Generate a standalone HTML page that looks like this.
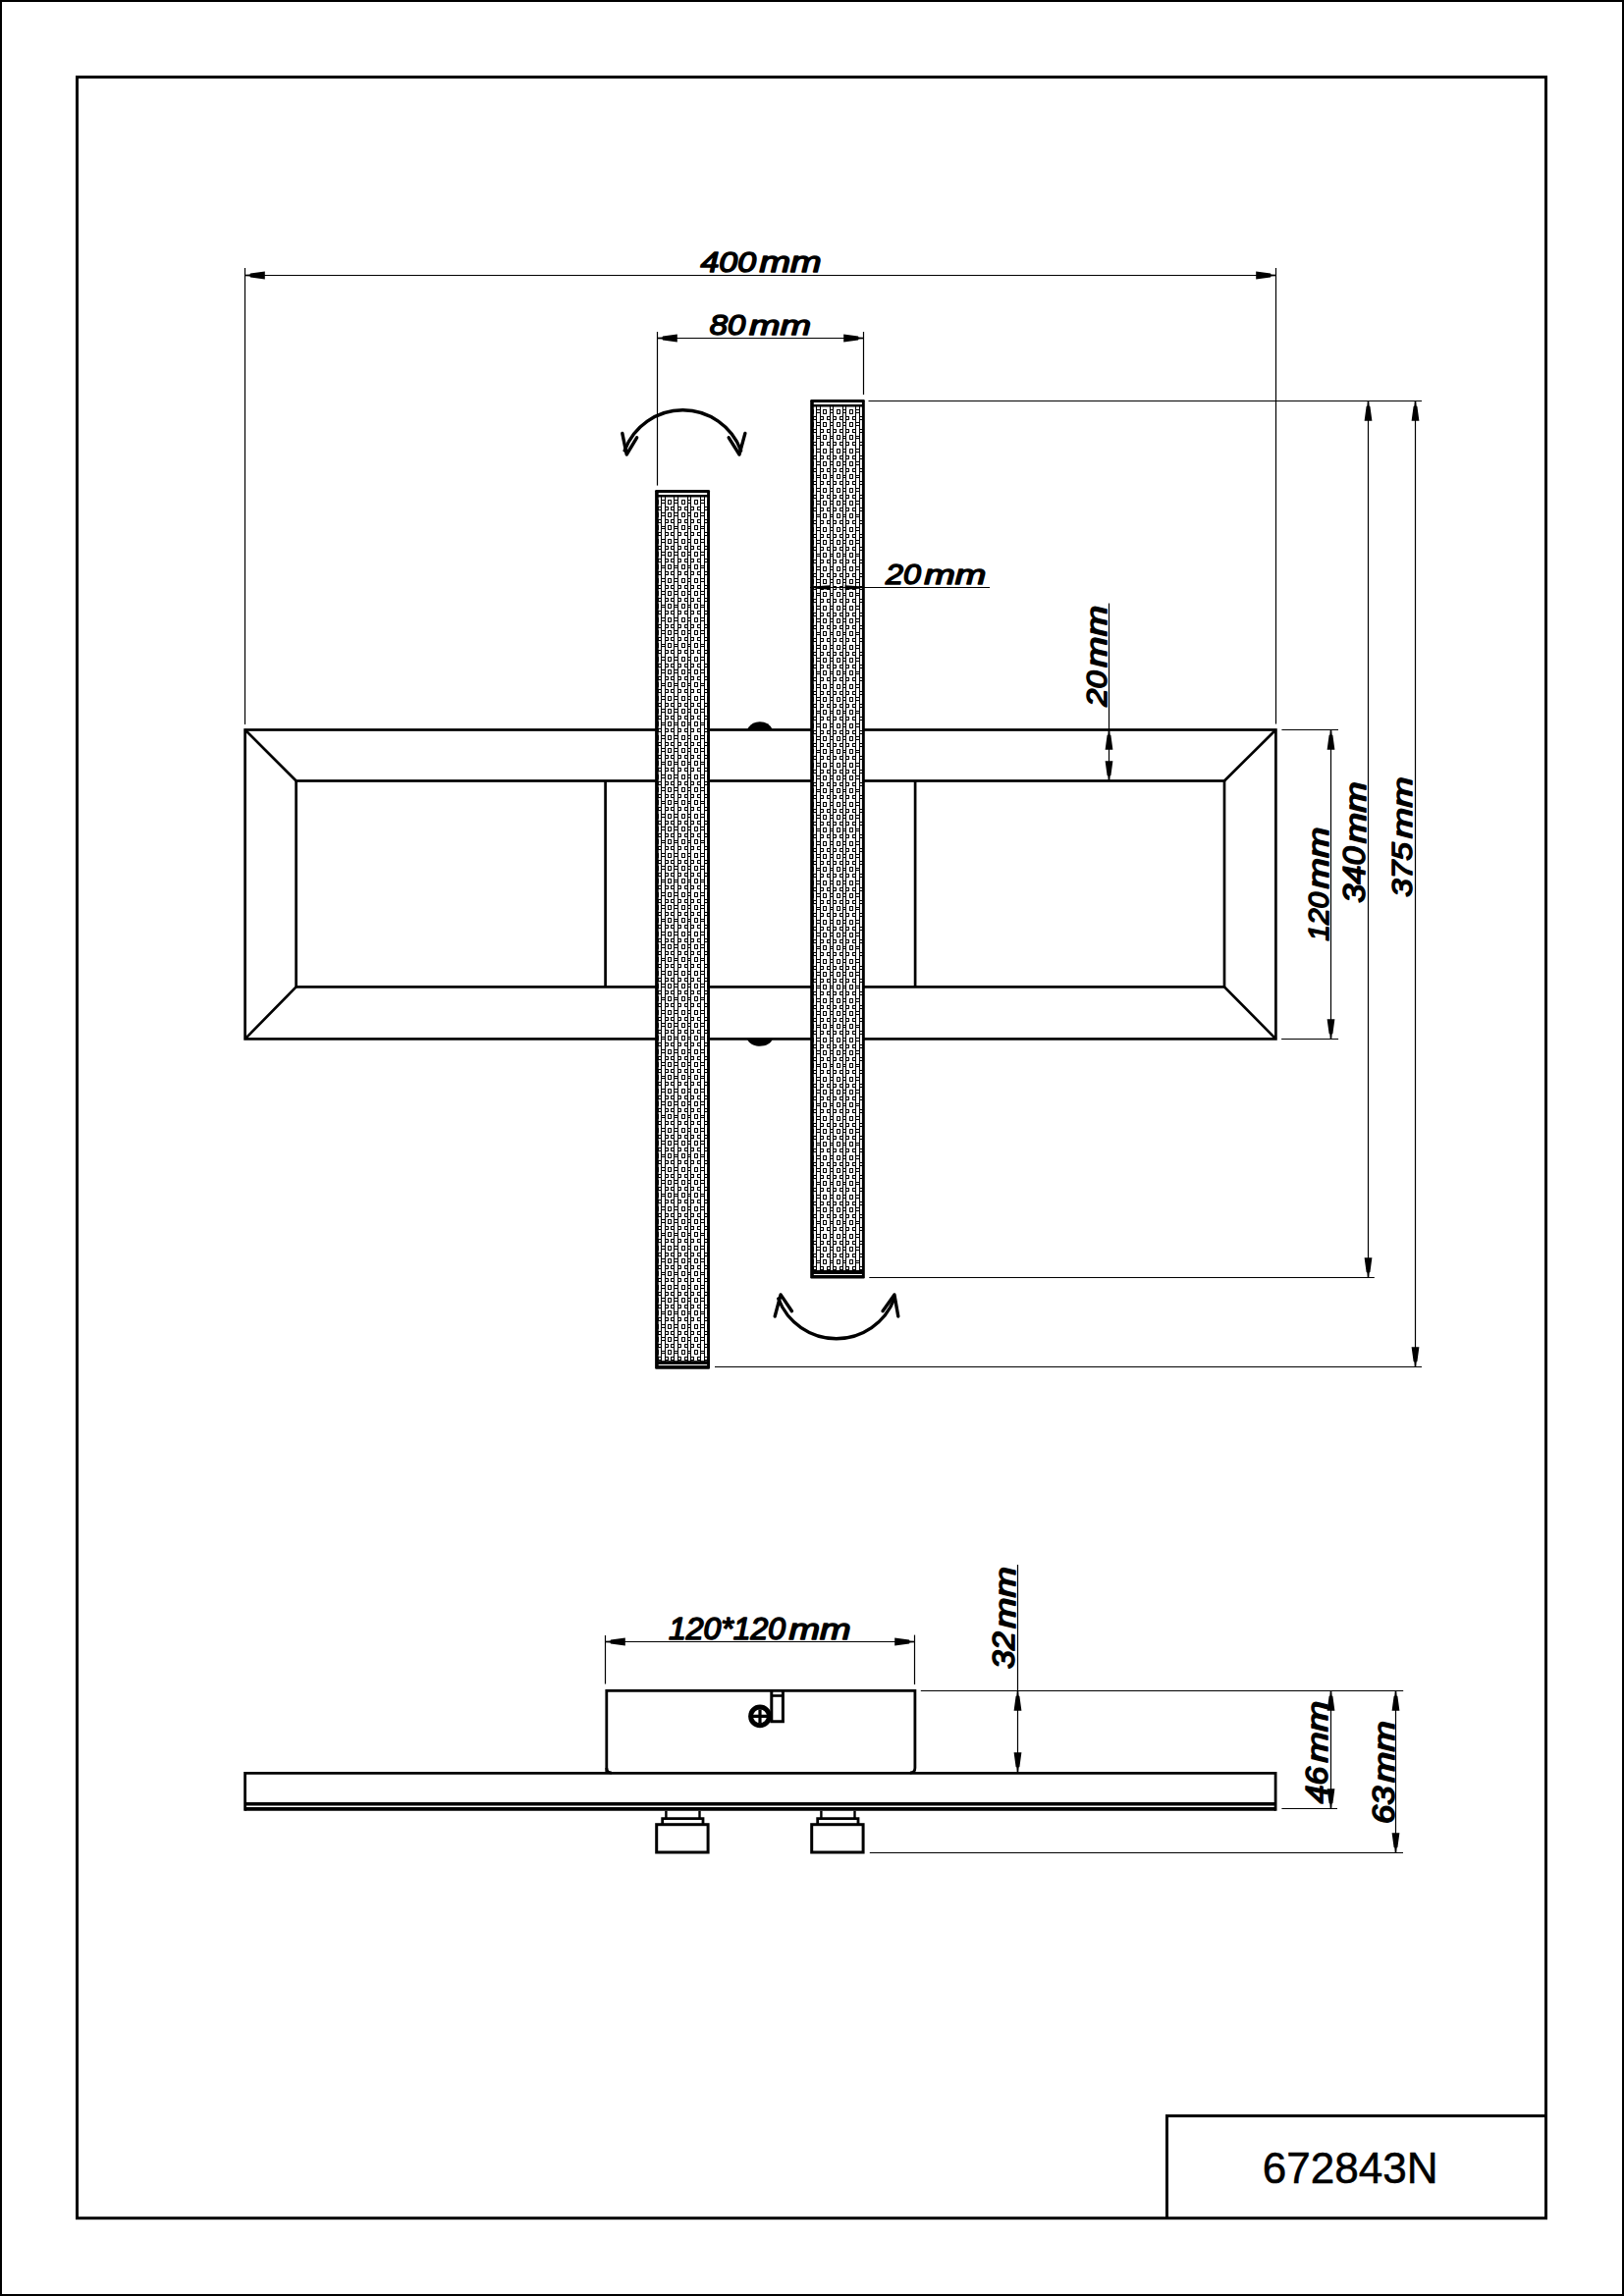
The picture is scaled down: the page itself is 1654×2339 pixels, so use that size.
<!DOCTYPE html>
<html><head><meta charset="utf-8"><title>672843N</title>
<style>html,body{margin:0;padding:0;background:#fff;overflow:hidden}svg{display:block}</style></head>
<body><svg width="1654" height="2339" viewBox="0 0 1654 2339">
<defs><path id="ar" d="M0,-0.7 L5,-1.1 L5.5,-1.9 L20.3,-3.9 L20.3,3.9 L5.5,1.9 L5,1.1 L0,0.7 Z" fill="#000" stroke="none"/></defs>
<rect x="0" y="0" width="1654" height="2339" fill="#fff"/>
<g fill="none" stroke="#000">
<rect x="1" y="1" width="1652" height="2337" stroke-width="2"/>
<rect x="78.5" y="78.5" width="1496" height="2181.2" stroke-width="3"/>
<path d="M1188.5,2259.7V2155.5H1574.5" stroke-width="3"/>
</g>
<g fill="none" stroke="#000" stroke-width="2.7" stroke-linejoin="miter">
<rect x="249.6" y="743.5" width="1049.8" height="314.9"/>
<rect x="301.6" y="795.5" width="945.4" height="209.9"/>
<path d="M249.6,743.5L301.6,795.5 M1299.4,743.5L1247,795.5 M249.6,1058.4L301.6,1005.4 M1299.4,1058.4L1247,1005.4"/>
<path d="M616.6,795.5V1005.4 M932.1,795.5V1005.4"/>
</g>
<path d="M760.8,743.5 A14.6,14.6 0 0 1 787,743.5 Z" fill="#000"/>
<path d="M760.8,1058 C764,1068.3 784,1068.3 787,1058 Z" fill="#000"/>
<rect x="667.1" y="499.1" width="55.9" height="895.7" rx="1.2" fill="#000" stroke="none"/>
<rect x="670.7" y="506.5" width="49.4" height="879.7" fill="#fff" stroke="none"/>
<rect x="670.7" y="502" width="49.4" height="2" fill="#fff" stroke="none"/>
<rect x="670.7" y="1390" width="49.4" height="1" fill="#fff" stroke="none"/>
<path d="M670,509h1v1h-1zM670,513h1v1h-1zM670,509h1v5h-1zM670,516h4v1h-4zM670,519h4v1h-4zM670,516h1v4h-1zM673,516h1v4h-1zM670,522h1v1h-1zM670,526h1v1h-1zM670,522h1v5h-1zM670,529h4v1h-4zM670,532h4v1h-4zM670,529h1v4h-1zM673,529h1v4h-1zM670,535h1v1h-1zM670,539h1v1h-1zM670,535h1v5h-1zM670,542h4v1h-4zM670,545h4v1h-4zM670,542h1v4h-1zM673,542h1v4h-1zM670,549h1v1h-1zM670,553h1v1h-1zM670,549h1v5h-1zM670,556h4v1h-4zM670,559h4v1h-4zM670,556h1v4h-1zM673,556h1v4h-1zM670,562h1v1h-1zM670,566h1v1h-1zM670,562h1v5h-1zM670,569h4v1h-4zM670,572h4v1h-4zM670,569h1v4h-1zM673,569h1v4h-1zM670,575h1v1h-1zM670,579h1v1h-1zM670,575h1v5h-1zM670,582h4v1h-4zM670,585h4v1h-4zM670,582h1v4h-1zM673,582h1v4h-1zM670,589h1v1h-1zM670,593h1v1h-1zM670,589h1v5h-1zM670,596h4v1h-4zM670,599h4v1h-4zM670,596h1v4h-1zM673,596h1v4h-1zM670,602h1v1h-1zM670,606h1v1h-1zM670,602h1v5h-1zM670,609h4v1h-4zM670,612h4v1h-4zM670,609h1v4h-1zM673,609h1v4h-1zM670,615h1v1h-1zM670,619h1v1h-1zM670,615h1v5h-1zM670,622h4v1h-4zM670,625h4v1h-4zM670,622h1v4h-1zM673,622h1v4h-1zM670,629h1v1h-1zM670,633h1v1h-1zM670,629h1v5h-1zM670,636h4v1h-4zM670,639h4v1h-4zM670,636h1v4h-1zM673,636h1v4h-1zM670,642h1v1h-1zM670,646h1v1h-1zM670,642h1v5h-1zM670,649h4v1h-4zM670,652h4v1h-4zM670,649h1v4h-1zM673,649h1v4h-1zM670,655h1v1h-1zM670,659h1v1h-1zM670,655h1v5h-1zM670,662h4v1h-4zM670,665h4v1h-4zM670,662h1v4h-1zM673,662h1v4h-1zM670,669h1v1h-1zM670,673h1v1h-1zM670,669h1v5h-1zM670,676h4v1h-4zM670,679h4v1h-4zM670,676h1v4h-1zM673,676h1v4h-1zM670,682h1v1h-1zM670,686h1v1h-1zM670,682h1v5h-1zM670,689h4v1h-4zM670,692h4v1h-4zM670,689h1v4h-1zM673,689h1v4h-1zM670,695h1v1h-1zM670,699h1v1h-1zM670,695h1v5h-1zM670,702h4v1h-4zM670,705h4v1h-4zM670,702h1v4h-1zM673,702h1v4h-1zM670,709h1v1h-1zM670,713h1v1h-1zM670,709h1v5h-1zM670,716h4v1h-4zM670,719h4v1h-4zM670,716h1v4h-1zM673,716h1v4h-1zM670,722h1v1h-1zM670,726h1v1h-1zM670,722h1v5h-1zM670,729h4v1h-4zM670,732h4v1h-4zM670,729h1v4h-1zM673,729h1v4h-1zM670,735h1v1h-1zM670,739h1v1h-1zM670,735h1v5h-1zM670,742h4v1h-4zM670,745h4v1h-4zM670,742h1v4h-1zM673,742h1v4h-1zM670,749h1v1h-1zM670,753h1v1h-1zM670,749h1v5h-1zM670,756h4v1h-4zM670,759h4v1h-4zM670,756h1v4h-1zM673,756h1v4h-1zM670,762h1v1h-1zM670,766h1v1h-1zM670,762h1v5h-1zM670,769h4v1h-4zM670,772h4v1h-4zM670,769h1v4h-1zM673,769h1v4h-1zM670,775h1v1h-1zM670,779h1v1h-1zM670,775h1v5h-1zM670,782h4v1h-4zM670,785h4v1h-4zM670,782h1v4h-1zM673,782h1v4h-1zM670,789h1v1h-1zM670,793h1v1h-1zM670,789h1v5h-1zM670,796h4v1h-4zM670,799h4v1h-4zM670,796h1v4h-1zM673,796h1v4h-1zM670,802h1v1h-1zM670,806h1v1h-1zM670,802h1v5h-1zM670,809h4v1h-4zM670,812h4v1h-4zM670,809h1v4h-1zM673,809h1v4h-1zM670,815h1v1h-1zM670,819h1v1h-1zM670,815h1v5h-1zM670,822h4v1h-4zM670,825h4v1h-4zM670,822h1v4h-1zM673,822h1v4h-1zM670,829h1v1h-1zM670,833h1v1h-1zM670,829h1v5h-1zM670,836h4v1h-4zM670,839h4v1h-4zM670,836h1v4h-1zM673,836h1v4h-1zM670,842h1v1h-1zM670,846h1v1h-1zM670,842h1v5h-1zM670,849h4v1h-4zM670,852h4v1h-4zM670,849h1v4h-1zM673,849h1v4h-1zM670,855h1v1h-1zM670,859h1v1h-1zM670,855h1v5h-1zM670,862h4v1h-4zM670,865h4v1h-4zM670,862h1v4h-1zM673,862h1v4h-1zM670,869h1v1h-1zM670,873h1v1h-1zM670,869h1v5h-1zM670,876h4v1h-4zM670,879h4v1h-4zM670,876h1v4h-1zM673,876h1v4h-1zM670,882h1v1h-1zM670,886h1v1h-1zM670,882h1v5h-1zM670,889h4v1h-4zM670,892h4v1h-4zM670,889h1v4h-1zM673,889h1v4h-1zM670,895h1v1h-1zM670,899h1v1h-1zM670,895h1v5h-1zM670,902h4v1h-4zM670,905h4v1h-4zM670,902h1v4h-1zM673,902h1v4h-1zM670,909h1v1h-1zM670,913h1v1h-1zM670,909h1v5h-1zM670,916h4v1h-4zM670,919h4v1h-4zM670,916h1v4h-1zM673,916h1v4h-1zM670,922h1v1h-1zM670,926h1v1h-1zM670,922h1v5h-1zM670,929h4v1h-4zM670,932h4v1h-4zM670,929h1v4h-1zM673,929h1v4h-1zM670,935h1v1h-1zM670,939h1v1h-1zM670,935h1v5h-1zM670,942h4v1h-4zM670,945h4v1h-4zM670,942h1v4h-1zM673,942h1v4h-1zM670,949h1v1h-1zM670,953h1v1h-1zM670,949h1v5h-1zM670,956h4v1h-4zM670,959h4v1h-4zM670,956h1v4h-1zM673,956h1v4h-1zM670,962h1v1h-1zM670,966h1v1h-1zM670,962h1v5h-1zM670,969h4v1h-4zM670,972h4v1h-4zM670,969h1v4h-1zM673,969h1v4h-1zM670,975h1v1h-1zM670,979h1v1h-1zM670,975h1v5h-1zM670,982h4v1h-4zM670,985h4v1h-4zM670,982h1v4h-1zM673,982h1v4h-1zM670,989h1v1h-1zM670,993h1v1h-1zM670,989h1v5h-1zM670,996h4v1h-4zM670,999h4v1h-4zM670,996h1v4h-1zM673,996h1v4h-1zM670,1002h1v1h-1zM670,1006h1v1h-1zM670,1002h1v5h-1zM670,1009h4v1h-4zM670,1012h4v1h-4zM670,1009h1v4h-1zM673,1009h1v4h-1zM670,1015h1v1h-1zM670,1019h1v1h-1zM670,1015h1v5h-1zM670,1022h4v1h-4zM670,1025h4v1h-4zM670,1022h1v4h-1zM673,1022h1v4h-1zM670,1029h1v1h-1zM670,1033h1v1h-1zM670,1029h1v5h-1zM670,1036h4v1h-4zM670,1039h4v1h-4zM670,1036h1v4h-1zM673,1036h1v4h-1zM670,1042h1v1h-1zM670,1046h1v1h-1zM670,1042h1v5h-1zM670,1049h4v1h-4zM670,1052h4v1h-4zM670,1049h1v4h-1zM673,1049h1v4h-1zM670,1055h1v1h-1zM670,1059h1v1h-1zM670,1055h1v5h-1zM670,1062h4v1h-4zM670,1065h4v1h-4zM670,1062h1v4h-1zM673,1062h1v4h-1zM670,1069h1v1h-1zM670,1073h1v1h-1zM670,1069h1v5h-1zM670,1076h4v1h-4zM670,1079h4v1h-4zM670,1076h1v4h-1zM673,1076h1v4h-1zM670,1082h1v1h-1zM670,1086h1v1h-1zM670,1082h1v5h-1zM670,1089h4v1h-4zM670,1092h4v1h-4zM670,1089h1v4h-1zM673,1089h1v4h-1zM670,1095h1v1h-1zM670,1099h1v1h-1zM670,1095h1v5h-1zM670,1102h4v1h-4zM670,1105h4v1h-4zM670,1102h1v4h-1zM673,1102h1v4h-1zM670,1109h1v1h-1zM670,1113h1v1h-1zM670,1109h1v5h-1zM670,1116h4v1h-4zM670,1119h4v1h-4zM670,1116h1v4h-1zM673,1116h1v4h-1zM670,1122h1v1h-1zM670,1126h1v1h-1zM670,1122h1v5h-1zM670,1129h4v1h-4zM670,1132h4v1h-4zM670,1129h1v4h-1zM673,1129h1v4h-1zM670,1135h1v1h-1zM670,1139h1v1h-1zM670,1135h1v5h-1zM670,1142h4v1h-4zM670,1145h4v1h-4zM670,1142h1v4h-1zM673,1142h1v4h-1zM670,1149h1v1h-1zM670,1153h1v1h-1zM670,1149h1v5h-1zM670,1156h4v1h-4zM670,1159h4v1h-4zM670,1156h1v4h-1zM673,1156h1v4h-1zM670,1162h1v1h-1zM670,1166h1v1h-1zM670,1162h1v5h-1zM670,1169h4v1h-4zM670,1172h4v1h-4zM670,1169h1v4h-1zM673,1169h1v4h-1zM670,1175h1v1h-1zM670,1179h1v1h-1zM670,1175h1v5h-1zM670,1182h4v1h-4zM670,1185h4v1h-4zM670,1182h1v4h-1zM673,1182h1v4h-1zM670,1189h1v1h-1zM670,1193h1v1h-1zM670,1189h1v5h-1zM670,1196h4v1h-4zM670,1199h4v1h-4zM670,1196h1v4h-1zM673,1196h1v4h-1zM670,1202h1v1h-1zM670,1206h1v1h-1zM670,1202h1v5h-1zM670,1209h4v1h-4zM670,1212h4v1h-4zM670,1209h1v4h-1zM673,1209h1v4h-1zM670,1215h1v1h-1zM670,1219h1v1h-1zM670,1215h1v5h-1zM670,1222h4v1h-4zM670,1225h4v1h-4zM670,1222h1v4h-1zM673,1222h1v4h-1zM670,1229h1v1h-1zM670,1233h1v1h-1zM670,1229h1v5h-1zM670,1236h4v1h-4zM670,1239h4v1h-4zM670,1236h1v4h-1zM673,1236h1v4h-1zM670,1242h1v1h-1zM670,1246h1v1h-1zM670,1242h1v5h-1zM670,1249h4v1h-4zM670,1252h4v1h-4zM670,1249h1v4h-1zM673,1249h1v4h-1zM670,1255h1v1h-1zM670,1259h1v1h-1zM670,1255h1v5h-1zM670,1262h4v1h-4zM670,1265h4v1h-4zM670,1262h1v4h-1zM673,1262h1v4h-1zM670,1269h1v1h-1zM670,1273h1v1h-1zM670,1269h1v5h-1zM670,1276h4v1h-4zM670,1279h4v1h-4zM670,1276h1v4h-1zM673,1276h1v4h-1zM670,1282h1v1h-1zM670,1286h1v1h-1zM670,1282h1v5h-1zM670,1289h4v1h-4zM670,1292h4v1h-4zM670,1289h1v4h-1zM673,1289h1v4h-1zM670,1295h1v1h-1zM670,1299h1v1h-1zM670,1295h1v5h-1zM670,1302h4v1h-4zM670,1305h4v1h-4zM670,1302h1v4h-1zM673,1302h1v4h-1zM670,1309h1v1h-1zM670,1313h1v1h-1zM670,1309h1v5h-1zM670,1316h4v1h-4zM670,1319h4v1h-4zM670,1316h1v4h-1zM673,1316h1v4h-1zM670,1322h1v1h-1zM670,1326h1v1h-1zM670,1322h1v5h-1zM670,1329h4v1h-4zM670,1332h4v1h-4zM670,1329h1v4h-1zM673,1329h1v4h-1zM670,1335h1v1h-1zM670,1339h1v1h-1zM670,1335h1v5h-1zM670,1342h4v1h-4zM670,1345h4v1h-4zM670,1342h1v4h-1zM673,1342h1v4h-1zM670,1349h1v1h-1zM670,1353h1v1h-1zM670,1349h1v5h-1zM670,1356h4v1h-4zM670,1359h4v1h-4zM670,1356h1v4h-1zM673,1356h1v4h-1zM670,1362h1v1h-1zM670,1366h1v1h-1zM670,1362h1v5h-1zM670,1369h4v1h-4zM670,1372h4v1h-4zM670,1369h1v4h-1zM673,1369h1v4h-1zM670,1375h1v1h-1zM670,1379h1v1h-1zM670,1375h1v5h-1zM670,1382h4v1h-4zM670,1385h4v1h-4zM670,1382h1v4h-1zM673,1382h1v4h-1zM673,506h1v881h-1zM677,506h1v881h-1zM673,509h5v1h-5zM673,512h5v1h-5zM680,509h4v1h-4zM680,513h4v1h-4zM680,509h1v5h-1zM683,509h1v5h-1zM677,516h4v1h-4zM677,519h4v1h-4zM677,516h1v4h-1zM680,516h1v4h-1zM683,516h4v1h-4zM683,519h4v1h-4zM683,516h1v4h-1zM686,516h1v4h-1zM673,522h5v1h-5zM673,525h5v1h-5zM680,522h4v1h-4zM680,526h4v1h-4zM680,522h1v5h-1zM683,522h1v5h-1zM677,529h4v1h-4zM677,532h4v1h-4zM677,529h1v4h-1zM680,529h1v4h-1zM683,529h4v1h-4zM683,532h4v1h-4zM683,529h1v4h-1zM686,529h1v4h-1zM673,536h5v1h-5zM673,538h5v1h-5zM680,535h4v1h-4zM680,539h4v1h-4zM680,535h1v5h-1zM683,535h1v5h-1zM677,542h4v1h-4zM677,545h4v1h-4zM677,542h1v4h-1zM680,542h1v4h-1zM683,542h4v1h-4zM683,545h4v1h-4zM683,542h1v4h-1zM686,542h1v4h-1zM673,549h5v1h-5zM673,552h5v1h-5zM680,549h4v1h-4zM680,553h4v1h-4zM680,549h1v5h-1zM683,549h1v5h-1zM677,556h4v1h-4zM677,559h4v1h-4zM677,556h1v4h-1zM680,556h1v4h-1zM683,556h4v1h-4zM683,559h4v1h-4zM683,556h1v4h-1zM686,556h1v4h-1zM673,562h5v1h-5zM673,565h5v1h-5zM680,562h4v1h-4zM680,566h4v1h-4zM680,562h1v5h-1zM683,562h1v5h-1zM677,569h4v1h-4zM677,572h4v1h-4zM677,569h1v4h-1zM680,569h1v4h-1zM683,569h4v1h-4zM683,572h4v1h-4zM683,569h1v4h-1zM686,569h1v4h-1zM673,576h5v1h-5zM673,578h5v1h-5zM680,575h4v1h-4zM680,579h4v1h-4zM680,575h1v5h-1zM683,575h1v5h-1zM677,582h4v1h-4zM677,585h4v1h-4zM677,582h1v4h-1zM680,582h1v4h-1zM683,582h4v1h-4zM683,585h4v1h-4zM683,582h1v4h-1zM686,582h1v4h-1zM673,589h5v1h-5zM673,592h5v1h-5zM680,589h4v1h-4zM680,593h4v1h-4zM680,589h1v5h-1zM683,589h1v5h-1zM677,596h4v1h-4zM677,599h4v1h-4zM677,596h1v4h-1zM680,596h1v4h-1zM683,596h4v1h-4zM683,599h4v1h-4zM683,596h1v4h-1zM686,596h1v4h-1zM673,602h5v1h-5zM673,605h5v1h-5zM680,602h4v1h-4zM680,606h4v1h-4zM680,602h1v5h-1zM683,602h1v5h-1zM677,609h4v1h-4zM677,612h4v1h-4zM677,609h1v4h-1zM680,609h1v4h-1zM683,609h4v1h-4zM683,612h4v1h-4zM683,609h1v4h-1zM686,609h1v4h-1zM673,616h5v1h-5zM673,618h5v1h-5zM680,615h4v1h-4zM680,619h4v1h-4zM680,615h1v5h-1zM683,615h1v5h-1zM677,622h4v1h-4zM677,625h4v1h-4zM677,622h1v4h-1zM680,622h1v4h-1zM683,622h4v1h-4zM683,625h4v1h-4zM683,622h1v4h-1zM686,622h1v4h-1zM673,629h5v1h-5zM673,632h5v1h-5zM680,629h4v1h-4zM680,633h4v1h-4zM680,629h1v5h-1zM683,629h1v5h-1zM677,636h4v1h-4zM677,639h4v1h-4zM677,636h1v4h-1zM680,636h1v4h-1zM683,636h4v1h-4zM683,639h4v1h-4zM683,636h1v4h-1zM686,636h1v4h-1zM673,642h5v1h-5zM673,645h5v1h-5zM680,642h4v1h-4zM680,646h4v1h-4zM680,642h1v5h-1zM683,642h1v5h-1zM677,649h4v1h-4zM677,652h4v1h-4zM677,649h1v4h-1zM680,649h1v4h-1zM683,649h4v1h-4zM683,652h4v1h-4zM683,649h1v4h-1zM686,649h1v4h-1zM673,656h5v1h-5zM673,658h5v1h-5zM680,655h4v1h-4zM680,659h4v1h-4zM680,655h1v5h-1zM683,655h1v5h-1zM677,662h4v1h-4zM677,665h4v1h-4zM677,662h1v4h-1zM680,662h1v4h-1zM683,662h4v1h-4zM683,665h4v1h-4zM683,662h1v4h-1zM686,662h1v4h-1zM673,669h5v1h-5zM673,672h5v1h-5zM680,669h4v1h-4zM680,673h4v1h-4zM680,669h1v5h-1zM683,669h1v5h-1zM677,676h4v1h-4zM677,679h4v1h-4zM677,676h1v4h-1zM680,676h1v4h-1zM683,676h4v1h-4zM683,679h4v1h-4zM683,676h1v4h-1zM686,676h1v4h-1zM673,682h5v1h-5zM673,685h5v1h-5zM680,682h4v1h-4zM680,686h4v1h-4zM680,682h1v5h-1zM683,682h1v5h-1zM677,689h4v1h-4zM677,692h4v1h-4zM677,689h1v4h-1zM680,689h1v4h-1zM683,689h4v1h-4zM683,692h4v1h-4zM683,689h1v4h-1zM686,689h1v4h-1zM673,696h5v1h-5zM673,698h5v1h-5zM680,695h4v1h-4zM680,699h4v1h-4zM680,695h1v5h-1zM683,695h1v5h-1zM677,702h4v1h-4zM677,705h4v1h-4zM677,702h1v4h-1zM680,702h1v4h-1zM683,702h4v1h-4zM683,705h4v1h-4zM683,702h1v4h-1zM686,702h1v4h-1zM673,709h5v1h-5zM673,712h5v1h-5zM680,709h4v1h-4zM680,713h4v1h-4zM680,709h1v5h-1zM683,709h1v5h-1zM677,716h4v1h-4zM677,719h4v1h-4zM677,716h1v4h-1zM680,716h1v4h-1zM683,716h4v1h-4zM683,719h4v1h-4zM683,716h1v4h-1zM686,716h1v4h-1zM673,722h5v1h-5zM673,725h5v1h-5zM680,722h4v1h-4zM680,726h4v1h-4zM680,722h1v5h-1zM683,722h1v5h-1zM677,729h4v1h-4zM677,732h4v1h-4zM677,729h1v4h-1zM680,729h1v4h-1zM683,729h4v1h-4zM683,732h4v1h-4zM683,729h1v4h-1zM686,729h1v4h-1zM673,736h5v1h-5zM673,738h5v1h-5zM680,735h4v1h-4zM680,739h4v1h-4zM680,735h1v5h-1zM683,735h1v5h-1zM677,742h4v1h-4zM677,745h4v1h-4zM677,742h1v4h-1zM680,742h1v4h-1zM683,742h4v1h-4zM683,745h4v1h-4zM683,742h1v4h-1zM686,742h1v4h-1zM673,749h5v1h-5zM673,752h5v1h-5zM680,749h4v1h-4zM680,753h4v1h-4zM680,749h1v5h-1zM683,749h1v5h-1zM677,756h4v1h-4zM677,759h4v1h-4zM677,756h1v4h-1zM680,756h1v4h-1zM683,756h4v1h-4zM683,759h4v1h-4zM683,756h1v4h-1zM686,756h1v4h-1zM673,762h5v1h-5zM673,765h5v1h-5zM680,762h4v1h-4zM680,766h4v1h-4zM680,762h1v5h-1zM683,762h1v5h-1zM677,769h4v1h-4zM677,772h4v1h-4zM677,769h1v4h-1zM680,769h1v4h-1zM683,769h4v1h-4zM683,772h4v1h-4zM683,769h1v4h-1zM686,769h1v4h-1zM673,776h5v1h-5zM673,778h5v1h-5zM680,775h4v1h-4zM680,779h4v1h-4zM680,775h1v5h-1zM683,775h1v5h-1zM677,782h4v1h-4zM677,785h4v1h-4zM677,782h1v4h-1zM680,782h1v4h-1zM683,782h4v1h-4zM683,785h4v1h-4zM683,782h1v4h-1zM686,782h1v4h-1zM673,789h5v1h-5zM673,792h5v1h-5zM680,789h4v1h-4zM680,793h4v1h-4zM680,789h1v5h-1zM683,789h1v5h-1zM677,796h4v1h-4zM677,799h4v1h-4zM677,796h1v4h-1zM680,796h1v4h-1zM683,796h4v1h-4zM683,799h4v1h-4zM683,796h1v4h-1zM686,796h1v4h-1zM673,802h5v1h-5zM673,805h5v1h-5zM680,802h4v1h-4zM680,806h4v1h-4zM680,802h1v5h-1zM683,802h1v5h-1zM677,809h4v1h-4zM677,812h4v1h-4zM677,809h1v4h-1zM680,809h1v4h-1zM683,809h4v1h-4zM683,812h4v1h-4zM683,809h1v4h-1zM686,809h1v4h-1zM673,816h5v1h-5zM673,818h5v1h-5zM680,815h4v1h-4zM680,819h4v1h-4zM680,815h1v5h-1zM683,815h1v5h-1zM677,822h4v1h-4zM677,825h4v1h-4zM677,822h1v4h-1zM680,822h1v4h-1zM683,822h4v1h-4zM683,825h4v1h-4zM683,822h1v4h-1zM686,822h1v4h-1zM673,829h5v1h-5zM673,832h5v1h-5zM680,829h4v1h-4zM680,833h4v1h-4zM680,829h1v5h-1zM683,829h1v5h-1zM677,836h4v1h-4zM677,839h4v1h-4zM677,836h1v4h-1zM680,836h1v4h-1zM683,836h4v1h-4zM683,839h4v1h-4zM683,836h1v4h-1zM686,836h1v4h-1zM673,842h5v1h-5zM673,845h5v1h-5zM680,842h4v1h-4zM680,846h4v1h-4zM680,842h1v5h-1zM683,842h1v5h-1zM677,849h4v1h-4zM677,852h4v1h-4zM677,849h1v4h-1zM680,849h1v4h-1zM683,849h4v1h-4zM683,852h4v1h-4zM683,849h1v4h-1zM686,849h1v4h-1zM673,856h5v1h-5zM673,858h5v1h-5zM680,855h4v1h-4zM680,859h4v1h-4zM680,855h1v5h-1zM683,855h1v5h-1zM677,862h4v1h-4zM677,865h4v1h-4zM677,862h1v4h-1zM680,862h1v4h-1zM683,862h4v1h-4zM683,865h4v1h-4zM683,862h1v4h-1zM686,862h1v4h-1zM673,869h5v1h-5zM673,872h5v1h-5zM680,869h4v1h-4zM680,873h4v1h-4zM680,869h1v5h-1zM683,869h1v5h-1zM677,876h4v1h-4zM677,879h4v1h-4zM677,876h1v4h-1zM680,876h1v4h-1zM683,876h4v1h-4zM683,879h4v1h-4zM683,876h1v4h-1zM686,876h1v4h-1zM673,882h5v1h-5zM673,885h5v1h-5zM680,882h4v1h-4zM680,886h4v1h-4zM680,882h1v5h-1zM683,882h1v5h-1zM677,889h4v1h-4zM677,892h4v1h-4zM677,889h1v4h-1zM680,889h1v4h-1zM683,889h4v1h-4zM683,892h4v1h-4zM683,889h1v4h-1zM686,889h1v4h-1zM673,896h5v1h-5zM673,898h5v1h-5zM680,895h4v1h-4zM680,899h4v1h-4zM680,895h1v5h-1zM683,895h1v5h-1zM677,902h4v1h-4zM677,905h4v1h-4zM677,902h1v4h-1zM680,902h1v4h-1zM683,902h4v1h-4zM683,905h4v1h-4zM683,902h1v4h-1zM686,902h1v4h-1zM673,909h5v1h-5zM673,912h5v1h-5zM680,909h4v1h-4zM680,913h4v1h-4zM680,909h1v5h-1zM683,909h1v5h-1zM677,916h4v1h-4zM677,919h4v1h-4zM677,916h1v4h-1zM680,916h1v4h-1zM683,916h4v1h-4zM683,919h4v1h-4zM683,916h1v4h-1zM686,916h1v4h-1zM673,922h5v1h-5zM673,925h5v1h-5zM680,922h4v1h-4zM680,926h4v1h-4zM680,922h1v5h-1zM683,922h1v5h-1zM677,929h4v1h-4zM677,932h4v1h-4zM677,929h1v4h-1zM680,929h1v4h-1zM683,929h4v1h-4zM683,932h4v1h-4zM683,929h1v4h-1zM686,929h1v4h-1zM673,936h5v1h-5zM673,938h5v1h-5zM680,935h4v1h-4zM680,939h4v1h-4zM680,935h1v5h-1zM683,935h1v5h-1zM677,942h4v1h-4zM677,945h4v1h-4zM677,942h1v4h-1zM680,942h1v4h-1zM683,942h4v1h-4zM683,945h4v1h-4zM683,942h1v4h-1zM686,942h1v4h-1zM673,949h5v1h-5zM673,952h5v1h-5zM680,949h4v1h-4zM680,953h4v1h-4zM680,949h1v5h-1zM683,949h1v5h-1zM677,956h4v1h-4zM677,959h4v1h-4zM677,956h1v4h-1zM680,956h1v4h-1zM683,956h4v1h-4zM683,959h4v1h-4zM683,956h1v4h-1zM686,956h1v4h-1zM673,962h5v1h-5zM673,965h5v1h-5zM680,962h4v1h-4zM680,966h4v1h-4zM680,962h1v5h-1zM683,962h1v5h-1zM677,969h4v1h-4zM677,972h4v1h-4zM677,969h1v4h-1zM680,969h1v4h-1zM683,969h4v1h-4zM683,972h4v1h-4zM683,969h1v4h-1zM686,969h1v4h-1zM673,976h5v1h-5zM673,978h5v1h-5zM680,975h4v1h-4zM680,979h4v1h-4zM680,975h1v5h-1zM683,975h1v5h-1zM677,982h4v1h-4zM677,985h4v1h-4zM677,982h1v4h-1zM680,982h1v4h-1zM683,982h4v1h-4zM683,985h4v1h-4zM683,982h1v4h-1zM686,982h1v4h-1zM673,989h5v1h-5zM673,992h5v1h-5zM680,989h4v1h-4zM680,993h4v1h-4zM680,989h1v5h-1zM683,989h1v5h-1zM677,996h4v1h-4zM677,999h4v1h-4zM677,996h1v4h-1zM680,996h1v4h-1zM683,996h4v1h-4zM683,999h4v1h-4zM683,996h1v4h-1zM686,996h1v4h-1zM673,1002h5v1h-5zM673,1005h5v1h-5zM680,1002h4v1h-4zM680,1006h4v1h-4zM680,1002h1v5h-1zM683,1002h1v5h-1zM677,1009h4v1h-4zM677,1012h4v1h-4zM677,1009h1v4h-1zM680,1009h1v4h-1zM683,1009h4v1h-4zM683,1012h4v1h-4zM683,1009h1v4h-1zM686,1009h1v4h-1zM673,1016h5v1h-5zM673,1018h5v1h-5zM680,1015h4v1h-4zM680,1019h4v1h-4zM680,1015h1v5h-1zM683,1015h1v5h-1zM677,1022h4v1h-4zM677,1025h4v1h-4zM677,1022h1v4h-1zM680,1022h1v4h-1zM683,1022h4v1h-4zM683,1025h4v1h-4zM683,1022h1v4h-1zM686,1022h1v4h-1zM673,1029h5v1h-5zM673,1032h5v1h-5zM680,1029h4v1h-4zM680,1033h4v1h-4zM680,1029h1v5h-1zM683,1029h1v5h-1zM677,1036h4v1h-4zM677,1039h4v1h-4zM677,1036h1v4h-1zM680,1036h1v4h-1zM683,1036h4v1h-4zM683,1039h4v1h-4zM683,1036h1v4h-1zM686,1036h1v4h-1zM673,1042h5v1h-5zM673,1045h5v1h-5zM680,1042h4v1h-4zM680,1046h4v1h-4zM680,1042h1v5h-1zM683,1042h1v5h-1zM677,1049h4v1h-4zM677,1052h4v1h-4zM677,1049h1v4h-1zM680,1049h1v4h-1zM683,1049h4v1h-4zM683,1052h4v1h-4zM683,1049h1v4h-1zM686,1049h1v4h-1zM673,1056h5v1h-5zM673,1058h5v1h-5zM680,1055h4v1h-4zM680,1059h4v1h-4zM680,1055h1v5h-1zM683,1055h1v5h-1zM677,1062h4v1h-4zM677,1065h4v1h-4zM677,1062h1v4h-1zM680,1062h1v4h-1zM683,1062h4v1h-4zM683,1065h4v1h-4zM683,1062h1v4h-1zM686,1062h1v4h-1zM673,1069h5v1h-5zM673,1072h5v1h-5zM680,1069h4v1h-4zM680,1073h4v1h-4zM680,1069h1v5h-1zM683,1069h1v5h-1zM677,1076h4v1h-4zM677,1079h4v1h-4zM677,1076h1v4h-1zM680,1076h1v4h-1zM683,1076h4v1h-4zM683,1079h4v1h-4zM683,1076h1v4h-1zM686,1076h1v4h-1zM673,1082h5v1h-5zM673,1085h5v1h-5zM680,1082h4v1h-4zM680,1086h4v1h-4zM680,1082h1v5h-1zM683,1082h1v5h-1zM677,1089h4v1h-4zM677,1092h4v1h-4zM677,1089h1v4h-1zM680,1089h1v4h-1zM683,1089h4v1h-4zM683,1092h4v1h-4zM683,1089h1v4h-1zM686,1089h1v4h-1zM673,1096h5v1h-5zM673,1098h5v1h-5zM680,1095h4v1h-4zM680,1099h4v1h-4zM680,1095h1v5h-1zM683,1095h1v5h-1zM677,1102h4v1h-4zM677,1105h4v1h-4zM677,1102h1v4h-1zM680,1102h1v4h-1zM683,1102h4v1h-4zM683,1105h4v1h-4zM683,1102h1v4h-1zM686,1102h1v4h-1zM673,1109h5v1h-5zM673,1112h5v1h-5zM680,1109h4v1h-4zM680,1113h4v1h-4zM680,1109h1v5h-1zM683,1109h1v5h-1zM677,1116h4v1h-4zM677,1119h4v1h-4zM677,1116h1v4h-1zM680,1116h1v4h-1zM683,1116h4v1h-4zM683,1119h4v1h-4zM683,1116h1v4h-1zM686,1116h1v4h-1zM673,1122h5v1h-5zM673,1125h5v1h-5zM680,1122h4v1h-4zM680,1126h4v1h-4zM680,1122h1v5h-1zM683,1122h1v5h-1zM677,1129h4v1h-4zM677,1132h4v1h-4zM677,1129h1v4h-1zM680,1129h1v4h-1zM683,1129h4v1h-4zM683,1132h4v1h-4zM683,1129h1v4h-1zM686,1129h1v4h-1zM673,1136h5v1h-5zM673,1138h5v1h-5zM680,1135h4v1h-4zM680,1139h4v1h-4zM680,1135h1v5h-1zM683,1135h1v5h-1zM677,1142h4v1h-4zM677,1145h4v1h-4zM677,1142h1v4h-1zM680,1142h1v4h-1zM683,1142h4v1h-4zM683,1145h4v1h-4zM683,1142h1v4h-1zM686,1142h1v4h-1zM673,1149h5v1h-5zM673,1152h5v1h-5zM680,1149h4v1h-4zM680,1153h4v1h-4zM680,1149h1v5h-1zM683,1149h1v5h-1zM677,1156h4v1h-4zM677,1159h4v1h-4zM677,1156h1v4h-1zM680,1156h1v4h-1zM683,1156h4v1h-4zM683,1159h4v1h-4zM683,1156h1v4h-1zM686,1156h1v4h-1zM673,1162h5v1h-5zM673,1165h5v1h-5zM680,1162h4v1h-4zM680,1166h4v1h-4zM680,1162h1v5h-1zM683,1162h1v5h-1zM677,1169h4v1h-4zM677,1172h4v1h-4zM677,1169h1v4h-1zM680,1169h1v4h-1zM683,1169h4v1h-4zM683,1172h4v1h-4zM683,1169h1v4h-1zM686,1169h1v4h-1zM673,1176h5v1h-5zM673,1178h5v1h-5zM680,1175h4v1h-4zM680,1179h4v1h-4zM680,1175h1v5h-1zM683,1175h1v5h-1zM677,1182h4v1h-4zM677,1185h4v1h-4zM677,1182h1v4h-1zM680,1182h1v4h-1zM683,1182h4v1h-4zM683,1185h4v1h-4zM683,1182h1v4h-1zM686,1182h1v4h-1zM673,1189h5v1h-5zM673,1192h5v1h-5zM680,1189h4v1h-4zM680,1193h4v1h-4zM680,1189h1v5h-1zM683,1189h1v5h-1zM677,1196h4v1h-4zM677,1199h4v1h-4zM677,1196h1v4h-1zM680,1196h1v4h-1zM683,1196h4v1h-4zM683,1199h4v1h-4zM683,1196h1v4h-1zM686,1196h1v4h-1zM673,1202h5v1h-5zM673,1205h5v1h-5zM680,1202h4v1h-4zM680,1206h4v1h-4zM680,1202h1v5h-1zM683,1202h1v5h-1zM677,1209h4v1h-4zM677,1212h4v1h-4zM677,1209h1v4h-1zM680,1209h1v4h-1zM683,1209h4v1h-4zM683,1212h4v1h-4zM683,1209h1v4h-1zM686,1209h1v4h-1zM673,1216h5v1h-5zM673,1218h5v1h-5zM680,1215h4v1h-4zM680,1219h4v1h-4zM680,1215h1v5h-1zM683,1215h1v5h-1zM677,1222h4v1h-4zM677,1225h4v1h-4zM677,1222h1v4h-1zM680,1222h1v4h-1zM683,1222h4v1h-4zM683,1225h4v1h-4zM683,1222h1v4h-1zM686,1222h1v4h-1zM673,1229h5v1h-5zM673,1232h5v1h-5zM680,1229h4v1h-4zM680,1233h4v1h-4zM680,1229h1v5h-1zM683,1229h1v5h-1zM677,1236h4v1h-4zM677,1239h4v1h-4zM677,1236h1v4h-1zM680,1236h1v4h-1zM683,1236h4v1h-4zM683,1239h4v1h-4zM683,1236h1v4h-1zM686,1236h1v4h-1zM673,1242h5v1h-5zM673,1245h5v1h-5zM680,1242h4v1h-4zM680,1246h4v1h-4zM680,1242h1v5h-1zM683,1242h1v5h-1zM677,1249h4v1h-4zM677,1252h4v1h-4zM677,1249h1v4h-1zM680,1249h1v4h-1zM683,1249h4v1h-4zM683,1252h4v1h-4zM683,1249h1v4h-1zM686,1249h1v4h-1zM673,1256h5v1h-5zM673,1258h5v1h-5zM680,1255h4v1h-4zM680,1259h4v1h-4zM680,1255h1v5h-1zM683,1255h1v5h-1zM677,1262h4v1h-4zM677,1265h4v1h-4zM677,1262h1v4h-1zM680,1262h1v4h-1zM683,1262h4v1h-4zM683,1265h4v1h-4zM683,1262h1v4h-1zM686,1262h1v4h-1zM673,1269h5v1h-5zM673,1272h5v1h-5zM680,1269h4v1h-4zM680,1273h4v1h-4zM680,1269h1v5h-1zM683,1269h1v5h-1zM677,1276h4v1h-4zM677,1279h4v1h-4zM677,1276h1v4h-1zM680,1276h1v4h-1zM683,1276h4v1h-4zM683,1279h4v1h-4zM683,1276h1v4h-1zM686,1276h1v4h-1zM673,1282h5v1h-5zM673,1285h5v1h-5zM680,1282h4v1h-4zM680,1286h4v1h-4zM680,1282h1v5h-1zM683,1282h1v5h-1zM677,1289h4v1h-4zM677,1292h4v1h-4zM677,1289h1v4h-1zM680,1289h1v4h-1zM683,1289h4v1h-4zM683,1292h4v1h-4zM683,1289h1v4h-1zM686,1289h1v4h-1zM673,1296h5v1h-5zM673,1298h5v1h-5zM680,1295h4v1h-4zM680,1299h4v1h-4zM680,1295h1v5h-1zM683,1295h1v5h-1zM677,1302h4v1h-4zM677,1305h4v1h-4zM677,1302h1v4h-1zM680,1302h1v4h-1zM683,1302h4v1h-4zM683,1305h4v1h-4zM683,1302h1v4h-1zM686,1302h1v4h-1zM673,1309h5v1h-5zM673,1312h5v1h-5zM680,1309h4v1h-4zM680,1313h4v1h-4zM680,1309h1v5h-1zM683,1309h1v5h-1zM677,1316h4v1h-4zM677,1319h4v1h-4zM677,1316h1v4h-1zM680,1316h1v4h-1zM683,1316h4v1h-4zM683,1319h4v1h-4zM683,1316h1v4h-1zM686,1316h1v4h-1zM673,1322h5v1h-5zM673,1325h5v1h-5zM680,1322h4v1h-4zM680,1326h4v1h-4zM680,1322h1v5h-1zM683,1322h1v5h-1zM677,1329h4v1h-4zM677,1332h4v1h-4zM677,1329h1v4h-1zM680,1329h1v4h-1zM683,1329h4v1h-4zM683,1332h4v1h-4zM683,1329h1v4h-1zM686,1329h1v4h-1zM673,1336h5v1h-5zM673,1338h5v1h-5zM680,1335h4v1h-4zM680,1339h4v1h-4zM680,1335h1v5h-1zM683,1335h1v5h-1zM677,1342h4v1h-4zM677,1345h4v1h-4zM677,1342h1v4h-1zM680,1342h1v4h-1zM683,1342h4v1h-4zM683,1345h4v1h-4zM683,1342h1v4h-1zM686,1342h1v4h-1zM673,1349h5v1h-5zM673,1352h5v1h-5zM680,1349h4v1h-4zM680,1353h4v1h-4zM680,1349h1v5h-1zM683,1349h1v5h-1zM677,1356h4v1h-4zM677,1359h4v1h-4zM677,1356h1v4h-1zM680,1356h1v4h-1zM683,1356h4v1h-4zM683,1359h4v1h-4zM683,1356h1v4h-1zM686,1356h1v4h-1zM673,1362h5v1h-5zM673,1365h5v1h-5zM680,1362h4v1h-4zM680,1366h4v1h-4zM680,1362h1v5h-1zM683,1362h1v5h-1zM677,1369h4v1h-4zM677,1372h4v1h-4zM677,1369h1v4h-1zM680,1369h1v4h-1zM683,1369h4v1h-4zM683,1372h4v1h-4zM683,1369h1v4h-1zM686,1369h1v4h-1zM673,1376h5v1h-5zM673,1378h5v1h-5zM680,1375h4v1h-4zM680,1379h4v1h-4zM680,1375h1v5h-1zM683,1375h1v5h-1zM677,1382h4v1h-4zM677,1385h4v1h-4zM677,1382h1v4h-1zM680,1382h1v4h-1zM683,1382h4v1h-4zM683,1385h4v1h-4zM683,1382h1v4h-1zM686,1382h1v4h-1zM686,506h1v881h-1zM690,506h1v881h-1zM686,509h5v1h-5zM686,512h5v1h-5zM694,509h4v1h-4zM694,513h4v1h-4zM694,509h1v5h-1zM697,509h1v5h-1zM690,516h4v1h-4zM690,519h4v1h-4zM690,516h1v4h-1zM693,516h1v4h-1zM697,516h4v1h-4zM697,519h4v1h-4zM697,516h1v4h-1zM700,516h1v4h-1zM686,522h5v1h-5zM686,525h5v1h-5zM694,522h4v1h-4zM694,526h4v1h-4zM694,522h1v5h-1zM697,522h1v5h-1zM690,529h4v1h-4zM690,532h4v1h-4zM690,529h1v4h-1zM693,529h1v4h-1zM697,529h4v1h-4zM697,532h4v1h-4zM697,529h1v4h-1zM700,529h1v4h-1zM686,536h5v1h-5zM686,538h5v1h-5zM694,535h4v1h-4zM694,539h4v1h-4zM694,535h1v5h-1zM697,535h1v5h-1zM690,542h4v1h-4zM690,545h4v1h-4zM690,542h1v4h-1zM693,542h1v4h-1zM697,542h4v1h-4zM697,545h4v1h-4zM697,542h1v4h-1zM700,542h1v4h-1zM686,549h5v1h-5zM686,552h5v1h-5zM694,549h4v1h-4zM694,553h4v1h-4zM694,549h1v5h-1zM697,549h1v5h-1zM690,556h4v1h-4zM690,559h4v1h-4zM690,556h1v4h-1zM693,556h1v4h-1zM697,556h4v1h-4zM697,559h4v1h-4zM697,556h1v4h-1zM700,556h1v4h-1zM686,562h5v1h-5zM686,565h5v1h-5zM694,562h4v1h-4zM694,566h4v1h-4zM694,562h1v5h-1zM697,562h1v5h-1zM690,569h4v1h-4zM690,572h4v1h-4zM690,569h1v4h-1zM693,569h1v4h-1zM697,569h4v1h-4zM697,572h4v1h-4zM697,569h1v4h-1zM700,569h1v4h-1zM686,576h5v1h-5zM686,578h5v1h-5zM694,575h4v1h-4zM694,579h4v1h-4zM694,575h1v5h-1zM697,575h1v5h-1zM690,582h4v1h-4zM690,585h4v1h-4zM690,582h1v4h-1zM693,582h1v4h-1zM697,582h4v1h-4zM697,585h4v1h-4zM697,582h1v4h-1zM700,582h1v4h-1zM686,589h5v1h-5zM686,592h5v1h-5zM694,589h4v1h-4zM694,593h4v1h-4zM694,589h1v5h-1zM697,589h1v5h-1zM690,596h4v1h-4zM690,599h4v1h-4zM690,596h1v4h-1zM693,596h1v4h-1zM697,596h4v1h-4zM697,599h4v1h-4zM697,596h1v4h-1zM700,596h1v4h-1zM686,602h5v1h-5zM686,605h5v1h-5zM694,602h4v1h-4zM694,606h4v1h-4zM694,602h1v5h-1zM697,602h1v5h-1zM690,609h4v1h-4zM690,612h4v1h-4zM690,609h1v4h-1zM693,609h1v4h-1zM697,609h4v1h-4zM697,612h4v1h-4zM697,609h1v4h-1zM700,609h1v4h-1zM686,616h5v1h-5zM686,618h5v1h-5zM694,615h4v1h-4zM694,619h4v1h-4zM694,615h1v5h-1zM697,615h1v5h-1zM690,622h4v1h-4zM690,625h4v1h-4zM690,622h1v4h-1zM693,622h1v4h-1zM697,622h4v1h-4zM697,625h4v1h-4zM697,622h1v4h-1zM700,622h1v4h-1zM686,629h5v1h-5zM686,632h5v1h-5zM694,629h4v1h-4zM694,633h4v1h-4zM694,629h1v5h-1zM697,629h1v5h-1zM690,636h4v1h-4zM690,639h4v1h-4zM690,636h1v4h-1zM693,636h1v4h-1zM697,636h4v1h-4zM697,639h4v1h-4zM697,636h1v4h-1zM700,636h1v4h-1zM686,642h5v1h-5zM686,645h5v1h-5zM694,642h4v1h-4zM694,646h4v1h-4zM694,642h1v5h-1zM697,642h1v5h-1zM690,649h4v1h-4zM690,652h4v1h-4zM690,649h1v4h-1zM693,649h1v4h-1zM697,649h4v1h-4zM697,652h4v1h-4zM697,649h1v4h-1zM700,649h1v4h-1zM686,656h5v1h-5zM686,658h5v1h-5zM694,655h4v1h-4zM694,659h4v1h-4zM694,655h1v5h-1zM697,655h1v5h-1zM690,662h4v1h-4zM690,665h4v1h-4zM690,662h1v4h-1zM693,662h1v4h-1zM697,662h4v1h-4zM697,665h4v1h-4zM697,662h1v4h-1zM700,662h1v4h-1zM686,669h5v1h-5zM686,672h5v1h-5zM694,669h4v1h-4zM694,673h4v1h-4zM694,669h1v5h-1zM697,669h1v5h-1zM690,676h4v1h-4zM690,679h4v1h-4zM690,676h1v4h-1zM693,676h1v4h-1zM697,676h4v1h-4zM697,679h4v1h-4zM697,676h1v4h-1zM700,676h1v4h-1zM686,682h5v1h-5zM686,685h5v1h-5zM694,682h4v1h-4zM694,686h4v1h-4zM694,682h1v5h-1zM697,682h1v5h-1zM690,689h4v1h-4zM690,692h4v1h-4zM690,689h1v4h-1zM693,689h1v4h-1zM697,689h4v1h-4zM697,692h4v1h-4zM697,689h1v4h-1zM700,689h1v4h-1zM686,696h5v1h-5zM686,698h5v1h-5zM694,695h4v1h-4zM694,699h4v1h-4zM694,695h1v5h-1zM697,695h1v5h-1zM690,702h4v1h-4zM690,705h4v1h-4zM690,702h1v4h-1zM693,702h1v4h-1zM697,702h4v1h-4zM697,705h4v1h-4zM697,702h1v4h-1zM700,702h1v4h-1zM686,709h5v1h-5zM686,712h5v1h-5zM694,709h4v1h-4zM694,713h4v1h-4zM694,709h1v5h-1zM697,709h1v5h-1zM690,716h4v1h-4zM690,719h4v1h-4zM690,716h1v4h-1zM693,716h1v4h-1zM697,716h4v1h-4zM697,719h4v1h-4zM697,716h1v4h-1zM700,716h1v4h-1zM686,722h5v1h-5zM686,725h5v1h-5zM694,722h4v1h-4zM694,726h4v1h-4zM694,722h1v5h-1zM697,722h1v5h-1zM690,729h4v1h-4zM690,732h4v1h-4zM690,729h1v4h-1zM693,729h1v4h-1zM697,729h4v1h-4zM697,732h4v1h-4zM697,729h1v4h-1zM700,729h1v4h-1zM686,736h5v1h-5zM686,738h5v1h-5zM694,735h4v1h-4zM694,739h4v1h-4zM694,735h1v5h-1zM697,735h1v5h-1zM690,742h4v1h-4zM690,745h4v1h-4zM690,742h1v4h-1zM693,742h1v4h-1zM697,742h4v1h-4zM697,745h4v1h-4zM697,742h1v4h-1zM700,742h1v4h-1zM686,749h5v1h-5zM686,752h5v1h-5zM694,749h4v1h-4zM694,753h4v1h-4zM694,749h1v5h-1zM697,749h1v5h-1zM690,756h4v1h-4zM690,759h4v1h-4zM690,756h1v4h-1zM693,756h1v4h-1zM697,756h4v1h-4zM697,759h4v1h-4zM697,756h1v4h-1zM700,756h1v4h-1zM686,762h5v1h-5zM686,765h5v1h-5zM694,762h4v1h-4zM694,766h4v1h-4zM694,762h1v5h-1zM697,762h1v5h-1zM690,769h4v1h-4zM690,772h4v1h-4zM690,769h1v4h-1zM693,769h1v4h-1zM697,769h4v1h-4zM697,772h4v1h-4zM697,769h1v4h-1zM700,769h1v4h-1zM686,776h5v1h-5zM686,778h5v1h-5zM694,775h4v1h-4zM694,779h4v1h-4zM694,775h1v5h-1zM697,775h1v5h-1zM690,782h4v1h-4zM690,785h4v1h-4zM690,782h1v4h-1zM693,782h1v4h-1zM697,782h4v1h-4zM697,785h4v1h-4zM697,782h1v4h-1zM700,782h1v4h-1zM686,789h5v1h-5zM686,792h5v1h-5zM694,789h4v1h-4zM694,793h4v1h-4zM694,789h1v5h-1zM697,789h1v5h-1zM690,796h4v1h-4zM690,799h4v1h-4zM690,796h1v4h-1zM693,796h1v4h-1zM697,796h4v1h-4zM697,799h4v1h-4zM697,796h1v4h-1zM700,796h1v4h-1zM686,802h5v1h-5zM686,805h5v1h-5zM694,802h4v1h-4zM694,806h4v1h-4zM694,802h1v5h-1zM697,802h1v5h-1zM690,809h4v1h-4zM690,812h4v1h-4zM690,809h1v4h-1zM693,809h1v4h-1zM697,809h4v1h-4zM697,812h4v1h-4zM697,809h1v4h-1zM700,809h1v4h-1zM686,816h5v1h-5zM686,818h5v1h-5zM694,815h4v1h-4zM694,819h4v1h-4zM694,815h1v5h-1zM697,815h1v5h-1zM690,822h4v1h-4zM690,825h4v1h-4zM690,822h1v4h-1zM693,822h1v4h-1zM697,822h4v1h-4zM697,825h4v1h-4zM697,822h1v4h-1zM700,822h1v4h-1zM686,829h5v1h-5zM686,832h5v1h-5zM694,829h4v1h-4zM694,833h4v1h-4zM694,829h1v5h-1zM697,829h1v5h-1zM690,836h4v1h-4zM690,839h4v1h-4zM690,836h1v4h-1zM693,836h1v4h-1zM697,836h4v1h-4zM697,839h4v1h-4zM697,836h1v4h-1zM700,836h1v4h-1zM686,842h5v1h-5zM686,845h5v1h-5zM694,842h4v1h-4zM694,846h4v1h-4zM694,842h1v5h-1zM697,842h1v5h-1zM690,849h4v1h-4zM690,852h4v1h-4zM690,849h1v4h-1zM693,849h1v4h-1zM697,849h4v1h-4zM697,852h4v1h-4zM697,849h1v4h-1zM700,849h1v4h-1zM686,856h5v1h-5zM686,858h5v1h-5zM694,855h4v1h-4zM694,859h4v1h-4zM694,855h1v5h-1zM697,855h1v5h-1zM690,862h4v1h-4zM690,865h4v1h-4zM690,862h1v4h-1zM693,862h1v4h-1zM697,862h4v1h-4zM697,865h4v1h-4zM697,862h1v4h-1zM700,862h1v4h-1zM686,869h5v1h-5zM686,872h5v1h-5zM694,869h4v1h-4zM694,873h4v1h-4zM694,869h1v5h-1zM697,869h1v5h-1zM690,876h4v1h-4zM690,879h4v1h-4zM690,876h1v4h-1zM693,876h1v4h-1zM697,876h4v1h-4zM697,879h4v1h-4zM697,876h1v4h-1zM700,876h1v4h-1zM686,882h5v1h-5zM686,885h5v1h-5zM694,882h4v1h-4zM694,886h4v1h-4zM694,882h1v5h-1zM697,882h1v5h-1zM690,889h4v1h-4zM690,892h4v1h-4zM690,889h1v4h-1zM693,889h1v4h-1zM697,889h4v1h-4zM697,892h4v1h-4zM697,889h1v4h-1zM700,889h1v4h-1zM686,896h5v1h-5zM686,898h5v1h-5zM694,895h4v1h-4zM694,899h4v1h-4zM694,895h1v5h-1zM697,895h1v5h-1zM690,902h4v1h-4zM690,905h4v1h-4zM690,902h1v4h-1zM693,902h1v4h-1zM697,902h4v1h-4zM697,905h4v1h-4zM697,902h1v4h-1zM700,902h1v4h-1zM686,909h5v1h-5zM686,912h5v1h-5zM694,909h4v1h-4zM694,913h4v1h-4zM694,909h1v5h-1zM697,909h1v5h-1zM690,916h4v1h-4zM690,919h4v1h-4zM690,916h1v4h-1zM693,916h1v4h-1zM697,916h4v1h-4zM697,919h4v1h-4zM697,916h1v4h-1zM700,916h1v4h-1zM686,922h5v1h-5zM686,925h5v1h-5zM694,922h4v1h-4zM694,926h4v1h-4zM694,922h1v5h-1zM697,922h1v5h-1zM690,929h4v1h-4zM690,932h4v1h-4zM690,929h1v4h-1zM693,929h1v4h-1zM697,929h4v1h-4zM697,932h4v1h-4zM697,929h1v4h-1zM700,929h1v4h-1zM686,936h5v1h-5zM686,938h5v1h-5zM694,935h4v1h-4zM694,939h4v1h-4zM694,935h1v5h-1zM697,935h1v5h-1zM690,942h4v1h-4zM690,945h4v1h-4zM690,942h1v4h-1zM693,942h1v4h-1zM697,942h4v1h-4zM697,945h4v1h-4zM697,942h1v4h-1zM700,942h1v4h-1zM686,949h5v1h-5zM686,952h5v1h-5zM694,949h4v1h-4zM694,953h4v1h-4zM694,949h1v5h-1zM697,949h1v5h-1zM690,956h4v1h-4zM690,959h4v1h-4zM690,956h1v4h-1zM693,956h1v4h-1zM697,956h4v1h-4zM697,959h4v1h-4zM697,956h1v4h-1zM700,956h1v4h-1zM686,962h5v1h-5zM686,965h5v1h-5zM694,962h4v1h-4zM694,966h4v1h-4zM694,962h1v5h-1zM697,962h1v5h-1zM690,969h4v1h-4zM690,972h4v1h-4zM690,969h1v4h-1zM693,969h1v4h-1zM697,969h4v1h-4zM697,972h4v1h-4zM697,969h1v4h-1zM700,969h1v4h-1zM686,976h5v1h-5zM686,978h5v1h-5zM694,975h4v1h-4zM694,979h4v1h-4zM694,975h1v5h-1zM697,975h1v5h-1zM690,982h4v1h-4zM690,985h4v1h-4zM690,982h1v4h-1zM693,982h1v4h-1zM697,982h4v1h-4zM697,985h4v1h-4zM697,982h1v4h-1zM700,982h1v4h-1zM686,989h5v1h-5zM686,992h5v1h-5zM694,989h4v1h-4zM694,993h4v1h-4zM694,989h1v5h-1zM697,989h1v5h-1zM690,996h4v1h-4zM690,999h4v1h-4zM690,996h1v4h-1zM693,996h1v4h-1zM697,996h4v1h-4zM697,999h4v1h-4zM697,996h1v4h-1zM700,996h1v4h-1zM686,1002h5v1h-5zM686,1005h5v1h-5zM694,1002h4v1h-4zM694,1006h4v1h-4zM694,1002h1v5h-1zM697,1002h1v5h-1zM690,1009h4v1h-4zM690,1012h4v1h-4zM690,1009h1v4h-1zM693,1009h1v4h-1zM697,1009h4v1h-4zM697,1012h4v1h-4zM697,1009h1v4h-1zM700,1009h1v4h-1zM686,1016h5v1h-5zM686,1018h5v1h-5zM694,1015h4v1h-4zM694,1019h4v1h-4zM694,1015h1v5h-1zM697,1015h1v5h-1zM690,1022h4v1h-4zM690,1025h4v1h-4zM690,1022h1v4h-1zM693,1022h1v4h-1zM697,1022h4v1h-4zM697,1025h4v1h-4zM697,1022h1v4h-1zM700,1022h1v4h-1zM686,1029h5v1h-5zM686,1032h5v1h-5zM694,1029h4v1h-4zM694,1033h4v1h-4zM694,1029h1v5h-1zM697,1029h1v5h-1zM690,1036h4v1h-4zM690,1039h4v1h-4zM690,1036h1v4h-1zM693,1036h1v4h-1zM697,1036h4v1h-4zM697,1039h4v1h-4zM697,1036h1v4h-1zM700,1036h1v4h-1zM686,1042h5v1h-5zM686,1045h5v1h-5zM694,1042h4v1h-4zM694,1046h4v1h-4zM694,1042h1v5h-1zM697,1042h1v5h-1zM690,1049h4v1h-4zM690,1052h4v1h-4zM690,1049h1v4h-1zM693,1049h1v4h-1zM697,1049h4v1h-4zM697,1052h4v1h-4zM697,1049h1v4h-1zM700,1049h1v4h-1zM686,1056h5v1h-5zM686,1058h5v1h-5zM694,1055h4v1h-4zM694,1059h4v1h-4zM694,1055h1v5h-1zM697,1055h1v5h-1zM690,1062h4v1h-4zM690,1065h4v1h-4zM690,1062h1v4h-1zM693,1062h1v4h-1zM697,1062h4v1h-4zM697,1065h4v1h-4zM697,1062h1v4h-1zM700,1062h1v4h-1zM686,1069h5v1h-5zM686,1072h5v1h-5zM694,1069h4v1h-4zM694,1073h4v1h-4zM694,1069h1v5h-1zM697,1069h1v5h-1zM690,1076h4v1h-4zM690,1079h4v1h-4zM690,1076h1v4h-1zM693,1076h1v4h-1zM697,1076h4v1h-4zM697,1079h4v1h-4zM697,1076h1v4h-1zM700,1076h1v4h-1zM686,1082h5v1h-5zM686,1085h5v1h-5zM694,1082h4v1h-4zM694,1086h4v1h-4zM694,1082h1v5h-1zM697,1082h1v5h-1zM690,1089h4v1h-4zM690,1092h4v1h-4zM690,1089h1v4h-1zM693,1089h1v4h-1zM697,1089h4v1h-4zM697,1092h4v1h-4zM697,1089h1v4h-1zM700,1089h1v4h-1zM686,1096h5v1h-5zM686,1098h5v1h-5zM694,1095h4v1h-4zM694,1099h4v1h-4zM694,1095h1v5h-1zM697,1095h1v5h-1zM690,1102h4v1h-4zM690,1105h4v1h-4zM690,1102h1v4h-1zM693,1102h1v4h-1zM697,1102h4v1h-4zM697,1105h4v1h-4zM697,1102h1v4h-1zM700,1102h1v4h-1zM686,1109h5v1h-5zM686,1112h5v1h-5zM694,1109h4v1h-4zM694,1113h4v1h-4zM694,1109h1v5h-1zM697,1109h1v5h-1zM690,1116h4v1h-4zM690,1119h4v1h-4zM690,1116h1v4h-1zM693,1116h1v4h-1zM697,1116h4v1h-4zM697,1119h4v1h-4zM697,1116h1v4h-1zM700,1116h1v4h-1zM686,1122h5v1h-5zM686,1125h5v1h-5zM694,1122h4v1h-4zM694,1126h4v1h-4zM694,1122h1v5h-1zM697,1122h1v5h-1zM690,1129h4v1h-4zM690,1132h4v1h-4zM690,1129h1v4h-1zM693,1129h1v4h-1zM697,1129h4v1h-4zM697,1132h4v1h-4zM697,1129h1v4h-1zM700,1129h1v4h-1zM686,1136h5v1h-5zM686,1138h5v1h-5zM694,1135h4v1h-4zM694,1139h4v1h-4zM694,1135h1v5h-1zM697,1135h1v5h-1zM690,1142h4v1h-4zM690,1145h4v1h-4zM690,1142h1v4h-1zM693,1142h1v4h-1zM697,1142h4v1h-4zM697,1145h4v1h-4zM697,1142h1v4h-1zM700,1142h1v4h-1zM686,1149h5v1h-5zM686,1152h5v1h-5zM694,1149h4v1h-4zM694,1153h4v1h-4zM694,1149h1v5h-1zM697,1149h1v5h-1zM690,1156h4v1h-4zM690,1159h4v1h-4zM690,1156h1v4h-1zM693,1156h1v4h-1zM697,1156h4v1h-4zM697,1159h4v1h-4zM697,1156h1v4h-1zM700,1156h1v4h-1zM686,1162h5v1h-5zM686,1165h5v1h-5zM694,1162h4v1h-4zM694,1166h4v1h-4zM694,1162h1v5h-1zM697,1162h1v5h-1zM690,1169h4v1h-4zM690,1172h4v1h-4zM690,1169h1v4h-1zM693,1169h1v4h-1zM697,1169h4v1h-4zM697,1172h4v1h-4zM697,1169h1v4h-1zM700,1169h1v4h-1zM686,1176h5v1h-5zM686,1178h5v1h-5zM694,1175h4v1h-4zM694,1179h4v1h-4zM694,1175h1v5h-1zM697,1175h1v5h-1zM690,1182h4v1h-4zM690,1185h4v1h-4zM690,1182h1v4h-1zM693,1182h1v4h-1zM697,1182h4v1h-4zM697,1185h4v1h-4zM697,1182h1v4h-1zM700,1182h1v4h-1zM686,1189h5v1h-5zM686,1192h5v1h-5zM694,1189h4v1h-4zM694,1193h4v1h-4zM694,1189h1v5h-1zM697,1189h1v5h-1zM690,1196h4v1h-4zM690,1199h4v1h-4zM690,1196h1v4h-1zM693,1196h1v4h-1zM697,1196h4v1h-4zM697,1199h4v1h-4zM697,1196h1v4h-1zM700,1196h1v4h-1zM686,1202h5v1h-5zM686,1205h5v1h-5zM694,1202h4v1h-4zM694,1206h4v1h-4zM694,1202h1v5h-1zM697,1202h1v5h-1zM690,1209h4v1h-4zM690,1212h4v1h-4zM690,1209h1v4h-1zM693,1209h1v4h-1zM697,1209h4v1h-4zM697,1212h4v1h-4zM697,1209h1v4h-1zM700,1209h1v4h-1zM686,1216h5v1h-5zM686,1218h5v1h-5zM694,1215h4v1h-4zM694,1219h4v1h-4zM694,1215h1v5h-1zM697,1215h1v5h-1zM690,1222h4v1h-4zM690,1225h4v1h-4zM690,1222h1v4h-1zM693,1222h1v4h-1zM697,1222h4v1h-4zM697,1225h4v1h-4zM697,1222h1v4h-1zM700,1222h1v4h-1zM686,1229h5v1h-5zM686,1232h5v1h-5zM694,1229h4v1h-4zM694,1233h4v1h-4zM694,1229h1v5h-1zM697,1229h1v5h-1zM690,1236h4v1h-4zM690,1239h4v1h-4zM690,1236h1v4h-1zM693,1236h1v4h-1zM697,1236h4v1h-4zM697,1239h4v1h-4zM697,1236h1v4h-1zM700,1236h1v4h-1zM686,1242h5v1h-5zM686,1245h5v1h-5zM694,1242h4v1h-4zM694,1246h4v1h-4zM694,1242h1v5h-1zM697,1242h1v5h-1zM690,1249h4v1h-4zM690,1252h4v1h-4zM690,1249h1v4h-1zM693,1249h1v4h-1zM697,1249h4v1h-4zM697,1252h4v1h-4zM697,1249h1v4h-1zM700,1249h1v4h-1zM686,1256h5v1h-5zM686,1258h5v1h-5zM694,1255h4v1h-4zM694,1259h4v1h-4zM694,1255h1v5h-1zM697,1255h1v5h-1zM690,1262h4v1h-4zM690,1265h4v1h-4zM690,1262h1v4h-1zM693,1262h1v4h-1zM697,1262h4v1h-4zM697,1265h4v1h-4zM697,1262h1v4h-1zM700,1262h1v4h-1zM686,1269h5v1h-5zM686,1272h5v1h-5zM694,1269h4v1h-4zM694,1273h4v1h-4zM694,1269h1v5h-1zM697,1269h1v5h-1zM690,1276h4v1h-4zM690,1279h4v1h-4zM690,1276h1v4h-1zM693,1276h1v4h-1zM697,1276h4v1h-4zM697,1279h4v1h-4zM697,1276h1v4h-1zM700,1276h1v4h-1zM686,1282h5v1h-5zM686,1285h5v1h-5zM694,1282h4v1h-4zM694,1286h4v1h-4zM694,1282h1v5h-1zM697,1282h1v5h-1zM690,1289h4v1h-4zM690,1292h4v1h-4zM690,1289h1v4h-1zM693,1289h1v4h-1zM697,1289h4v1h-4zM697,1292h4v1h-4zM697,1289h1v4h-1zM700,1289h1v4h-1zM686,1296h5v1h-5zM686,1298h5v1h-5zM694,1295h4v1h-4zM694,1299h4v1h-4zM694,1295h1v5h-1zM697,1295h1v5h-1zM690,1302h4v1h-4zM690,1305h4v1h-4zM690,1302h1v4h-1zM693,1302h1v4h-1zM697,1302h4v1h-4zM697,1305h4v1h-4zM697,1302h1v4h-1zM700,1302h1v4h-1zM686,1309h5v1h-5zM686,1312h5v1h-5zM694,1309h4v1h-4zM694,1313h4v1h-4zM694,1309h1v5h-1zM697,1309h1v5h-1zM690,1316h4v1h-4zM690,1319h4v1h-4zM690,1316h1v4h-1zM693,1316h1v4h-1zM697,1316h4v1h-4zM697,1319h4v1h-4zM697,1316h1v4h-1zM700,1316h1v4h-1zM686,1322h5v1h-5zM686,1325h5v1h-5zM694,1322h4v1h-4zM694,1326h4v1h-4zM694,1322h1v5h-1zM697,1322h1v5h-1zM690,1329h4v1h-4zM690,1332h4v1h-4zM690,1329h1v4h-1zM693,1329h1v4h-1zM697,1329h4v1h-4zM697,1332h4v1h-4zM697,1329h1v4h-1zM700,1329h1v4h-1zM686,1336h5v1h-5zM686,1338h5v1h-5zM694,1335h4v1h-4zM694,1339h4v1h-4zM694,1335h1v5h-1zM697,1335h1v5h-1zM690,1342h4v1h-4zM690,1345h4v1h-4zM690,1342h1v4h-1zM693,1342h1v4h-1zM697,1342h4v1h-4zM697,1345h4v1h-4zM697,1342h1v4h-1zM700,1342h1v4h-1zM686,1349h5v1h-5zM686,1352h5v1h-5zM694,1349h4v1h-4zM694,1353h4v1h-4zM694,1349h1v5h-1zM697,1349h1v5h-1zM690,1356h4v1h-4zM690,1359h4v1h-4zM690,1356h1v4h-1zM693,1356h1v4h-1zM697,1356h4v1h-4zM697,1359h4v1h-4zM697,1356h1v4h-1zM700,1356h1v4h-1zM686,1362h5v1h-5zM686,1365h5v1h-5zM694,1362h4v1h-4zM694,1366h4v1h-4zM694,1362h1v5h-1zM697,1362h1v5h-1zM690,1369h4v1h-4zM690,1372h4v1h-4zM690,1369h1v4h-1zM693,1369h1v4h-1zM697,1369h4v1h-4zM697,1372h4v1h-4zM697,1369h1v4h-1zM700,1369h1v4h-1zM686,1376h5v1h-5zM686,1378h5v1h-5zM694,1375h4v1h-4zM694,1379h4v1h-4zM694,1375h1v5h-1zM697,1375h1v5h-1zM690,1382h4v1h-4zM690,1385h4v1h-4zM690,1382h1v4h-1zM693,1382h1v4h-1zM697,1382h4v1h-4zM697,1385h4v1h-4zM697,1382h1v4h-1zM700,1382h1v4h-1zM700,506h1v881h-1zM703,506h1v881h-1zM700,509h4v1h-4zM700,512h4v1h-4zM707,509h4v1h-4zM707,513h4v1h-4zM707,509h1v5h-1zM710,509h1v5h-1zM703,516h4v1h-4zM703,519h4v1h-4zM703,516h1v4h-1zM706,516h1v4h-1zM710,516h4v1h-4zM710,519h4v1h-4zM710,516h1v4h-1zM713,516h1v4h-1zM700,522h4v1h-4zM700,525h4v1h-4zM707,522h4v1h-4zM707,526h4v1h-4zM707,522h1v5h-1zM710,522h1v5h-1zM703,529h4v1h-4zM703,532h4v1h-4zM703,529h1v4h-1zM706,529h1v4h-1zM710,529h4v1h-4zM710,532h4v1h-4zM710,529h1v4h-1zM713,529h1v4h-1zM700,536h4v1h-4zM700,538h4v1h-4zM707,535h4v1h-4zM707,539h4v1h-4zM707,535h1v5h-1zM710,535h1v5h-1zM703,542h4v1h-4zM703,545h4v1h-4zM703,542h1v4h-1zM706,542h1v4h-1zM710,542h4v1h-4zM710,545h4v1h-4zM710,542h1v4h-1zM713,542h1v4h-1zM700,549h4v1h-4zM700,552h4v1h-4zM707,549h4v1h-4zM707,553h4v1h-4zM707,549h1v5h-1zM710,549h1v5h-1zM703,556h4v1h-4zM703,559h4v1h-4zM703,556h1v4h-1zM706,556h1v4h-1zM710,556h4v1h-4zM710,559h4v1h-4zM710,556h1v4h-1zM713,556h1v4h-1zM700,562h4v1h-4zM700,565h4v1h-4zM707,562h4v1h-4zM707,566h4v1h-4zM707,562h1v5h-1zM710,562h1v5h-1zM703,569h4v1h-4zM703,572h4v1h-4zM703,569h1v4h-1zM706,569h1v4h-1zM710,569h4v1h-4zM710,572h4v1h-4zM710,569h1v4h-1zM713,569h1v4h-1zM700,576h4v1h-4zM700,578h4v1h-4zM707,575h4v1h-4zM707,579h4v1h-4zM707,575h1v5h-1zM710,575h1v5h-1zM703,582h4v1h-4zM703,585h4v1h-4zM703,582h1v4h-1zM706,582h1v4h-1zM710,582h4v1h-4zM710,585h4v1h-4zM710,582h1v4h-1zM713,582h1v4h-1zM700,589h4v1h-4zM700,592h4v1h-4zM707,589h4v1h-4zM707,593h4v1h-4zM707,589h1v5h-1zM710,589h1v5h-1zM703,596h4v1h-4zM703,599h4v1h-4zM703,596h1v4h-1zM706,596h1v4h-1zM710,596h4v1h-4zM710,599h4v1h-4zM710,596h1v4h-1zM713,596h1v4h-1zM700,602h4v1h-4zM700,605h4v1h-4zM707,602h4v1h-4zM707,606h4v1h-4zM707,602h1v5h-1zM710,602h1v5h-1zM703,609h4v1h-4zM703,612h4v1h-4zM703,609h1v4h-1zM706,609h1v4h-1zM710,609h4v1h-4zM710,612h4v1h-4zM710,609h1v4h-1zM713,609h1v4h-1zM700,616h4v1h-4zM700,618h4v1h-4zM707,615h4v1h-4zM707,619h4v1h-4zM707,615h1v5h-1zM710,615h1v5h-1zM703,622h4v1h-4zM703,625h4v1h-4zM703,622h1v4h-1zM706,622h1v4h-1zM710,622h4v1h-4zM710,625h4v1h-4zM710,622h1v4h-1zM713,622h1v4h-1zM700,629h4v1h-4zM700,632h4v1h-4zM707,629h4v1h-4zM707,633h4v1h-4zM707,629h1v5h-1zM710,629h1v5h-1zM703,636h4v1h-4zM703,639h4v1h-4zM703,636h1v4h-1zM706,636h1v4h-1zM710,636h4v1h-4zM710,639h4v1h-4zM710,636h1v4h-1zM713,636h1v4h-1zM700,642h4v1h-4zM700,645h4v1h-4zM707,642h4v1h-4zM707,646h4v1h-4zM707,642h1v5h-1zM710,642h1v5h-1zM703,649h4v1h-4zM703,652h4v1h-4zM703,649h1v4h-1zM706,649h1v4h-1zM710,649h4v1h-4zM710,652h4v1h-4zM710,649h1v4h-1zM713,649h1v4h-1zM700,656h4v1h-4zM700,658h4v1h-4zM707,655h4v1h-4zM707,659h4v1h-4zM707,655h1v5h-1zM710,655h1v5h-1zM703,662h4v1h-4zM703,665h4v1h-4zM703,662h1v4h-1zM706,662h1v4h-1zM710,662h4v1h-4zM710,665h4v1h-4zM710,662h1v4h-1zM713,662h1v4h-1zM700,669h4v1h-4zM700,672h4v1h-4zM707,669h4v1h-4zM707,673h4v1h-4zM707,669h1v5h-1zM710,669h1v5h-1zM703,676h4v1h-4zM703,679h4v1h-4zM703,676h1v4h-1zM706,676h1v4h-1zM710,676h4v1h-4zM710,679h4v1h-4zM710,676h1v4h-1zM713,676h1v4h-1zM700,682h4v1h-4zM700,685h4v1h-4zM707,682h4v1h-4zM707,686h4v1h-4zM707,682h1v5h-1zM710,682h1v5h-1zM703,689h4v1h-4zM703,692h4v1h-4zM703,689h1v4h-1zM706,689h1v4h-1zM710,689h4v1h-4zM710,692h4v1h-4zM710,689h1v4h-1zM713,689h1v4h-1zM700,696h4v1h-4zM700,698h4v1h-4zM707,695h4v1h-4zM707,699h4v1h-4zM707,695h1v5h-1zM710,695h1v5h-1zM703,702h4v1h-4zM703,705h4v1h-4zM703,702h1v4h-1zM706,702h1v4h-1zM710,702h4v1h-4zM710,705h4v1h-4zM710,702h1v4h-1zM713,702h1v4h-1zM700,709h4v1h-4zM700,712h4v1h-4zM707,709h4v1h-4zM707,713h4v1h-4zM707,709h1v5h-1zM710,709h1v5h-1zM703,716h4v1h-4zM703,719h4v1h-4zM703,716h1v4h-1zM706,716h1v4h-1zM710,716h4v1h-4zM710,719h4v1h-4zM710,716h1v4h-1zM713,716h1v4h-1zM700,722h4v1h-4zM700,725h4v1h-4zM707,722h4v1h-4zM707,726h4v1h-4zM707,722h1v5h-1zM710,722h1v5h-1zM703,729h4v1h-4zM703,732h4v1h-4zM703,729h1v4h-1zM706,729h1v4h-1zM710,729h4v1h-4zM710,732h4v1h-4zM710,729h1v4h-1zM713,729h1v4h-1zM700,736h4v1h-4zM700,738h4v1h-4zM707,735h4v1h-4zM707,739h4v1h-4zM707,735h1v5h-1zM710,735h1v5h-1zM703,742h4v1h-4zM703,745h4v1h-4zM703,742h1v4h-1zM706,742h1v4h-1zM710,742h4v1h-4zM710,745h4v1h-4zM710,742h1v4h-1zM713,742h1v4h-1zM700,749h4v1h-4zM700,752h4v1h-4zM707,749h4v1h-4zM707,753h4v1h-4zM707,749h1v5h-1zM710,749h1v5h-1zM703,756h4v1h-4zM703,759h4v1h-4zM703,756h1v4h-1zM706,756h1v4h-1zM710,756h4v1h-4zM710,759h4v1h-4zM710,756h1v4h-1zM713,756h1v4h-1zM700,762h4v1h-4zM700,765h4v1h-4zM707,762h4v1h-4zM707,766h4v1h-4zM707,762h1v5h-1zM710,762h1v5h-1zM703,769h4v1h-4zM703,772h4v1h-4zM703,769h1v4h-1zM706,769h1v4h-1zM710,769h4v1h-4zM710,772h4v1h-4zM710,769h1v4h-1zM713,769h1v4h-1zM700,776h4v1h-4zM700,778h4v1h-4zM707,775h4v1h-4zM707,779h4v1h-4zM707,775h1v5h-1zM710,775h1v5h-1zM703,782h4v1h-4zM703,785h4v1h-4zM703,782h1v4h-1zM706,782h1v4h-1zM710,782h4v1h-4zM710,785h4v1h-4zM710,782h1v4h-1zM713,782h1v4h-1zM700,789h4v1h-4zM700,792h4v1h-4zM707,789h4v1h-4zM707,793h4v1h-4zM707,789h1v5h-1zM710,789h1v5h-1zM703,796h4v1h-4zM703,799h4v1h-4zM703,796h1v4h-1zM706,796h1v4h-1zM710,796h4v1h-4zM710,799h4v1h-4zM710,796h1v4h-1zM713,796h1v4h-1zM700,802h4v1h-4zM700,805h4v1h-4zM707,802h4v1h-4zM707,806h4v1h-4zM707,802h1v5h-1zM710,802h1v5h-1zM703,809h4v1h-4zM703,812h4v1h-4zM703,809h1v4h-1zM706,809h1v4h-1zM710,809h4v1h-4zM710,812h4v1h-4zM710,809h1v4h-1zM713,809h1v4h-1zM700,816h4v1h-4zM700,818h4v1h-4zM707,815h4v1h-4zM707,819h4v1h-4zM707,815h1v5h-1zM710,815h1v5h-1zM703,822h4v1h-4zM703,825h4v1h-4zM703,822h1v4h-1zM706,822h1v4h-1zM710,822h4v1h-4zM710,825h4v1h-4zM710,822h1v4h-1zM713,822h1v4h-1zM700,829h4v1h-4zM700,832h4v1h-4zM707,829h4v1h-4zM707,833h4v1h-4zM707,829h1v5h-1zM710,829h1v5h-1zM703,836h4v1h-4zM703,839h4v1h-4zM703,836h1v4h-1zM706,836h1v4h-1zM710,836h4v1h-4zM710,839h4v1h-4zM710,836h1v4h-1zM713,836h1v4h-1zM700,842h4v1h-4zM700,845h4v1h-4zM707,842h4v1h-4zM707,846h4v1h-4zM707,842h1v5h-1zM710,842h1v5h-1zM703,849h4v1h-4zM703,852h4v1h-4zM703,849h1v4h-1zM706,849h1v4h-1zM710,849h4v1h-4zM710,852h4v1h-4zM710,849h1v4h-1zM713,849h1v4h-1zM700,856h4v1h-4zM700,858h4v1h-4zM707,855h4v1h-4zM707,859h4v1h-4zM707,855h1v5h-1zM710,855h1v5h-1zM703,862h4v1h-4zM703,865h4v1h-4zM703,862h1v4h-1zM706,862h1v4h-1zM710,862h4v1h-4zM710,865h4v1h-4zM710,862h1v4h-1zM713,862h1v4h-1zM700,869h4v1h-4zM700,872h4v1h-4zM707,869h4v1h-4zM707,873h4v1h-4zM707,869h1v5h-1zM710,869h1v5h-1zM703,876h4v1h-4zM703,879h4v1h-4zM703,876h1v4h-1zM706,876h1v4h-1zM710,876h4v1h-4zM710,879h4v1h-4zM710,876h1v4h-1zM713,876h1v4h-1zM700,882h4v1h-4zM700,885h4v1h-4zM707,882h4v1h-4zM707,886h4v1h-4zM707,882h1v5h-1zM710,882h1v5h-1zM703,889h4v1h-4zM703,892h4v1h-4zM703,889h1v4h-1zM706,889h1v4h-1zM710,889h4v1h-4zM710,892h4v1h-4zM710,889h1v4h-1zM713,889h1v4h-1zM700,896h4v1h-4zM700,898h4v1h-4zM707,895h4v1h-4zM707,899h4v1h-4zM707,895h1v5h-1zM710,895h1v5h-1zM703,902h4v1h-4zM703,905h4v1h-4zM703,902h1v4h-1zM706,902h1v4h-1zM710,902h4v1h-4zM710,905h4v1h-4zM710,902h1v4h-1zM713,902h1v4h-1zM700,909h4v1h-4zM700,912h4v1h-4zM707,909h4v1h-4zM707,913h4v1h-4zM707,909h1v5h-1zM710,909h1v5h-1zM703,916h4v1h-4zM703,919h4v1h-4zM703,916h1v4h-1zM706,916h1v4h-1zM710,916h4v1h-4zM710,919h4v1h-4zM710,916h1v4h-1zM713,916h1v4h-1zM700,922h4v1h-4zM700,925h4v1h-4zM707,922h4v1h-4zM707,926h4v1h-4zM707,922h1v5h-1zM710,922h1v5h-1zM703,929h4v1h-4zM703,932h4v1h-4zM703,929h1v4h-1zM706,929h1v4h-1zM710,929h4v1h-4zM710,932h4v1h-4zM710,929h1v4h-1zM713,929h1v4h-1zM700,936h4v1h-4zM700,938h4v1h-4zM707,935h4v1h-4zM707,939h4v1h-4zM707,935h1v5h-1zM710,935h1v5h-1zM703,942h4v1h-4zM703,945h4v1h-4zM703,942h1v4h-1zM706,942h1v4h-1zM710,942h4v1h-4zM710,945h4v1h-4zM710,942h1v4h-1zM713,942h1v4h-1zM700,949h4v1h-4zM700,952h4v1h-4zM707,949h4v1h-4zM707,953h4v1h-4zM707,949h1v5h-1zM710,949h1v5h-1zM703,956h4v1h-4zM703,959h4v1h-4zM703,956h1v4h-1zM706,956h1v4h-1zM710,956h4v1h-4zM710,959h4v1h-4zM710,956h1v4h-1zM713,956h1v4h-1zM700,962h4v1h-4zM700,965h4v1h-4zM707,962h4v1h-4zM707,966h4v1h-4zM707,962h1v5h-1zM710,962h1v5h-1zM703,969h4v1h-4zM703,972h4v1h-4zM703,969h1v4h-1zM706,969h1v4h-1zM710,969h4v1h-4zM710,972h4v1h-4zM710,969h1v4h-1zM713,969h1v4h-1zM700,976h4v1h-4zM700,978h4v1h-4zM707,975h4v1h-4zM707,979h4v1h-4zM707,975h1v5h-1zM710,975h1v5h-1zM703,982h4v1h-4zM703,985h4v1h-4zM703,982h1v4h-1zM706,982h1v4h-1zM710,982h4v1h-4zM710,985h4v1h-4zM710,982h1v4h-1zM713,982h1v4h-1zM700,989h4v1h-4zM700,992h4v1h-4zM707,989h4v1h-4zM707,993h4v1h-4zM707,989h1v5h-1zM710,989h1v5h-1zM703,996h4v1h-4zM703,999h4v1h-4zM703,996h1v4h-1zM706,996h1v4h-1zM710,996h4v1h-4zM710,999h4v1h-4zM710,996h1v4h-1zM713,996h1v4h-1zM700,1002h4v1h-4zM700,1005h4v1h-4zM707,1002h4v1h-4zM707,1006h4v1h-4zM707,1002h1v5h-1zM710,1002h1v5h-1zM703,1009h4v1h-4zM703,1012h4v1h-4zM703,1009h1v4h-1zM706,1009h1v4h-1zM710,1009h4v1h-4zM710,1012h4v1h-4zM710,1009h1v4h-1zM713,1009h1v4h-1zM700,1016h4v1h-4zM700,1018h4v1h-4zM707,1015h4v1h-4zM707,1019h4v1h-4zM707,1015h1v5h-1zM710,1015h1v5h-1zM703,1022h4v1h-4zM703,1025h4v1h-4zM703,1022h1v4h-1zM706,1022h1v4h-1zM710,1022h4v1h-4zM710,1025h4v1h-4zM710,1022h1v4h-1zM713,1022h1v4h-1zM700,1029h4v1h-4zM700,1032h4v1h-4zM707,1029h4v1h-4zM707,1033h4v1h-4zM707,1029h1v5h-1zM710,1029h1v5h-1zM703,1036h4v1h-4zM703,1039h4v1h-4zM703,1036h1v4h-1zM706,1036h1v4h-1zM710,1036h4v1h-4zM710,1039h4v1h-4zM710,1036h1v4h-1zM713,1036h1v4h-1zM700,1042h4v1h-4zM700,1045h4v1h-4zM707,1042h4v1h-4zM707,1046h4v1h-4zM707,1042h1v5h-1zM710,1042h1v5h-1zM703,1049h4v1h-4zM703,1052h4v1h-4zM703,1049h1v4h-1zM706,1049h1v4h-1zM710,1049h4v1h-4zM710,1052h4v1h-4zM710,1049h1v4h-1zM713,1049h1v4h-1zM700,1056h4v1h-4zM700,1058h4v1h-4zM707,1055h4v1h-4zM707,1059h4v1h-4zM707,1055h1v5h-1zM710,1055h1v5h-1zM703,1062h4v1h-4zM703,1065h4v1h-4zM703,1062h1v4h-1zM706,1062h1v4h-1zM710,1062h4v1h-4zM710,1065h4v1h-4zM710,1062h1v4h-1zM713,1062h1v4h-1zM700,1069h4v1h-4zM700,1072h4v1h-4zM707,1069h4v1h-4zM707,1073h4v1h-4zM707,1069h1v5h-1zM710,1069h1v5h-1zM703,1076h4v1h-4zM703,1079h4v1h-4zM703,1076h1v4h-1zM706,1076h1v4h-1zM710,1076h4v1h-4zM710,1079h4v1h-4zM710,1076h1v4h-1zM713,1076h1v4h-1zM700,1082h4v1h-4zM700,1085h4v1h-4zM707,1082h4v1h-4zM707,1086h4v1h-4zM707,1082h1v5h-1zM710,1082h1v5h-1zM703,1089h4v1h-4zM703,1092h4v1h-4zM703,1089h1v4h-1zM706,1089h1v4h-1zM710,1089h4v1h-4zM710,1092h4v1h-4zM710,1089h1v4h-1zM713,1089h1v4h-1zM700,1096h4v1h-4zM700,1098h4v1h-4zM707,1095h4v1h-4zM707,1099h4v1h-4zM707,1095h1v5h-1zM710,1095h1v5h-1zM703,1102h4v1h-4zM703,1105h4v1h-4zM703,1102h1v4h-1zM706,1102h1v4h-1zM710,1102h4v1h-4zM710,1105h4v1h-4zM710,1102h1v4h-1zM713,1102h1v4h-1zM700,1109h4v1h-4zM700,1112h4v1h-4zM707,1109h4v1h-4zM707,1113h4v1h-4zM707,1109h1v5h-1zM710,1109h1v5h-1zM703,1116h4v1h-4zM703,1119h4v1h-4zM703,1116h1v4h-1zM706,1116h1v4h-1zM710,1116h4v1h-4zM710,1119h4v1h-4zM710,1116h1v4h-1zM713,1116h1v4h-1zM700,1122h4v1h-4zM700,1125h4v1h-4zM707,1122h4v1h-4zM707,1126h4v1h-4zM707,1122h1v5h-1zM710,1122h1v5h-1zM703,1129h4v1h-4zM703,1132h4v1h-4zM703,1129h1v4h-1zM706,1129h1v4h-1zM710,1129h4v1h-4zM710,1132h4v1h-4zM710,1129h1v4h-1zM713,1129h1v4h-1zM700,1136h4v1h-4zM700,1138h4v1h-4zM707,1135h4v1h-4zM707,1139h4v1h-4zM707,1135h1v5h-1zM710,1135h1v5h-1zM703,1142h4v1h-4zM703,1145h4v1h-4zM703,1142h1v4h-1zM706,1142h1v4h-1zM710,1142h4v1h-4zM710,1145h4v1h-4zM710,1142h1v4h-1zM713,1142h1v4h-1zM700,1149h4v1h-4zM700,1152h4v1h-4zM707,1149h4v1h-4zM707,1153h4v1h-4zM707,1149h1v5h-1zM710,1149h1v5h-1zM703,1156h4v1h-4zM703,1159h4v1h-4zM703,1156h1v4h-1zM706,1156h1v4h-1zM710,1156h4v1h-4zM710,1159h4v1h-4zM710,1156h1v4h-1zM713,1156h1v4h-1zM700,1162h4v1h-4zM700,1165h4v1h-4zM707,1162h4v1h-4zM707,1166h4v1h-4zM707,1162h1v5h-1zM710,1162h1v5h-1zM703,1169h4v1h-4zM703,1172h4v1h-4zM703,1169h1v4h-1zM706,1169h1v4h-1zM710,1169h4v1h-4zM710,1172h4v1h-4zM710,1169h1v4h-1zM713,1169h1v4h-1zM700,1176h4v1h-4zM700,1178h4v1h-4zM707,1175h4v1h-4zM707,1179h4v1h-4zM707,1175h1v5h-1zM710,1175h1v5h-1zM703,1182h4v1h-4zM703,1185h4v1h-4zM703,1182h1v4h-1zM706,1182h1v4h-1zM710,1182h4v1h-4zM710,1185h4v1h-4zM710,1182h1v4h-1zM713,1182h1v4h-1zM700,1189h4v1h-4zM700,1192h4v1h-4zM707,1189h4v1h-4zM707,1193h4v1h-4zM707,1189h1v5h-1zM710,1189h1v5h-1zM703,1196h4v1h-4zM703,1199h4v1h-4zM703,1196h1v4h-1zM706,1196h1v4h-1zM710,1196h4v1h-4zM710,1199h4v1h-4zM710,1196h1v4h-1zM713,1196h1v4h-1zM700,1202h4v1h-4zM700,1205h4v1h-4zM707,1202h4v1h-4zM707,1206h4v1h-4zM707,1202h1v5h-1zM710,1202h1v5h-1zM703,1209h4v1h-4zM703,1212h4v1h-4zM703,1209h1v4h-1zM706,1209h1v4h-1zM710,1209h4v1h-4zM710,1212h4v1h-4zM710,1209h1v4h-1zM713,1209h1v4h-1zM700,1216h4v1h-4zM700,1218h4v1h-4zM707,1215h4v1h-4zM707,1219h4v1h-4zM707,1215h1v5h-1zM710,1215h1v5h-1zM703,1222h4v1h-4zM703,1225h4v1h-4zM703,1222h1v4h-1zM706,1222h1v4h-1zM710,1222h4v1h-4zM710,1225h4v1h-4zM710,1222h1v4h-1zM713,1222h1v4h-1zM700,1229h4v1h-4zM700,1232h4v1h-4zM707,1229h4v1h-4zM707,1233h4v1h-4zM707,1229h1v5h-1zM710,1229h1v5h-1zM703,1236h4v1h-4zM703,1239h4v1h-4zM703,1236h1v4h-1zM706,1236h1v4h-1zM710,1236h4v1h-4zM710,1239h4v1h-4zM710,1236h1v4h-1zM713,1236h1v4h-1zM700,1242h4v1h-4zM700,1245h4v1h-4zM707,1242h4v1h-4zM707,1246h4v1h-4zM707,1242h1v5h-1zM710,1242h1v5h-1zM703,1249h4v1h-4zM703,1252h4v1h-4zM703,1249h1v4h-1zM706,1249h1v4h-1zM710,1249h4v1h-4zM710,1252h4v1h-4zM710,1249h1v4h-1zM713,1249h1v4h-1zM700,1256h4v1h-4zM700,1258h4v1h-4zM707,1255h4v1h-4zM707,1259h4v1h-4zM707,1255h1v5h-1zM710,1255h1v5h-1zM703,1262h4v1h-4zM703,1265h4v1h-4zM703,1262h1v4h-1zM706,1262h1v4h-1zM710,1262h4v1h-4zM710,1265h4v1h-4zM710,1262h1v4h-1zM713,1262h1v4h-1zM700,1269h4v1h-4zM700,1272h4v1h-4zM707,1269h4v1h-4zM707,1273h4v1h-4zM707,1269h1v5h-1zM710,1269h1v5h-1zM703,1276h4v1h-4zM703,1279h4v1h-4zM703,1276h1v4h-1zM706,1276h1v4h-1zM710,1276h4v1h-4zM710,1279h4v1h-4zM710,1276h1v4h-1zM713,1276h1v4h-1zM700,1282h4v1h-4zM700,1285h4v1h-4zM707,1282h4v1h-4zM707,1286h4v1h-4zM707,1282h1v5h-1zM710,1282h1v5h-1zM703,1289h4v1h-4zM703,1292h4v1h-4zM703,1289h1v4h-1zM706,1289h1v4h-1zM710,1289h4v1h-4zM710,1292h4v1h-4zM710,1289h1v4h-1zM713,1289h1v4h-1zM700,1296h4v1h-4zM700,1298h4v1h-4zM707,1295h4v1h-4zM707,1299h4v1h-4zM707,1295h1v5h-1zM710,1295h1v5h-1zM703,1302h4v1h-4zM703,1305h4v1h-4zM703,1302h1v4h-1zM706,1302h1v4h-1zM710,1302h4v1h-4zM710,1305h4v1h-4zM710,1302h1v4h-1zM713,1302h1v4h-1zM700,1309h4v1h-4zM700,1312h4v1h-4zM707,1309h4v1h-4zM707,1313h4v1h-4zM707,1309h1v5h-1zM710,1309h1v5h-1zM703,1316h4v1h-4zM703,1319h4v1h-4zM703,1316h1v4h-1zM706,1316h1v4h-1zM710,1316h4v1h-4zM710,1319h4v1h-4zM710,1316h1v4h-1zM713,1316h1v4h-1zM700,1322h4v1h-4zM700,1325h4v1h-4zM707,1322h4v1h-4zM707,1326h4v1h-4zM707,1322h1v5h-1zM710,1322h1v5h-1zM703,1329h4v1h-4zM703,1332h4v1h-4zM703,1329h1v4h-1zM706,1329h1v4h-1zM710,1329h4v1h-4zM710,1332h4v1h-4zM710,1329h1v4h-1zM713,1329h1v4h-1zM700,1336h4v1h-4zM700,1338h4v1h-4zM707,1335h4v1h-4zM707,1339h4v1h-4zM707,1335h1v5h-1zM710,1335h1v5h-1zM703,1342h4v1h-4zM703,1345h4v1h-4zM703,1342h1v4h-1zM706,1342h1v4h-1zM710,1342h4v1h-4zM710,1345h4v1h-4zM710,1342h1v4h-1zM713,1342h1v4h-1zM700,1349h4v1h-4zM700,1352h4v1h-4zM707,1349h4v1h-4zM707,1353h4v1h-4zM707,1349h1v5h-1zM710,1349h1v5h-1zM703,1356h4v1h-4zM703,1359h4v1h-4zM703,1356h1v4h-1zM706,1356h1v4h-1zM710,1356h4v1h-4zM710,1359h4v1h-4zM710,1356h1v4h-1zM713,1356h1v4h-1zM700,1362h4v1h-4zM700,1365h4v1h-4zM707,1362h4v1h-4zM707,1366h4v1h-4zM707,1362h1v5h-1zM710,1362h1v5h-1zM703,1369h4v1h-4zM703,1372h4v1h-4zM703,1369h1v4h-1zM706,1369h1v4h-1zM710,1369h4v1h-4zM710,1372h4v1h-4zM710,1369h1v4h-1zM713,1369h1v4h-1zM700,1376h4v1h-4zM700,1378h4v1h-4zM707,1375h4v1h-4zM707,1379h4v1h-4zM707,1375h1v5h-1zM710,1375h1v5h-1zM703,1382h4v1h-4zM703,1385h4v1h-4zM703,1382h1v4h-1zM706,1382h1v4h-1zM710,1382h4v1h-4zM710,1385h4v1h-4zM710,1382h1v4h-1zM713,1382h1v4h-1zM713,506h1v881h-1zM717,506h1v881h-1zM713,509h5v1h-5zM713,512h5v1h-5zM720,509h1v1h-1zM720,513h1v1h-1zM720,509h1v5h-1zM717,516h4v1h-4zM717,519h4v1h-4zM717,516h1v4h-1zM720,516h1v4h-1zM713,522h5v1h-5zM713,525h5v1h-5zM720,522h1v1h-1zM720,526h1v1h-1zM720,522h1v5h-1zM717,529h4v1h-4zM717,532h4v1h-4zM717,529h1v4h-1zM720,529h1v4h-1zM713,536h5v1h-5zM713,538h5v1h-5zM720,535h1v1h-1zM720,539h1v1h-1zM720,535h1v5h-1zM717,542h4v1h-4zM717,545h4v1h-4zM717,542h1v4h-1zM720,542h1v4h-1zM713,549h5v1h-5zM713,552h5v1h-5zM720,549h1v1h-1zM720,553h1v1h-1zM720,549h1v5h-1zM717,556h4v1h-4zM717,559h4v1h-4zM717,556h1v4h-1zM720,556h1v4h-1zM713,562h5v1h-5zM713,565h5v1h-5zM720,562h1v1h-1zM720,566h1v1h-1zM720,562h1v5h-1zM717,569h4v1h-4zM717,572h4v1h-4zM717,569h1v4h-1zM720,569h1v4h-1zM713,576h5v1h-5zM713,578h5v1h-5zM720,575h1v1h-1zM720,579h1v1h-1zM720,575h1v5h-1zM717,582h4v1h-4zM717,585h4v1h-4zM717,582h1v4h-1zM720,582h1v4h-1zM713,589h5v1h-5zM713,592h5v1h-5zM720,589h1v1h-1zM720,593h1v1h-1zM720,589h1v5h-1zM717,596h4v1h-4zM717,599h4v1h-4zM717,596h1v4h-1zM720,596h1v4h-1zM713,602h5v1h-5zM713,605h5v1h-5zM720,602h1v1h-1zM720,606h1v1h-1zM720,602h1v5h-1zM717,609h4v1h-4zM717,612h4v1h-4zM717,609h1v4h-1zM720,609h1v4h-1zM713,616h5v1h-5zM713,618h5v1h-5zM720,615h1v1h-1zM720,619h1v1h-1zM720,615h1v5h-1zM717,622h4v1h-4zM717,625h4v1h-4zM717,622h1v4h-1zM720,622h1v4h-1zM713,629h5v1h-5zM713,632h5v1h-5zM720,629h1v1h-1zM720,633h1v1h-1zM720,629h1v5h-1zM717,636h4v1h-4zM717,639h4v1h-4zM717,636h1v4h-1zM720,636h1v4h-1zM713,642h5v1h-5zM713,645h5v1h-5zM720,642h1v1h-1zM720,646h1v1h-1zM720,642h1v5h-1zM717,649h4v1h-4zM717,652h4v1h-4zM717,649h1v4h-1zM720,649h1v4h-1zM713,656h5v1h-5zM713,658h5v1h-5zM720,655h1v1h-1zM720,659h1v1h-1zM720,655h1v5h-1zM717,662h4v1h-4zM717,665h4v1h-4zM717,662h1v4h-1zM720,662h1v4h-1zM713,669h5v1h-5zM713,672h5v1h-5zM720,669h1v1h-1zM720,673h1v1h-1zM720,669h1v5h-1zM717,676h4v1h-4zM717,679h4v1h-4zM717,676h1v4h-1zM720,676h1v4h-1zM713,682h5v1h-5zM713,685h5v1h-5zM720,682h1v1h-1zM720,686h1v1h-1zM720,682h1v5h-1zM717,689h4v1h-4zM717,692h4v1h-4zM717,689h1v4h-1zM720,689h1v4h-1zM713,696h5v1h-5zM713,698h5v1h-5zM720,695h1v1h-1zM720,699h1v1h-1zM720,695h1v5h-1zM717,702h4v1h-4zM717,705h4v1h-4zM717,702h1v4h-1zM720,702h1v4h-1zM713,709h5v1h-5zM713,712h5v1h-5zM720,709h1v1h-1zM720,713h1v1h-1zM720,709h1v5h-1zM717,716h4v1h-4zM717,719h4v1h-4zM717,716h1v4h-1zM720,716h1v4h-1zM713,722h5v1h-5zM713,725h5v1h-5zM720,722h1v1h-1zM720,726h1v1h-1zM720,722h1v5h-1zM717,729h4v1h-4zM717,732h4v1h-4zM717,729h1v4h-1zM720,729h1v4h-1zM713,736h5v1h-5zM713,738h5v1h-5zM720,735h1v1h-1zM720,739h1v1h-1zM720,735h1v5h-1zM717,742h4v1h-4zM717,745h4v1h-4zM717,742h1v4h-1zM720,742h1v4h-1zM713,749h5v1h-5zM713,752h5v1h-5zM720,749h1v1h-1zM720,753h1v1h-1zM720,749h1v5h-1zM717,756h4v1h-4zM717,759h4v1h-4zM717,756h1v4h-1zM720,756h1v4h-1zM713,762h5v1h-5zM713,765h5v1h-5zM720,762h1v1h-1zM720,766h1v1h-1zM720,762h1v5h-1zM717,769h4v1h-4zM717,772h4v1h-4zM717,769h1v4h-1zM720,769h1v4h-1zM713,776h5v1h-5zM713,778h5v1h-5zM720,775h1v1h-1zM720,779h1v1h-1zM720,775h1v5h-1zM717,782h4v1h-4zM717,785h4v1h-4zM717,782h1v4h-1zM720,782h1v4h-1zM713,789h5v1h-5zM713,792h5v1h-5zM720,789h1v1h-1zM720,793h1v1h-1zM720,789h1v5h-1zM717,796h4v1h-4zM717,799h4v1h-4zM717,796h1v4h-1zM720,796h1v4h-1zM713,802h5v1h-5zM713,805h5v1h-5zM720,802h1v1h-1zM720,806h1v1h-1zM720,802h1v5h-1zM717,809h4v1h-4zM717,812h4v1h-4zM717,809h1v4h-1zM720,809h1v4h-1zM713,816h5v1h-5zM713,818h5v1h-5zM720,815h1v1h-1zM720,819h1v1h-1zM720,815h1v5h-1zM717,822h4v1h-4zM717,825h4v1h-4zM717,822h1v4h-1zM720,822h1v4h-1zM713,829h5v1h-5zM713,832h5v1h-5zM720,829h1v1h-1zM720,833h1v1h-1zM720,829h1v5h-1zM717,836h4v1h-4zM717,839h4v1h-4zM717,836h1v4h-1zM720,836h1v4h-1zM713,842h5v1h-5zM713,845h5v1h-5zM720,842h1v1h-1zM720,846h1v1h-1zM720,842h1v5h-1zM717,849h4v1h-4zM717,852h4v1h-4zM717,849h1v4h-1zM720,849h1v4h-1zM713,856h5v1h-5zM713,858h5v1h-5zM720,855h1v1h-1zM720,859h1v1h-1zM720,855h1v5h-1zM717,862h4v1h-4zM717,865h4v1h-4zM717,862h1v4h-1zM720,862h1v4h-1zM713,869h5v1h-5zM713,872h5v1h-5zM720,869h1v1h-1zM720,873h1v1h-1zM720,869h1v5h-1zM717,876h4v1h-4zM717,879h4v1h-4zM717,876h1v4h-1zM720,876h1v4h-1zM713,882h5v1h-5zM713,885h5v1h-5zM720,882h1v1h-1zM720,886h1v1h-1zM720,882h1v5h-1zM717,889h4v1h-4zM717,892h4v1h-4zM717,889h1v4h-1zM720,889h1v4h-1zM713,896h5v1h-5zM713,898h5v1h-5zM720,895h1v1h-1zM720,899h1v1h-1zM720,895h1v5h-1zM717,902h4v1h-4zM717,905h4v1h-4zM717,902h1v4h-1zM720,902h1v4h-1zM713,909h5v1h-5zM713,912h5v1h-5zM720,909h1v1h-1zM720,913h1v1h-1zM720,909h1v5h-1zM717,916h4v1h-4zM717,919h4v1h-4zM717,916h1v4h-1zM720,916h1v4h-1zM713,922h5v1h-5zM713,925h5v1h-5zM720,922h1v1h-1zM720,926h1v1h-1zM720,922h1v5h-1zM717,929h4v1h-4zM717,932h4v1h-4zM717,929h1v4h-1zM720,929h1v4h-1zM713,936h5v1h-5zM713,938h5v1h-5zM720,935h1v1h-1zM720,939h1v1h-1zM720,935h1v5h-1zM717,942h4v1h-4zM717,945h4v1h-4zM717,942h1v4h-1zM720,942h1v4h-1zM713,949h5v1h-5zM713,952h5v1h-5zM720,949h1v1h-1zM720,953h1v1h-1zM720,949h1v5h-1zM717,956h4v1h-4zM717,959h4v1h-4zM717,956h1v4h-1zM720,956h1v4h-1zM713,962h5v1h-5zM713,965h5v1h-5zM720,962h1v1h-1zM720,966h1v1h-1zM720,962h1v5h-1zM717,969h4v1h-4zM717,972h4v1h-4zM717,969h1v4h-1zM720,969h1v4h-1zM713,976h5v1h-5zM713,978h5v1h-5zM720,975h1v1h-1zM720,979h1v1h-1zM720,975h1v5h-1zM717,982h4v1h-4zM717,985h4v1h-4zM717,982h1v4h-1zM720,982h1v4h-1zM713,989h5v1h-5zM713,992h5v1h-5zM720,989h1v1h-1zM720,993h1v1h-1zM720,989h1v5h-1zM717,996h4v1h-4zM717,999h4v1h-4zM717,996h1v4h-1zM720,996h1v4h-1zM713,1002h5v1h-5zM713,1005h5v1h-5zM720,1002h1v1h-1zM720,1006h1v1h-1zM720,1002h1v5h-1zM717,1009h4v1h-4zM717,1012h4v1h-4zM717,1009h1v4h-1zM720,1009h1v4h-1zM713,1016h5v1h-5zM713,1018h5v1h-5zM720,1015h1v1h-1zM720,1019h1v1h-1zM720,1015h1v5h-1zM717,1022h4v1h-4zM717,1025h4v1h-4zM717,1022h1v4h-1zM720,1022h1v4h-1zM713,1029h5v1h-5zM713,1032h5v1h-5zM720,1029h1v1h-1zM720,1033h1v1h-1zM720,1029h1v5h-1zM717,1036h4v1h-4zM717,1039h4v1h-4zM717,1036h1v4h-1zM720,1036h1v4h-1zM713,1042h5v1h-5zM713,1045h5v1h-5zM720,1042h1v1h-1zM720,1046h1v1h-1zM720,1042h1v5h-1zM717,1049h4v1h-4zM717,1052h4v1h-4zM717,1049h1v4h-1zM720,1049h1v4h-1zM713,1056h5v1h-5zM713,1058h5v1h-5zM720,1055h1v1h-1zM720,1059h1v1h-1zM720,1055h1v5h-1zM717,1062h4v1h-4zM717,1065h4v1h-4zM717,1062h1v4h-1zM720,1062h1v4h-1zM713,1069h5v1h-5zM713,1072h5v1h-5zM720,1069h1v1h-1zM720,1073h1v1h-1zM720,1069h1v5h-1zM717,1076h4v1h-4zM717,1079h4v1h-4zM717,1076h1v4h-1zM720,1076h1v4h-1zM713,1082h5v1h-5zM713,1085h5v1h-5zM720,1082h1v1h-1zM720,1086h1v1h-1zM720,1082h1v5h-1zM717,1089h4v1h-4zM717,1092h4v1h-4zM717,1089h1v4h-1zM720,1089h1v4h-1zM713,1096h5v1h-5zM713,1098h5v1h-5zM720,1095h1v1h-1zM720,1099h1v1h-1zM720,1095h1v5h-1zM717,1102h4v1h-4zM717,1105h4v1h-4zM717,1102h1v4h-1zM720,1102h1v4h-1zM713,1109h5v1h-5zM713,1112h5v1h-5zM720,1109h1v1h-1zM720,1113h1v1h-1zM720,1109h1v5h-1zM717,1116h4v1h-4zM717,1119h4v1h-4zM717,1116h1v4h-1zM720,1116h1v4h-1zM713,1122h5v1h-5zM713,1125h5v1h-5zM720,1122h1v1h-1zM720,1126h1v1h-1zM720,1122h1v5h-1zM717,1129h4v1h-4zM717,1132h4v1h-4zM717,1129h1v4h-1zM720,1129h1v4h-1zM713,1136h5v1h-5zM713,1138h5v1h-5zM720,1135h1v1h-1zM720,1139h1v1h-1zM720,1135h1v5h-1zM717,1142h4v1h-4zM717,1145h4v1h-4zM717,1142h1v4h-1zM720,1142h1v4h-1zM713,1149h5v1h-5zM713,1152h5v1h-5zM720,1149h1v1h-1zM720,1153h1v1h-1zM720,1149h1v5h-1zM717,1156h4v1h-4zM717,1159h4v1h-4zM717,1156h1v4h-1zM720,1156h1v4h-1zM713,1162h5v1h-5zM713,1165h5v1h-5zM720,1162h1v1h-1zM720,1166h1v1h-1zM720,1162h1v5h-1zM717,1169h4v1h-4zM717,1172h4v1h-4zM717,1169h1v4h-1zM720,1169h1v4h-1zM713,1176h5v1h-5zM713,1178h5v1h-5zM720,1175h1v1h-1zM720,1179h1v1h-1zM720,1175h1v5h-1zM717,1182h4v1h-4zM717,1185h4v1h-4zM717,1182h1v4h-1zM720,1182h1v4h-1zM713,1189h5v1h-5zM713,1192h5v1h-5zM720,1189h1v1h-1zM720,1193h1v1h-1zM720,1189h1v5h-1zM717,1196h4v1h-4zM717,1199h4v1h-4zM717,1196h1v4h-1zM720,1196h1v4h-1zM713,1202h5v1h-5zM713,1205h5v1h-5zM720,1202h1v1h-1zM720,1206h1v1h-1zM720,1202h1v5h-1zM717,1209h4v1h-4zM717,1212h4v1h-4zM717,1209h1v4h-1zM720,1209h1v4h-1zM713,1216h5v1h-5zM713,1218h5v1h-5zM720,1215h1v1h-1zM720,1219h1v1h-1zM720,1215h1v5h-1zM717,1222h4v1h-4zM717,1225h4v1h-4zM717,1222h1v4h-1zM720,1222h1v4h-1zM713,1229h5v1h-5zM713,1232h5v1h-5zM720,1229h1v1h-1zM720,1233h1v1h-1zM720,1229h1v5h-1zM717,1236h4v1h-4zM717,1239h4v1h-4zM717,1236h1v4h-1zM720,1236h1v4h-1zM713,1242h5v1h-5zM713,1245h5v1h-5zM720,1242h1v1h-1zM720,1246h1v1h-1zM720,1242h1v5h-1zM717,1249h4v1h-4zM717,1252h4v1h-4zM717,1249h1v4h-1zM720,1249h1v4h-1zM713,1256h5v1h-5zM713,1258h5v1h-5zM720,1255h1v1h-1zM720,1259h1v1h-1zM720,1255h1v5h-1zM717,1262h4v1h-4zM717,1265h4v1h-4zM717,1262h1v4h-1zM720,1262h1v4h-1zM713,1269h5v1h-5zM713,1272h5v1h-5zM720,1269h1v1h-1zM720,1273h1v1h-1zM720,1269h1v5h-1zM717,1276h4v1h-4zM717,1279h4v1h-4zM717,1276h1v4h-1zM720,1276h1v4h-1zM713,1282h5v1h-5zM713,1285h5v1h-5zM720,1282h1v1h-1zM720,1286h1v1h-1zM720,1282h1v5h-1zM717,1289h4v1h-4zM717,1292h4v1h-4zM717,1289h1v4h-1zM720,1289h1v4h-1zM713,1296h5v1h-5zM713,1298h5v1h-5zM720,1295h1v1h-1zM720,1299h1v1h-1zM720,1295h1v5h-1zM717,1302h4v1h-4zM717,1305h4v1h-4zM717,1302h1v4h-1zM720,1302h1v4h-1zM713,1309h5v1h-5zM713,1312h5v1h-5zM720,1309h1v1h-1zM720,1313h1v1h-1zM720,1309h1v5h-1zM717,1316h4v1h-4zM717,1319h4v1h-4zM717,1316h1v4h-1zM720,1316h1v4h-1zM713,1322h5v1h-5zM713,1325h5v1h-5zM720,1322h1v1h-1zM720,1326h1v1h-1zM720,1322h1v5h-1zM717,1329h4v1h-4zM717,1332h4v1h-4zM717,1329h1v4h-1zM720,1329h1v4h-1zM713,1336h5v1h-5zM713,1338h5v1h-5zM720,1335h1v1h-1zM720,1339h1v1h-1zM720,1335h1v5h-1zM717,1342h4v1h-4zM717,1345h4v1h-4zM717,1342h1v4h-1zM720,1342h1v4h-1zM713,1349h5v1h-5zM713,1352h5v1h-5zM720,1349h1v1h-1zM720,1353h1v1h-1zM720,1349h1v5h-1zM717,1356h4v1h-4zM717,1359h4v1h-4zM717,1356h1v4h-1zM720,1356h1v4h-1zM713,1362h5v1h-5zM713,1365h5v1h-5zM720,1362h1v1h-1zM720,1366h1v1h-1zM720,1362h1v5h-1zM717,1369h4v1h-4zM717,1372h4v1h-4zM717,1369h1v4h-1zM720,1369h1v4h-1zM713,1376h5v1h-5zM713,1378h5v1h-5zM720,1375h1v1h-1zM720,1379h1v1h-1zM720,1375h1v5h-1zM717,1382h4v1h-4zM717,1385h4v1h-4zM717,1382h1v4h-1zM720,1382h1v4h-1z" fill="#000" stroke="none" shape-rendering="crispEdges"/>
<rect x="825.2" y="407.1" width="55.6" height="895.4" rx="1.2" fill="#000" stroke="none"/>
<rect x="828.8" y="414.5" width="49.1" height="879.4" fill="#fff" stroke="none"/>
<rect x="828.8" y="410" width="49.1" height="2" fill="#fff" stroke="none"/>
<rect x="828.8" y="1298" width="49.1" height="1" fill="#fff" stroke="none"/>
<path d="M828,417h1v1h-1zM828,421h1v1h-1zM828,417h1v5h-1zM828,424h4v1h-4zM828,427h4v1h-4zM828,424h1v4h-1zM831,424h1v4h-1zM828,430h1v1h-1zM828,434h1v1h-1zM828,430h1v5h-1zM828,437h4v1h-4zM828,440h4v1h-4zM828,437h1v4h-1zM831,437h1v4h-1zM828,443h1v1h-1zM828,447h1v1h-1zM828,443h1v5h-1zM828,450h4v1h-4zM828,453h4v1h-4zM828,450h1v4h-1zM831,450h1v4h-1zM828,457h1v1h-1zM828,461h1v1h-1zM828,457h1v5h-1zM828,464h4v1h-4zM828,467h4v1h-4zM828,464h1v4h-1zM831,464h1v4h-1zM828,470h1v1h-1zM828,474h1v1h-1zM828,470h1v5h-1zM828,477h4v1h-4zM828,480h4v1h-4zM828,477h1v4h-1zM831,477h1v4h-1zM828,483h1v1h-1zM828,487h1v1h-1zM828,483h1v5h-1zM828,490h4v1h-4zM828,493h4v1h-4zM828,490h1v4h-1zM831,490h1v4h-1zM828,497h1v1h-1zM828,501h1v1h-1zM828,497h1v5h-1zM828,504h4v1h-4zM828,507h4v1h-4zM828,504h1v4h-1zM831,504h1v4h-1zM828,510h1v1h-1zM828,514h1v1h-1zM828,510h1v5h-1zM828,517h4v1h-4zM828,520h4v1h-4zM828,517h1v4h-1zM831,517h1v4h-1zM828,523h1v1h-1zM828,527h1v1h-1zM828,523h1v5h-1zM828,530h4v1h-4zM828,533h4v1h-4zM828,530h1v4h-1zM831,530h1v4h-1zM828,537h1v1h-1zM828,541h1v1h-1zM828,537h1v5h-1zM828,544h4v1h-4zM828,547h4v1h-4zM828,544h1v4h-1zM831,544h1v4h-1zM828,550h1v1h-1zM828,554h1v1h-1zM828,550h1v5h-1zM828,557h4v1h-4zM828,560h4v1h-4zM828,557h1v4h-1zM831,557h1v4h-1zM828,563h1v1h-1zM828,567h1v1h-1zM828,563h1v5h-1zM828,570h4v1h-4zM828,573h4v1h-4zM828,570h1v4h-1zM831,570h1v4h-1zM828,577h1v1h-1zM828,581h1v1h-1zM828,577h1v5h-1zM828,584h4v1h-4zM828,587h4v1h-4zM828,584h1v4h-1zM831,584h1v4h-1zM828,590h1v1h-1zM828,594h1v1h-1zM828,590h1v5h-1zM828,597h4v1h-4zM828,600h4v1h-4zM828,597h1v4h-1zM831,597h1v4h-1zM828,603h1v1h-1zM828,607h1v1h-1zM828,603h1v5h-1zM828,610h4v1h-4zM828,613h4v1h-4zM828,610h1v4h-1zM831,610h1v4h-1zM828,617h1v1h-1zM828,621h1v1h-1zM828,617h1v5h-1zM828,624h4v1h-4zM828,627h4v1h-4zM828,624h1v4h-1zM831,624h1v4h-1zM828,630h1v1h-1zM828,634h1v1h-1zM828,630h1v5h-1zM828,637h4v1h-4zM828,640h4v1h-4zM828,637h1v4h-1zM831,637h1v4h-1zM828,643h1v1h-1zM828,647h1v1h-1zM828,643h1v5h-1zM828,650h4v1h-4zM828,653h4v1h-4zM828,650h1v4h-1zM831,650h1v4h-1zM828,657h1v1h-1zM828,661h1v1h-1zM828,657h1v5h-1zM828,664h4v1h-4zM828,667h4v1h-4zM828,664h1v4h-1zM831,664h1v4h-1zM828,670h1v1h-1zM828,674h1v1h-1zM828,670h1v5h-1zM828,677h4v1h-4zM828,680h4v1h-4zM828,677h1v4h-1zM831,677h1v4h-1zM828,683h1v1h-1zM828,687h1v1h-1zM828,683h1v5h-1zM828,690h4v1h-4zM828,693h4v1h-4zM828,690h1v4h-1zM831,690h1v4h-1zM828,697h1v1h-1zM828,701h1v1h-1zM828,697h1v5h-1zM828,704h4v1h-4zM828,707h4v1h-4zM828,704h1v4h-1zM831,704h1v4h-1zM828,710h1v1h-1zM828,714h1v1h-1zM828,710h1v5h-1zM828,717h4v1h-4zM828,720h4v1h-4zM828,717h1v4h-1zM831,717h1v4h-1zM828,723h1v1h-1zM828,727h1v1h-1zM828,723h1v5h-1zM828,730h4v1h-4zM828,733h4v1h-4zM828,730h1v4h-1zM831,730h1v4h-1zM828,737h1v1h-1zM828,741h1v1h-1zM828,737h1v5h-1zM828,744h4v1h-4zM828,747h4v1h-4zM828,744h1v4h-1zM831,744h1v4h-1zM828,750h1v1h-1zM828,754h1v1h-1zM828,750h1v5h-1zM828,757h4v1h-4zM828,760h4v1h-4zM828,757h1v4h-1zM831,757h1v4h-1zM828,763h1v1h-1zM828,767h1v1h-1zM828,763h1v5h-1zM828,770h4v1h-4zM828,773h4v1h-4zM828,770h1v4h-1zM831,770h1v4h-1zM828,777h1v1h-1zM828,781h1v1h-1zM828,777h1v5h-1zM828,784h4v1h-4zM828,787h4v1h-4zM828,784h1v4h-1zM831,784h1v4h-1zM828,790h1v1h-1zM828,794h1v1h-1zM828,790h1v5h-1zM828,797h4v1h-4zM828,800h4v1h-4zM828,797h1v4h-1zM831,797h1v4h-1zM828,803h1v1h-1zM828,807h1v1h-1zM828,803h1v5h-1zM828,810h4v1h-4zM828,813h4v1h-4zM828,810h1v4h-1zM831,810h1v4h-1zM828,817h1v1h-1zM828,821h1v1h-1zM828,817h1v5h-1zM828,824h4v1h-4zM828,827h4v1h-4zM828,824h1v4h-1zM831,824h1v4h-1zM828,830h1v1h-1zM828,834h1v1h-1zM828,830h1v5h-1zM828,837h4v1h-4zM828,840h4v1h-4zM828,837h1v4h-1zM831,837h1v4h-1zM828,843h1v1h-1zM828,847h1v1h-1zM828,843h1v5h-1zM828,850h4v1h-4zM828,853h4v1h-4zM828,850h1v4h-1zM831,850h1v4h-1zM828,857h1v1h-1zM828,861h1v1h-1zM828,857h1v5h-1zM828,864h4v1h-4zM828,867h4v1h-4zM828,864h1v4h-1zM831,864h1v4h-1zM828,870h1v1h-1zM828,874h1v1h-1zM828,870h1v5h-1zM828,877h4v1h-4zM828,880h4v1h-4zM828,877h1v4h-1zM831,877h1v4h-1zM828,883h1v1h-1zM828,887h1v1h-1zM828,883h1v5h-1zM828,890h4v1h-4zM828,893h4v1h-4zM828,890h1v4h-1zM831,890h1v4h-1zM828,897h1v1h-1zM828,901h1v1h-1zM828,897h1v5h-1zM828,904h4v1h-4zM828,907h4v1h-4zM828,904h1v4h-1zM831,904h1v4h-1zM828,910h1v1h-1zM828,914h1v1h-1zM828,910h1v5h-1zM828,917h4v1h-4zM828,920h4v1h-4zM828,917h1v4h-1zM831,917h1v4h-1zM828,923h1v1h-1zM828,927h1v1h-1zM828,923h1v5h-1zM828,930h4v1h-4zM828,933h4v1h-4zM828,930h1v4h-1zM831,930h1v4h-1zM828,937h1v1h-1zM828,941h1v1h-1zM828,937h1v5h-1zM828,944h4v1h-4zM828,947h4v1h-4zM828,944h1v4h-1zM831,944h1v4h-1zM828,950h1v1h-1zM828,954h1v1h-1zM828,950h1v5h-1zM828,957h4v1h-4zM828,960h4v1h-4zM828,957h1v4h-1zM831,957h1v4h-1zM828,963h1v1h-1zM828,967h1v1h-1zM828,963h1v5h-1zM828,970h4v1h-4zM828,973h4v1h-4zM828,970h1v4h-1zM831,970h1v4h-1zM828,977h1v1h-1zM828,981h1v1h-1zM828,977h1v5h-1zM828,984h4v1h-4zM828,987h4v1h-4zM828,984h1v4h-1zM831,984h1v4h-1zM828,990h1v1h-1zM828,994h1v1h-1zM828,990h1v5h-1zM828,997h4v1h-4zM828,1000h4v1h-4zM828,997h1v4h-1zM831,997h1v4h-1zM828,1003h1v1h-1zM828,1007h1v1h-1zM828,1003h1v5h-1zM828,1010h4v1h-4zM828,1013h4v1h-4zM828,1010h1v4h-1zM831,1010h1v4h-1zM828,1017h1v1h-1zM828,1021h1v1h-1zM828,1017h1v5h-1zM828,1024h4v1h-4zM828,1027h4v1h-4zM828,1024h1v4h-1zM831,1024h1v4h-1zM828,1030h1v1h-1zM828,1034h1v1h-1zM828,1030h1v5h-1zM828,1037h4v1h-4zM828,1040h4v1h-4zM828,1037h1v4h-1zM831,1037h1v4h-1zM828,1043h1v1h-1zM828,1047h1v1h-1zM828,1043h1v5h-1zM828,1050h4v1h-4zM828,1053h4v1h-4zM828,1050h1v4h-1zM831,1050h1v4h-1zM828,1057h1v1h-1zM828,1061h1v1h-1zM828,1057h1v5h-1zM828,1064h4v1h-4zM828,1067h4v1h-4zM828,1064h1v4h-1zM831,1064h1v4h-1zM828,1070h1v1h-1zM828,1074h1v1h-1zM828,1070h1v5h-1zM828,1077h4v1h-4zM828,1080h4v1h-4zM828,1077h1v4h-1zM831,1077h1v4h-1zM828,1083h1v1h-1zM828,1087h1v1h-1zM828,1083h1v5h-1zM828,1090h4v1h-4zM828,1093h4v1h-4zM828,1090h1v4h-1zM831,1090h1v4h-1zM828,1097h1v1h-1zM828,1101h1v1h-1zM828,1097h1v5h-1zM828,1104h4v1h-4zM828,1107h4v1h-4zM828,1104h1v4h-1zM831,1104h1v4h-1zM828,1110h1v1h-1zM828,1114h1v1h-1zM828,1110h1v5h-1zM828,1117h4v1h-4zM828,1120h4v1h-4zM828,1117h1v4h-1zM831,1117h1v4h-1zM828,1123h1v1h-1zM828,1127h1v1h-1zM828,1123h1v5h-1zM828,1130h4v1h-4zM828,1133h4v1h-4zM828,1130h1v4h-1zM831,1130h1v4h-1zM828,1137h1v1h-1zM828,1141h1v1h-1zM828,1137h1v5h-1zM828,1144h4v1h-4zM828,1147h4v1h-4zM828,1144h1v4h-1zM831,1144h1v4h-1zM828,1150h1v1h-1zM828,1154h1v1h-1zM828,1150h1v5h-1zM828,1157h4v1h-4zM828,1160h4v1h-4zM828,1157h1v4h-1zM831,1157h1v4h-1zM828,1163h1v1h-1zM828,1167h1v1h-1zM828,1163h1v5h-1zM828,1170h4v1h-4zM828,1173h4v1h-4zM828,1170h1v4h-1zM831,1170h1v4h-1zM828,1177h1v1h-1zM828,1181h1v1h-1zM828,1177h1v5h-1zM828,1184h4v1h-4zM828,1187h4v1h-4zM828,1184h1v4h-1zM831,1184h1v4h-1zM828,1190h1v1h-1zM828,1194h1v1h-1zM828,1190h1v5h-1zM828,1197h4v1h-4zM828,1200h4v1h-4zM828,1197h1v4h-1zM831,1197h1v4h-1zM828,1203h1v1h-1zM828,1207h1v1h-1zM828,1203h1v5h-1zM828,1210h4v1h-4zM828,1213h4v1h-4zM828,1210h1v4h-1zM831,1210h1v4h-1zM828,1217h1v1h-1zM828,1221h1v1h-1zM828,1217h1v5h-1zM828,1224h4v1h-4zM828,1227h4v1h-4zM828,1224h1v4h-1zM831,1224h1v4h-1zM828,1230h1v1h-1zM828,1234h1v1h-1zM828,1230h1v5h-1zM828,1237h4v1h-4zM828,1240h4v1h-4zM828,1237h1v4h-1zM831,1237h1v4h-1zM828,1243h1v1h-1zM828,1247h1v1h-1zM828,1243h1v5h-1zM828,1250h4v1h-4zM828,1253h4v1h-4zM828,1250h1v4h-1zM831,1250h1v4h-1zM828,1257h1v1h-1zM828,1261h1v1h-1zM828,1257h1v5h-1zM828,1264h4v1h-4zM828,1267h4v1h-4zM828,1264h1v4h-1zM831,1264h1v4h-1zM828,1270h1v1h-1zM828,1274h1v1h-1zM828,1270h1v5h-1zM828,1277h4v1h-4zM828,1280h4v1h-4zM828,1277h1v4h-1zM831,1277h1v4h-1zM828,1283h1v1h-1zM828,1287h1v1h-1zM828,1283h1v5h-1zM828,1290h4v1h-4zM828,1293h4v1h-4zM828,1290h1v4h-1zM831,1290h1v4h-1zM831,414h1v880h-1zM835,414h1v880h-1zM831,417h5v1h-5zM831,420h5v1h-5zM838,417h4v1h-4zM838,421h4v1h-4zM838,417h1v5h-1zM841,417h1v5h-1zM835,424h4v1h-4zM835,427h4v1h-4zM835,424h1v4h-1zM838,424h1v4h-1zM842,424h4v1h-4zM842,427h4v1h-4zM842,424h1v4h-1zM845,424h1v4h-1zM831,430h5v1h-5zM831,433h5v1h-5zM838,430h4v1h-4zM838,434h4v1h-4zM838,430h1v5h-1zM841,430h1v5h-1zM835,437h4v1h-4zM835,440h4v1h-4zM835,437h1v4h-1zM838,437h1v4h-1zM842,437h4v1h-4zM842,440h4v1h-4zM842,437h1v4h-1zM845,437h1v4h-1zM831,444h5v1h-5zM831,446h5v1h-5zM838,443h4v1h-4zM838,447h4v1h-4zM838,443h1v5h-1zM841,443h1v5h-1zM835,450h4v1h-4zM835,453h4v1h-4zM835,450h1v4h-1zM838,450h1v4h-1zM842,450h4v1h-4zM842,453h4v1h-4zM842,450h1v4h-1zM845,450h1v4h-1zM831,457h5v1h-5zM831,460h5v1h-5zM838,457h4v1h-4zM838,461h4v1h-4zM838,457h1v5h-1zM841,457h1v5h-1zM835,464h4v1h-4zM835,467h4v1h-4zM835,464h1v4h-1zM838,464h1v4h-1zM842,464h4v1h-4zM842,467h4v1h-4zM842,464h1v4h-1zM845,464h1v4h-1zM831,470h5v1h-5zM831,473h5v1h-5zM838,470h4v1h-4zM838,474h4v1h-4zM838,470h1v5h-1zM841,470h1v5h-1zM835,477h4v1h-4zM835,480h4v1h-4zM835,477h1v4h-1zM838,477h1v4h-1zM842,477h4v1h-4zM842,480h4v1h-4zM842,477h1v4h-1zM845,477h1v4h-1zM831,484h5v1h-5zM831,486h5v1h-5zM838,483h4v1h-4zM838,487h4v1h-4zM838,483h1v5h-1zM841,483h1v5h-1zM835,490h4v1h-4zM835,493h4v1h-4zM835,490h1v4h-1zM838,490h1v4h-1zM842,490h4v1h-4zM842,493h4v1h-4zM842,490h1v4h-1zM845,490h1v4h-1zM831,497h5v1h-5zM831,500h5v1h-5zM838,497h4v1h-4zM838,501h4v1h-4zM838,497h1v5h-1zM841,497h1v5h-1zM835,504h4v1h-4zM835,507h4v1h-4zM835,504h1v4h-1zM838,504h1v4h-1zM842,504h4v1h-4zM842,507h4v1h-4zM842,504h1v4h-1zM845,504h1v4h-1zM831,510h5v1h-5zM831,513h5v1h-5zM838,510h4v1h-4zM838,514h4v1h-4zM838,510h1v5h-1zM841,510h1v5h-1zM835,517h4v1h-4zM835,520h4v1h-4zM835,517h1v4h-1zM838,517h1v4h-1zM842,517h4v1h-4zM842,520h4v1h-4zM842,517h1v4h-1zM845,517h1v4h-1zM831,524h5v1h-5zM831,526h5v1h-5zM838,523h4v1h-4zM838,527h4v1h-4zM838,523h1v5h-1zM841,523h1v5h-1zM835,530h4v1h-4zM835,533h4v1h-4zM835,530h1v4h-1zM838,530h1v4h-1zM842,530h4v1h-4zM842,533h4v1h-4zM842,530h1v4h-1zM845,530h1v4h-1zM831,537h5v1h-5zM831,540h5v1h-5zM838,537h4v1h-4zM838,541h4v1h-4zM838,537h1v5h-1zM841,537h1v5h-1zM835,544h4v1h-4zM835,547h4v1h-4zM835,544h1v4h-1zM838,544h1v4h-1zM842,544h4v1h-4zM842,547h4v1h-4zM842,544h1v4h-1zM845,544h1v4h-1zM831,550h5v1h-5zM831,553h5v1h-5zM838,550h4v1h-4zM838,554h4v1h-4zM838,550h1v5h-1zM841,550h1v5h-1zM835,557h4v1h-4zM835,560h4v1h-4zM835,557h1v4h-1zM838,557h1v4h-1zM842,557h4v1h-4zM842,560h4v1h-4zM842,557h1v4h-1zM845,557h1v4h-1zM831,564h5v1h-5zM831,566h5v1h-5zM838,563h4v1h-4zM838,567h4v1h-4zM838,563h1v5h-1zM841,563h1v5h-1zM835,570h4v1h-4zM835,573h4v1h-4zM835,570h1v4h-1zM838,570h1v4h-1zM842,570h4v1h-4zM842,573h4v1h-4zM842,570h1v4h-1zM845,570h1v4h-1zM831,577h5v1h-5zM831,580h5v1h-5zM838,577h4v1h-4zM838,581h4v1h-4zM838,577h1v5h-1zM841,577h1v5h-1zM835,584h4v1h-4zM835,587h4v1h-4zM835,584h1v4h-1zM838,584h1v4h-1zM842,584h4v1h-4zM842,587h4v1h-4zM842,584h1v4h-1zM845,584h1v4h-1zM831,590h5v1h-5zM831,593h5v1h-5zM838,590h4v1h-4zM838,594h4v1h-4zM838,590h1v5h-1zM841,590h1v5h-1zM835,597h4v1h-4zM835,600h4v1h-4zM835,597h1v4h-1zM838,597h1v4h-1zM842,597h4v1h-4zM842,600h4v1h-4zM842,597h1v4h-1zM845,597h1v4h-1zM831,604h5v1h-5zM831,606h5v1h-5zM838,603h4v1h-4zM838,607h4v1h-4zM838,603h1v5h-1zM841,603h1v5h-1zM835,610h4v1h-4zM835,613h4v1h-4zM835,610h1v4h-1zM838,610h1v4h-1zM842,610h4v1h-4zM842,613h4v1h-4zM842,610h1v4h-1zM845,610h1v4h-1zM831,617h5v1h-5zM831,620h5v1h-5zM838,617h4v1h-4zM838,621h4v1h-4zM838,617h1v5h-1zM841,617h1v5h-1zM835,624h4v1h-4zM835,627h4v1h-4zM835,624h1v4h-1zM838,624h1v4h-1zM842,624h4v1h-4zM842,627h4v1h-4zM842,624h1v4h-1zM845,624h1v4h-1zM831,630h5v1h-5zM831,633h5v1h-5zM838,630h4v1h-4zM838,634h4v1h-4zM838,630h1v5h-1zM841,630h1v5h-1zM835,637h4v1h-4zM835,640h4v1h-4zM835,637h1v4h-1zM838,637h1v4h-1zM842,637h4v1h-4zM842,640h4v1h-4zM842,637h1v4h-1zM845,637h1v4h-1zM831,644h5v1h-5zM831,646h5v1h-5zM838,643h4v1h-4zM838,647h4v1h-4zM838,643h1v5h-1zM841,643h1v5h-1zM835,650h4v1h-4zM835,653h4v1h-4zM835,650h1v4h-1zM838,650h1v4h-1zM842,650h4v1h-4zM842,653h4v1h-4zM842,650h1v4h-1zM845,650h1v4h-1zM831,657h5v1h-5zM831,660h5v1h-5zM838,657h4v1h-4zM838,661h4v1h-4zM838,657h1v5h-1zM841,657h1v5h-1zM835,664h4v1h-4zM835,667h4v1h-4zM835,664h1v4h-1zM838,664h1v4h-1zM842,664h4v1h-4zM842,667h4v1h-4zM842,664h1v4h-1zM845,664h1v4h-1zM831,670h5v1h-5zM831,673h5v1h-5zM838,670h4v1h-4zM838,674h4v1h-4zM838,670h1v5h-1zM841,670h1v5h-1zM835,677h4v1h-4zM835,680h4v1h-4zM835,677h1v4h-1zM838,677h1v4h-1zM842,677h4v1h-4zM842,680h4v1h-4zM842,677h1v4h-1zM845,677h1v4h-1zM831,684h5v1h-5zM831,686h5v1h-5zM838,683h4v1h-4zM838,687h4v1h-4zM838,683h1v5h-1zM841,683h1v5h-1zM835,690h4v1h-4zM835,693h4v1h-4zM835,690h1v4h-1zM838,690h1v4h-1zM842,690h4v1h-4zM842,693h4v1h-4zM842,690h1v4h-1zM845,690h1v4h-1zM831,697h5v1h-5zM831,700h5v1h-5zM838,697h4v1h-4zM838,701h4v1h-4zM838,697h1v5h-1zM841,697h1v5h-1zM835,704h4v1h-4zM835,707h4v1h-4zM835,704h1v4h-1zM838,704h1v4h-1zM842,704h4v1h-4zM842,707h4v1h-4zM842,704h1v4h-1zM845,704h1v4h-1zM831,710h5v1h-5zM831,713h5v1h-5zM838,710h4v1h-4zM838,714h4v1h-4zM838,710h1v5h-1zM841,710h1v5h-1zM835,717h4v1h-4zM835,720h4v1h-4zM835,717h1v4h-1zM838,717h1v4h-1zM842,717h4v1h-4zM842,720h4v1h-4zM842,717h1v4h-1zM845,717h1v4h-1zM831,724h5v1h-5zM831,726h5v1h-5zM838,723h4v1h-4zM838,727h4v1h-4zM838,723h1v5h-1zM841,723h1v5h-1zM835,730h4v1h-4zM835,733h4v1h-4zM835,730h1v4h-1zM838,730h1v4h-1zM842,730h4v1h-4zM842,733h4v1h-4zM842,730h1v4h-1zM845,730h1v4h-1zM831,737h5v1h-5zM831,740h5v1h-5zM838,737h4v1h-4zM838,741h4v1h-4zM838,737h1v5h-1zM841,737h1v5h-1zM835,744h4v1h-4zM835,747h4v1h-4zM835,744h1v4h-1zM838,744h1v4h-1zM842,744h4v1h-4zM842,747h4v1h-4zM842,744h1v4h-1zM845,744h1v4h-1zM831,750h5v1h-5zM831,753h5v1h-5zM838,750h4v1h-4zM838,754h4v1h-4zM838,750h1v5h-1zM841,750h1v5h-1zM835,757h4v1h-4zM835,760h4v1h-4zM835,757h1v4h-1zM838,757h1v4h-1zM842,757h4v1h-4zM842,760h4v1h-4zM842,757h1v4h-1zM845,757h1v4h-1zM831,764h5v1h-5zM831,766h5v1h-5zM838,763h4v1h-4zM838,767h4v1h-4zM838,763h1v5h-1zM841,763h1v5h-1zM835,770h4v1h-4zM835,773h4v1h-4zM835,770h1v4h-1zM838,770h1v4h-1zM842,770h4v1h-4zM842,773h4v1h-4zM842,770h1v4h-1zM845,770h1v4h-1zM831,777h5v1h-5zM831,780h5v1h-5zM838,777h4v1h-4zM838,781h4v1h-4zM838,777h1v5h-1zM841,777h1v5h-1zM835,784h4v1h-4zM835,787h4v1h-4zM835,784h1v4h-1zM838,784h1v4h-1zM842,784h4v1h-4zM842,787h4v1h-4zM842,784h1v4h-1zM845,784h1v4h-1zM831,790h5v1h-5zM831,793h5v1h-5zM838,790h4v1h-4zM838,794h4v1h-4zM838,790h1v5h-1zM841,790h1v5h-1zM835,797h4v1h-4zM835,800h4v1h-4zM835,797h1v4h-1zM838,797h1v4h-1zM842,797h4v1h-4zM842,800h4v1h-4zM842,797h1v4h-1zM845,797h1v4h-1zM831,804h5v1h-5zM831,806h5v1h-5zM838,803h4v1h-4zM838,807h4v1h-4zM838,803h1v5h-1zM841,803h1v5h-1zM835,810h4v1h-4zM835,813h4v1h-4zM835,810h1v4h-1zM838,810h1v4h-1zM842,810h4v1h-4zM842,813h4v1h-4zM842,810h1v4h-1zM845,810h1v4h-1zM831,817h5v1h-5zM831,820h5v1h-5zM838,817h4v1h-4zM838,821h4v1h-4zM838,817h1v5h-1zM841,817h1v5h-1zM835,824h4v1h-4zM835,827h4v1h-4zM835,824h1v4h-1zM838,824h1v4h-1zM842,824h4v1h-4zM842,827h4v1h-4zM842,824h1v4h-1zM845,824h1v4h-1zM831,830h5v1h-5zM831,833h5v1h-5zM838,830h4v1h-4zM838,834h4v1h-4zM838,830h1v5h-1zM841,830h1v5h-1zM835,837h4v1h-4zM835,840h4v1h-4zM835,837h1v4h-1zM838,837h1v4h-1zM842,837h4v1h-4zM842,840h4v1h-4zM842,837h1v4h-1zM845,837h1v4h-1zM831,844h5v1h-5zM831,846h5v1h-5zM838,843h4v1h-4zM838,847h4v1h-4zM838,843h1v5h-1zM841,843h1v5h-1zM835,850h4v1h-4zM835,853h4v1h-4zM835,850h1v4h-1zM838,850h1v4h-1zM842,850h4v1h-4zM842,853h4v1h-4zM842,850h1v4h-1zM845,850h1v4h-1zM831,857h5v1h-5zM831,860h5v1h-5zM838,857h4v1h-4zM838,861h4v1h-4zM838,857h1v5h-1zM841,857h1v5h-1zM835,864h4v1h-4zM835,867h4v1h-4zM835,864h1v4h-1zM838,864h1v4h-1zM842,864h4v1h-4zM842,867h4v1h-4zM842,864h1v4h-1zM845,864h1v4h-1zM831,870h5v1h-5zM831,873h5v1h-5zM838,870h4v1h-4zM838,874h4v1h-4zM838,870h1v5h-1zM841,870h1v5h-1zM835,877h4v1h-4zM835,880h4v1h-4zM835,877h1v4h-1zM838,877h1v4h-1zM842,877h4v1h-4zM842,880h4v1h-4zM842,877h1v4h-1zM845,877h1v4h-1zM831,884h5v1h-5zM831,886h5v1h-5zM838,883h4v1h-4zM838,887h4v1h-4zM838,883h1v5h-1zM841,883h1v5h-1zM835,890h4v1h-4zM835,893h4v1h-4zM835,890h1v4h-1zM838,890h1v4h-1zM842,890h4v1h-4zM842,893h4v1h-4zM842,890h1v4h-1zM845,890h1v4h-1zM831,897h5v1h-5zM831,900h5v1h-5zM838,897h4v1h-4zM838,901h4v1h-4zM838,897h1v5h-1zM841,897h1v5h-1zM835,904h4v1h-4zM835,907h4v1h-4zM835,904h1v4h-1zM838,904h1v4h-1zM842,904h4v1h-4zM842,907h4v1h-4zM842,904h1v4h-1zM845,904h1v4h-1zM831,910h5v1h-5zM831,913h5v1h-5zM838,910h4v1h-4zM838,914h4v1h-4zM838,910h1v5h-1zM841,910h1v5h-1zM835,917h4v1h-4zM835,920h4v1h-4zM835,917h1v4h-1zM838,917h1v4h-1zM842,917h4v1h-4zM842,920h4v1h-4zM842,917h1v4h-1zM845,917h1v4h-1zM831,924h5v1h-5zM831,926h5v1h-5zM838,923h4v1h-4zM838,927h4v1h-4zM838,923h1v5h-1zM841,923h1v5h-1zM835,930h4v1h-4zM835,933h4v1h-4zM835,930h1v4h-1zM838,930h1v4h-1zM842,930h4v1h-4zM842,933h4v1h-4zM842,930h1v4h-1zM845,930h1v4h-1zM831,937h5v1h-5zM831,940h5v1h-5zM838,937h4v1h-4zM838,941h4v1h-4zM838,937h1v5h-1zM841,937h1v5h-1zM835,944h4v1h-4zM835,947h4v1h-4zM835,944h1v4h-1zM838,944h1v4h-1zM842,944h4v1h-4zM842,947h4v1h-4zM842,944h1v4h-1zM845,944h1v4h-1zM831,950h5v1h-5zM831,953h5v1h-5zM838,950h4v1h-4zM838,954h4v1h-4zM838,950h1v5h-1zM841,950h1v5h-1zM835,957h4v1h-4zM835,960h4v1h-4zM835,957h1v4h-1zM838,957h1v4h-1zM842,957h4v1h-4zM842,960h4v1h-4zM842,957h1v4h-1zM845,957h1v4h-1zM831,964h5v1h-5zM831,966h5v1h-5zM838,963h4v1h-4zM838,967h4v1h-4zM838,963h1v5h-1zM841,963h1v5h-1zM835,970h4v1h-4zM835,973h4v1h-4zM835,970h1v4h-1zM838,970h1v4h-1zM842,970h4v1h-4zM842,973h4v1h-4zM842,970h1v4h-1zM845,970h1v4h-1zM831,977h5v1h-5zM831,980h5v1h-5zM838,977h4v1h-4zM838,981h4v1h-4zM838,977h1v5h-1zM841,977h1v5h-1zM835,984h4v1h-4zM835,987h4v1h-4zM835,984h1v4h-1zM838,984h1v4h-1zM842,984h4v1h-4zM842,987h4v1h-4zM842,984h1v4h-1zM845,984h1v4h-1zM831,990h5v1h-5zM831,993h5v1h-5zM838,990h4v1h-4zM838,994h4v1h-4zM838,990h1v5h-1zM841,990h1v5h-1zM835,997h4v1h-4zM835,1000h4v1h-4zM835,997h1v4h-1zM838,997h1v4h-1zM842,997h4v1h-4zM842,1000h4v1h-4zM842,997h1v4h-1zM845,997h1v4h-1zM831,1004h5v1h-5zM831,1006h5v1h-5zM838,1003h4v1h-4zM838,1007h4v1h-4zM838,1003h1v5h-1zM841,1003h1v5h-1zM835,1010h4v1h-4zM835,1013h4v1h-4zM835,1010h1v4h-1zM838,1010h1v4h-1zM842,1010h4v1h-4zM842,1013h4v1h-4zM842,1010h1v4h-1zM845,1010h1v4h-1zM831,1017h5v1h-5zM831,1020h5v1h-5zM838,1017h4v1h-4zM838,1021h4v1h-4zM838,1017h1v5h-1zM841,1017h1v5h-1zM835,1024h4v1h-4zM835,1027h4v1h-4zM835,1024h1v4h-1zM838,1024h1v4h-1zM842,1024h4v1h-4zM842,1027h4v1h-4zM842,1024h1v4h-1zM845,1024h1v4h-1zM831,1030h5v1h-5zM831,1033h5v1h-5zM838,1030h4v1h-4zM838,1034h4v1h-4zM838,1030h1v5h-1zM841,1030h1v5h-1zM835,1037h4v1h-4zM835,1040h4v1h-4zM835,1037h1v4h-1zM838,1037h1v4h-1zM842,1037h4v1h-4zM842,1040h4v1h-4zM842,1037h1v4h-1zM845,1037h1v4h-1zM831,1044h5v1h-5zM831,1046h5v1h-5zM838,1043h4v1h-4zM838,1047h4v1h-4zM838,1043h1v5h-1zM841,1043h1v5h-1zM835,1050h4v1h-4zM835,1053h4v1h-4zM835,1050h1v4h-1zM838,1050h1v4h-1zM842,1050h4v1h-4zM842,1053h4v1h-4zM842,1050h1v4h-1zM845,1050h1v4h-1zM831,1057h5v1h-5zM831,1060h5v1h-5zM838,1057h4v1h-4zM838,1061h4v1h-4zM838,1057h1v5h-1zM841,1057h1v5h-1zM835,1064h4v1h-4zM835,1067h4v1h-4zM835,1064h1v4h-1zM838,1064h1v4h-1zM842,1064h4v1h-4zM842,1067h4v1h-4zM842,1064h1v4h-1zM845,1064h1v4h-1zM831,1070h5v1h-5zM831,1073h5v1h-5zM838,1070h4v1h-4zM838,1074h4v1h-4zM838,1070h1v5h-1zM841,1070h1v5h-1zM835,1077h4v1h-4zM835,1080h4v1h-4zM835,1077h1v4h-1zM838,1077h1v4h-1zM842,1077h4v1h-4zM842,1080h4v1h-4zM842,1077h1v4h-1zM845,1077h1v4h-1zM831,1084h5v1h-5zM831,1086h5v1h-5zM838,1083h4v1h-4zM838,1087h4v1h-4zM838,1083h1v5h-1zM841,1083h1v5h-1zM835,1090h4v1h-4zM835,1093h4v1h-4zM835,1090h1v4h-1zM838,1090h1v4h-1zM842,1090h4v1h-4zM842,1093h4v1h-4zM842,1090h1v4h-1zM845,1090h1v4h-1zM831,1097h5v1h-5zM831,1100h5v1h-5zM838,1097h4v1h-4zM838,1101h4v1h-4zM838,1097h1v5h-1zM841,1097h1v5h-1zM835,1104h4v1h-4zM835,1107h4v1h-4zM835,1104h1v4h-1zM838,1104h1v4h-1zM842,1104h4v1h-4zM842,1107h4v1h-4zM842,1104h1v4h-1zM845,1104h1v4h-1zM831,1110h5v1h-5zM831,1113h5v1h-5zM838,1110h4v1h-4zM838,1114h4v1h-4zM838,1110h1v5h-1zM841,1110h1v5h-1zM835,1117h4v1h-4zM835,1120h4v1h-4zM835,1117h1v4h-1zM838,1117h1v4h-1zM842,1117h4v1h-4zM842,1120h4v1h-4zM842,1117h1v4h-1zM845,1117h1v4h-1zM831,1124h5v1h-5zM831,1126h5v1h-5zM838,1123h4v1h-4zM838,1127h4v1h-4zM838,1123h1v5h-1zM841,1123h1v5h-1zM835,1130h4v1h-4zM835,1133h4v1h-4zM835,1130h1v4h-1zM838,1130h1v4h-1zM842,1130h4v1h-4zM842,1133h4v1h-4zM842,1130h1v4h-1zM845,1130h1v4h-1zM831,1137h5v1h-5zM831,1140h5v1h-5zM838,1137h4v1h-4zM838,1141h4v1h-4zM838,1137h1v5h-1zM841,1137h1v5h-1zM835,1144h4v1h-4zM835,1147h4v1h-4zM835,1144h1v4h-1zM838,1144h1v4h-1zM842,1144h4v1h-4zM842,1147h4v1h-4zM842,1144h1v4h-1zM845,1144h1v4h-1zM831,1150h5v1h-5zM831,1153h5v1h-5zM838,1150h4v1h-4zM838,1154h4v1h-4zM838,1150h1v5h-1zM841,1150h1v5h-1zM835,1157h4v1h-4zM835,1160h4v1h-4zM835,1157h1v4h-1zM838,1157h1v4h-1zM842,1157h4v1h-4zM842,1160h4v1h-4zM842,1157h1v4h-1zM845,1157h1v4h-1zM831,1164h5v1h-5zM831,1166h5v1h-5zM838,1163h4v1h-4zM838,1167h4v1h-4zM838,1163h1v5h-1zM841,1163h1v5h-1zM835,1170h4v1h-4zM835,1173h4v1h-4zM835,1170h1v4h-1zM838,1170h1v4h-1zM842,1170h4v1h-4zM842,1173h4v1h-4zM842,1170h1v4h-1zM845,1170h1v4h-1zM831,1177h5v1h-5zM831,1180h5v1h-5zM838,1177h4v1h-4zM838,1181h4v1h-4zM838,1177h1v5h-1zM841,1177h1v5h-1zM835,1184h4v1h-4zM835,1187h4v1h-4zM835,1184h1v4h-1zM838,1184h1v4h-1zM842,1184h4v1h-4zM842,1187h4v1h-4zM842,1184h1v4h-1zM845,1184h1v4h-1zM831,1190h5v1h-5zM831,1193h5v1h-5zM838,1190h4v1h-4zM838,1194h4v1h-4zM838,1190h1v5h-1zM841,1190h1v5h-1zM835,1197h4v1h-4zM835,1200h4v1h-4zM835,1197h1v4h-1zM838,1197h1v4h-1zM842,1197h4v1h-4zM842,1200h4v1h-4zM842,1197h1v4h-1zM845,1197h1v4h-1zM831,1204h5v1h-5zM831,1206h5v1h-5zM838,1203h4v1h-4zM838,1207h4v1h-4zM838,1203h1v5h-1zM841,1203h1v5h-1zM835,1210h4v1h-4zM835,1213h4v1h-4zM835,1210h1v4h-1zM838,1210h1v4h-1zM842,1210h4v1h-4zM842,1213h4v1h-4zM842,1210h1v4h-1zM845,1210h1v4h-1zM831,1217h5v1h-5zM831,1220h5v1h-5zM838,1217h4v1h-4zM838,1221h4v1h-4zM838,1217h1v5h-1zM841,1217h1v5h-1zM835,1224h4v1h-4zM835,1227h4v1h-4zM835,1224h1v4h-1zM838,1224h1v4h-1zM842,1224h4v1h-4zM842,1227h4v1h-4zM842,1224h1v4h-1zM845,1224h1v4h-1zM831,1230h5v1h-5zM831,1233h5v1h-5zM838,1230h4v1h-4zM838,1234h4v1h-4zM838,1230h1v5h-1zM841,1230h1v5h-1zM835,1237h4v1h-4zM835,1240h4v1h-4zM835,1237h1v4h-1zM838,1237h1v4h-1zM842,1237h4v1h-4zM842,1240h4v1h-4zM842,1237h1v4h-1zM845,1237h1v4h-1zM831,1244h5v1h-5zM831,1246h5v1h-5zM838,1243h4v1h-4zM838,1247h4v1h-4zM838,1243h1v5h-1zM841,1243h1v5h-1zM835,1250h4v1h-4zM835,1253h4v1h-4zM835,1250h1v4h-1zM838,1250h1v4h-1zM842,1250h4v1h-4zM842,1253h4v1h-4zM842,1250h1v4h-1zM845,1250h1v4h-1zM831,1257h5v1h-5zM831,1260h5v1h-5zM838,1257h4v1h-4zM838,1261h4v1h-4zM838,1257h1v5h-1zM841,1257h1v5h-1zM835,1264h4v1h-4zM835,1267h4v1h-4zM835,1264h1v4h-1zM838,1264h1v4h-1zM842,1264h4v1h-4zM842,1267h4v1h-4zM842,1264h1v4h-1zM845,1264h1v4h-1zM831,1270h5v1h-5zM831,1273h5v1h-5zM838,1270h4v1h-4zM838,1274h4v1h-4zM838,1270h1v5h-1zM841,1270h1v5h-1zM835,1277h4v1h-4zM835,1280h4v1h-4zM835,1277h1v4h-1zM838,1277h1v4h-1zM842,1277h4v1h-4zM842,1280h4v1h-4zM842,1277h1v4h-1zM845,1277h1v4h-1zM831,1284h5v1h-5zM831,1286h5v1h-5zM838,1283h4v1h-4zM838,1287h4v1h-4zM838,1283h1v5h-1zM841,1283h1v5h-1zM835,1290h4v1h-4zM835,1293h4v1h-4zM835,1290h1v4h-1zM838,1290h1v4h-1zM842,1290h4v1h-4zM842,1293h4v1h-4zM842,1290h1v4h-1zM845,1290h1v4h-1zM845,414h1v880h-1zM848,414h1v880h-1zM845,417h4v1h-4zM845,420h4v1h-4zM852,417h4v1h-4zM852,421h4v1h-4zM852,417h1v5h-1zM855,417h1v5h-1zM848,424h4v1h-4zM848,427h4v1h-4zM848,424h1v4h-1zM851,424h1v4h-1zM855,424h4v1h-4zM855,427h4v1h-4zM855,424h1v4h-1zM858,424h1v4h-1zM845,430h4v1h-4zM845,433h4v1h-4zM852,430h4v1h-4zM852,434h4v1h-4zM852,430h1v5h-1zM855,430h1v5h-1zM848,437h4v1h-4zM848,440h4v1h-4zM848,437h1v4h-1zM851,437h1v4h-1zM855,437h4v1h-4zM855,440h4v1h-4zM855,437h1v4h-1zM858,437h1v4h-1zM845,444h4v1h-4zM845,446h4v1h-4zM852,443h4v1h-4zM852,447h4v1h-4zM852,443h1v5h-1zM855,443h1v5h-1zM848,450h4v1h-4zM848,453h4v1h-4zM848,450h1v4h-1zM851,450h1v4h-1zM855,450h4v1h-4zM855,453h4v1h-4zM855,450h1v4h-1zM858,450h1v4h-1zM845,457h4v1h-4zM845,460h4v1h-4zM852,457h4v1h-4zM852,461h4v1h-4zM852,457h1v5h-1zM855,457h1v5h-1zM848,464h4v1h-4zM848,467h4v1h-4zM848,464h1v4h-1zM851,464h1v4h-1zM855,464h4v1h-4zM855,467h4v1h-4zM855,464h1v4h-1zM858,464h1v4h-1zM845,470h4v1h-4zM845,473h4v1h-4zM852,470h4v1h-4zM852,474h4v1h-4zM852,470h1v5h-1zM855,470h1v5h-1zM848,477h4v1h-4zM848,480h4v1h-4zM848,477h1v4h-1zM851,477h1v4h-1zM855,477h4v1h-4zM855,480h4v1h-4zM855,477h1v4h-1zM858,477h1v4h-1zM845,484h4v1h-4zM845,486h4v1h-4zM852,483h4v1h-4zM852,487h4v1h-4zM852,483h1v5h-1zM855,483h1v5h-1zM848,490h4v1h-4zM848,493h4v1h-4zM848,490h1v4h-1zM851,490h1v4h-1zM855,490h4v1h-4zM855,493h4v1h-4zM855,490h1v4h-1zM858,490h1v4h-1zM845,497h4v1h-4zM845,500h4v1h-4zM852,497h4v1h-4zM852,501h4v1h-4zM852,497h1v5h-1zM855,497h1v5h-1zM848,504h4v1h-4zM848,507h4v1h-4zM848,504h1v4h-1zM851,504h1v4h-1zM855,504h4v1h-4zM855,507h4v1h-4zM855,504h1v4h-1zM858,504h1v4h-1zM845,510h4v1h-4zM845,513h4v1h-4zM852,510h4v1h-4zM852,514h4v1h-4zM852,510h1v5h-1zM855,510h1v5h-1zM848,517h4v1h-4zM848,520h4v1h-4zM848,517h1v4h-1zM851,517h1v4h-1zM855,517h4v1h-4zM855,520h4v1h-4zM855,517h1v4h-1zM858,517h1v4h-1zM845,524h4v1h-4zM845,526h4v1h-4zM852,523h4v1h-4zM852,527h4v1h-4zM852,523h1v5h-1zM855,523h1v5h-1zM848,530h4v1h-4zM848,533h4v1h-4zM848,530h1v4h-1zM851,530h1v4h-1zM855,530h4v1h-4zM855,533h4v1h-4zM855,530h1v4h-1zM858,530h1v4h-1zM845,537h4v1h-4zM845,540h4v1h-4zM852,537h4v1h-4zM852,541h4v1h-4zM852,537h1v5h-1zM855,537h1v5h-1zM848,544h4v1h-4zM848,547h4v1h-4zM848,544h1v4h-1zM851,544h1v4h-1zM855,544h4v1h-4zM855,547h4v1h-4zM855,544h1v4h-1zM858,544h1v4h-1zM845,550h4v1h-4zM845,553h4v1h-4zM852,550h4v1h-4zM852,554h4v1h-4zM852,550h1v5h-1zM855,550h1v5h-1zM848,557h4v1h-4zM848,560h4v1h-4zM848,557h1v4h-1zM851,557h1v4h-1zM855,557h4v1h-4zM855,560h4v1h-4zM855,557h1v4h-1zM858,557h1v4h-1zM845,564h4v1h-4zM845,566h4v1h-4zM852,563h4v1h-4zM852,567h4v1h-4zM852,563h1v5h-1zM855,563h1v5h-1zM848,570h4v1h-4zM848,573h4v1h-4zM848,570h1v4h-1zM851,570h1v4h-1zM855,570h4v1h-4zM855,573h4v1h-4zM855,570h1v4h-1zM858,570h1v4h-1zM845,577h4v1h-4zM845,580h4v1h-4zM852,577h4v1h-4zM852,581h4v1h-4zM852,577h1v5h-1zM855,577h1v5h-1zM848,584h4v1h-4zM848,587h4v1h-4zM848,584h1v4h-1zM851,584h1v4h-1zM855,584h4v1h-4zM855,587h4v1h-4zM855,584h1v4h-1zM858,584h1v4h-1zM845,590h4v1h-4zM845,593h4v1h-4zM852,590h4v1h-4zM852,594h4v1h-4zM852,590h1v5h-1zM855,590h1v5h-1zM848,597h4v1h-4zM848,600h4v1h-4zM848,597h1v4h-1zM851,597h1v4h-1zM855,597h4v1h-4zM855,600h4v1h-4zM855,597h1v4h-1zM858,597h1v4h-1zM845,604h4v1h-4zM845,606h4v1h-4zM852,603h4v1h-4zM852,607h4v1h-4zM852,603h1v5h-1zM855,603h1v5h-1zM848,610h4v1h-4zM848,613h4v1h-4zM848,610h1v4h-1zM851,610h1v4h-1zM855,610h4v1h-4zM855,613h4v1h-4zM855,610h1v4h-1zM858,610h1v4h-1zM845,617h4v1h-4zM845,620h4v1h-4zM852,617h4v1h-4zM852,621h4v1h-4zM852,617h1v5h-1zM855,617h1v5h-1zM848,624h4v1h-4zM848,627h4v1h-4zM848,624h1v4h-1zM851,624h1v4h-1zM855,624h4v1h-4zM855,627h4v1h-4zM855,624h1v4h-1zM858,624h1v4h-1zM845,630h4v1h-4zM845,633h4v1h-4zM852,630h4v1h-4zM852,634h4v1h-4zM852,630h1v5h-1zM855,630h1v5h-1zM848,637h4v1h-4zM848,640h4v1h-4zM848,637h1v4h-1zM851,637h1v4h-1zM855,637h4v1h-4zM855,640h4v1h-4zM855,637h1v4h-1zM858,637h1v4h-1zM845,644h4v1h-4zM845,646h4v1h-4zM852,643h4v1h-4zM852,647h4v1h-4zM852,643h1v5h-1zM855,643h1v5h-1zM848,650h4v1h-4zM848,653h4v1h-4zM848,650h1v4h-1zM851,650h1v4h-1zM855,650h4v1h-4zM855,653h4v1h-4zM855,650h1v4h-1zM858,650h1v4h-1zM845,657h4v1h-4zM845,660h4v1h-4zM852,657h4v1h-4zM852,661h4v1h-4zM852,657h1v5h-1zM855,657h1v5h-1zM848,664h4v1h-4zM848,667h4v1h-4zM848,664h1v4h-1zM851,664h1v4h-1zM855,664h4v1h-4zM855,667h4v1h-4zM855,664h1v4h-1zM858,664h1v4h-1zM845,670h4v1h-4zM845,673h4v1h-4zM852,670h4v1h-4zM852,674h4v1h-4zM852,670h1v5h-1zM855,670h1v5h-1zM848,677h4v1h-4zM848,680h4v1h-4zM848,677h1v4h-1zM851,677h1v4h-1zM855,677h4v1h-4zM855,680h4v1h-4zM855,677h1v4h-1zM858,677h1v4h-1zM845,684h4v1h-4zM845,686h4v1h-4zM852,683h4v1h-4zM852,687h4v1h-4zM852,683h1v5h-1zM855,683h1v5h-1zM848,690h4v1h-4zM848,693h4v1h-4zM848,690h1v4h-1zM851,690h1v4h-1zM855,690h4v1h-4zM855,693h4v1h-4zM855,690h1v4h-1zM858,690h1v4h-1zM845,697h4v1h-4zM845,700h4v1h-4zM852,697h4v1h-4zM852,701h4v1h-4zM852,697h1v5h-1zM855,697h1v5h-1zM848,704h4v1h-4zM848,707h4v1h-4zM848,704h1v4h-1zM851,704h1v4h-1zM855,704h4v1h-4zM855,707h4v1h-4zM855,704h1v4h-1zM858,704h1v4h-1zM845,710h4v1h-4zM845,713h4v1h-4zM852,710h4v1h-4zM852,714h4v1h-4zM852,710h1v5h-1zM855,710h1v5h-1zM848,717h4v1h-4zM848,720h4v1h-4zM848,717h1v4h-1zM851,717h1v4h-1zM855,717h4v1h-4zM855,720h4v1h-4zM855,717h1v4h-1zM858,717h1v4h-1zM845,724h4v1h-4zM845,726h4v1h-4zM852,723h4v1h-4zM852,727h4v1h-4zM852,723h1v5h-1zM855,723h1v5h-1zM848,730h4v1h-4zM848,733h4v1h-4zM848,730h1v4h-1zM851,730h1v4h-1zM855,730h4v1h-4zM855,733h4v1h-4zM855,730h1v4h-1zM858,730h1v4h-1zM845,737h4v1h-4zM845,740h4v1h-4zM852,737h4v1h-4zM852,741h4v1h-4zM852,737h1v5h-1zM855,737h1v5h-1zM848,744h4v1h-4zM848,747h4v1h-4zM848,744h1v4h-1zM851,744h1v4h-1zM855,744h4v1h-4zM855,747h4v1h-4zM855,744h1v4h-1zM858,744h1v4h-1zM845,750h4v1h-4zM845,753h4v1h-4zM852,750h4v1h-4zM852,754h4v1h-4zM852,750h1v5h-1zM855,750h1v5h-1zM848,757h4v1h-4zM848,760h4v1h-4zM848,757h1v4h-1zM851,757h1v4h-1zM855,757h4v1h-4zM855,760h4v1h-4zM855,757h1v4h-1zM858,757h1v4h-1zM845,764h4v1h-4zM845,766h4v1h-4zM852,763h4v1h-4zM852,767h4v1h-4zM852,763h1v5h-1zM855,763h1v5h-1zM848,770h4v1h-4zM848,773h4v1h-4zM848,770h1v4h-1zM851,770h1v4h-1zM855,770h4v1h-4zM855,773h4v1h-4zM855,770h1v4h-1zM858,770h1v4h-1zM845,777h4v1h-4zM845,780h4v1h-4zM852,777h4v1h-4zM852,781h4v1h-4zM852,777h1v5h-1zM855,777h1v5h-1zM848,784h4v1h-4zM848,787h4v1h-4zM848,784h1v4h-1zM851,784h1v4h-1zM855,784h4v1h-4zM855,787h4v1h-4zM855,784h1v4h-1zM858,784h1v4h-1zM845,790h4v1h-4zM845,793h4v1h-4zM852,790h4v1h-4zM852,794h4v1h-4zM852,790h1v5h-1zM855,790h1v5h-1zM848,797h4v1h-4zM848,800h4v1h-4zM848,797h1v4h-1zM851,797h1v4h-1zM855,797h4v1h-4zM855,800h4v1h-4zM855,797h1v4h-1zM858,797h1v4h-1zM845,804h4v1h-4zM845,806h4v1h-4zM852,803h4v1h-4zM852,807h4v1h-4zM852,803h1v5h-1zM855,803h1v5h-1zM848,810h4v1h-4zM848,813h4v1h-4zM848,810h1v4h-1zM851,810h1v4h-1zM855,810h4v1h-4zM855,813h4v1h-4zM855,810h1v4h-1zM858,810h1v4h-1zM845,817h4v1h-4zM845,820h4v1h-4zM852,817h4v1h-4zM852,821h4v1h-4zM852,817h1v5h-1zM855,817h1v5h-1zM848,824h4v1h-4zM848,827h4v1h-4zM848,824h1v4h-1zM851,824h1v4h-1zM855,824h4v1h-4zM855,827h4v1h-4zM855,824h1v4h-1zM858,824h1v4h-1zM845,830h4v1h-4zM845,833h4v1h-4zM852,830h4v1h-4zM852,834h4v1h-4zM852,830h1v5h-1zM855,830h1v5h-1zM848,837h4v1h-4zM848,840h4v1h-4zM848,837h1v4h-1zM851,837h1v4h-1zM855,837h4v1h-4zM855,840h4v1h-4zM855,837h1v4h-1zM858,837h1v4h-1zM845,844h4v1h-4zM845,846h4v1h-4zM852,843h4v1h-4zM852,847h4v1h-4zM852,843h1v5h-1zM855,843h1v5h-1zM848,850h4v1h-4zM848,853h4v1h-4zM848,850h1v4h-1zM851,850h1v4h-1zM855,850h4v1h-4zM855,853h4v1h-4zM855,850h1v4h-1zM858,850h1v4h-1zM845,857h4v1h-4zM845,860h4v1h-4zM852,857h4v1h-4zM852,861h4v1h-4zM852,857h1v5h-1zM855,857h1v5h-1zM848,864h4v1h-4zM848,867h4v1h-4zM848,864h1v4h-1zM851,864h1v4h-1zM855,864h4v1h-4zM855,867h4v1h-4zM855,864h1v4h-1zM858,864h1v4h-1zM845,870h4v1h-4zM845,873h4v1h-4zM852,870h4v1h-4zM852,874h4v1h-4zM852,870h1v5h-1zM855,870h1v5h-1zM848,877h4v1h-4zM848,880h4v1h-4zM848,877h1v4h-1zM851,877h1v4h-1zM855,877h4v1h-4zM855,880h4v1h-4zM855,877h1v4h-1zM858,877h1v4h-1zM845,884h4v1h-4zM845,886h4v1h-4zM852,883h4v1h-4zM852,887h4v1h-4zM852,883h1v5h-1zM855,883h1v5h-1zM848,890h4v1h-4zM848,893h4v1h-4zM848,890h1v4h-1zM851,890h1v4h-1zM855,890h4v1h-4zM855,893h4v1h-4zM855,890h1v4h-1zM858,890h1v4h-1zM845,897h4v1h-4zM845,900h4v1h-4zM852,897h4v1h-4zM852,901h4v1h-4zM852,897h1v5h-1zM855,897h1v5h-1zM848,904h4v1h-4zM848,907h4v1h-4zM848,904h1v4h-1zM851,904h1v4h-1zM855,904h4v1h-4zM855,907h4v1h-4zM855,904h1v4h-1zM858,904h1v4h-1zM845,910h4v1h-4zM845,913h4v1h-4zM852,910h4v1h-4zM852,914h4v1h-4zM852,910h1v5h-1zM855,910h1v5h-1zM848,917h4v1h-4zM848,920h4v1h-4zM848,917h1v4h-1zM851,917h1v4h-1zM855,917h4v1h-4zM855,920h4v1h-4zM855,917h1v4h-1zM858,917h1v4h-1zM845,924h4v1h-4zM845,926h4v1h-4zM852,923h4v1h-4zM852,927h4v1h-4zM852,923h1v5h-1zM855,923h1v5h-1zM848,930h4v1h-4zM848,933h4v1h-4zM848,930h1v4h-1zM851,930h1v4h-1zM855,930h4v1h-4zM855,933h4v1h-4zM855,930h1v4h-1zM858,930h1v4h-1zM845,937h4v1h-4zM845,940h4v1h-4zM852,937h4v1h-4zM852,941h4v1h-4zM852,937h1v5h-1zM855,937h1v5h-1zM848,944h4v1h-4zM848,947h4v1h-4zM848,944h1v4h-1zM851,944h1v4h-1zM855,944h4v1h-4zM855,947h4v1h-4zM855,944h1v4h-1zM858,944h1v4h-1zM845,950h4v1h-4zM845,953h4v1h-4zM852,950h4v1h-4zM852,954h4v1h-4zM852,950h1v5h-1zM855,950h1v5h-1zM848,957h4v1h-4zM848,960h4v1h-4zM848,957h1v4h-1zM851,957h1v4h-1zM855,957h4v1h-4zM855,960h4v1h-4zM855,957h1v4h-1zM858,957h1v4h-1zM845,964h4v1h-4zM845,966h4v1h-4zM852,963h4v1h-4zM852,967h4v1h-4zM852,963h1v5h-1zM855,963h1v5h-1zM848,970h4v1h-4zM848,973h4v1h-4zM848,970h1v4h-1zM851,970h1v4h-1zM855,970h4v1h-4zM855,973h4v1h-4zM855,970h1v4h-1zM858,970h1v4h-1zM845,977h4v1h-4zM845,980h4v1h-4zM852,977h4v1h-4zM852,981h4v1h-4zM852,977h1v5h-1zM855,977h1v5h-1zM848,984h4v1h-4zM848,987h4v1h-4zM848,984h1v4h-1zM851,984h1v4h-1zM855,984h4v1h-4zM855,987h4v1h-4zM855,984h1v4h-1zM858,984h1v4h-1zM845,990h4v1h-4zM845,993h4v1h-4zM852,990h4v1h-4zM852,994h4v1h-4zM852,990h1v5h-1zM855,990h1v5h-1zM848,997h4v1h-4zM848,1000h4v1h-4zM848,997h1v4h-1zM851,997h1v4h-1zM855,997h4v1h-4zM855,1000h4v1h-4zM855,997h1v4h-1zM858,997h1v4h-1zM845,1004h4v1h-4zM845,1006h4v1h-4zM852,1003h4v1h-4zM852,1007h4v1h-4zM852,1003h1v5h-1zM855,1003h1v5h-1zM848,1010h4v1h-4zM848,1013h4v1h-4zM848,1010h1v4h-1zM851,1010h1v4h-1zM855,1010h4v1h-4zM855,1013h4v1h-4zM855,1010h1v4h-1zM858,1010h1v4h-1zM845,1017h4v1h-4zM845,1020h4v1h-4zM852,1017h4v1h-4zM852,1021h4v1h-4zM852,1017h1v5h-1zM855,1017h1v5h-1zM848,1024h4v1h-4zM848,1027h4v1h-4zM848,1024h1v4h-1zM851,1024h1v4h-1zM855,1024h4v1h-4zM855,1027h4v1h-4zM855,1024h1v4h-1zM858,1024h1v4h-1zM845,1030h4v1h-4zM845,1033h4v1h-4zM852,1030h4v1h-4zM852,1034h4v1h-4zM852,1030h1v5h-1zM855,1030h1v5h-1zM848,1037h4v1h-4zM848,1040h4v1h-4zM848,1037h1v4h-1zM851,1037h1v4h-1zM855,1037h4v1h-4zM855,1040h4v1h-4zM855,1037h1v4h-1zM858,1037h1v4h-1zM845,1044h4v1h-4zM845,1046h4v1h-4zM852,1043h4v1h-4zM852,1047h4v1h-4zM852,1043h1v5h-1zM855,1043h1v5h-1zM848,1050h4v1h-4zM848,1053h4v1h-4zM848,1050h1v4h-1zM851,1050h1v4h-1zM855,1050h4v1h-4zM855,1053h4v1h-4zM855,1050h1v4h-1zM858,1050h1v4h-1zM845,1057h4v1h-4zM845,1060h4v1h-4zM852,1057h4v1h-4zM852,1061h4v1h-4zM852,1057h1v5h-1zM855,1057h1v5h-1zM848,1064h4v1h-4zM848,1067h4v1h-4zM848,1064h1v4h-1zM851,1064h1v4h-1zM855,1064h4v1h-4zM855,1067h4v1h-4zM855,1064h1v4h-1zM858,1064h1v4h-1zM845,1070h4v1h-4zM845,1073h4v1h-4zM852,1070h4v1h-4zM852,1074h4v1h-4zM852,1070h1v5h-1zM855,1070h1v5h-1zM848,1077h4v1h-4zM848,1080h4v1h-4zM848,1077h1v4h-1zM851,1077h1v4h-1zM855,1077h4v1h-4zM855,1080h4v1h-4zM855,1077h1v4h-1zM858,1077h1v4h-1zM845,1084h4v1h-4zM845,1086h4v1h-4zM852,1083h4v1h-4zM852,1087h4v1h-4zM852,1083h1v5h-1zM855,1083h1v5h-1zM848,1090h4v1h-4zM848,1093h4v1h-4zM848,1090h1v4h-1zM851,1090h1v4h-1zM855,1090h4v1h-4zM855,1093h4v1h-4zM855,1090h1v4h-1zM858,1090h1v4h-1zM845,1097h4v1h-4zM845,1100h4v1h-4zM852,1097h4v1h-4zM852,1101h4v1h-4zM852,1097h1v5h-1zM855,1097h1v5h-1zM848,1104h4v1h-4zM848,1107h4v1h-4zM848,1104h1v4h-1zM851,1104h1v4h-1zM855,1104h4v1h-4zM855,1107h4v1h-4zM855,1104h1v4h-1zM858,1104h1v4h-1zM845,1110h4v1h-4zM845,1113h4v1h-4zM852,1110h4v1h-4zM852,1114h4v1h-4zM852,1110h1v5h-1zM855,1110h1v5h-1zM848,1117h4v1h-4zM848,1120h4v1h-4zM848,1117h1v4h-1zM851,1117h1v4h-1zM855,1117h4v1h-4zM855,1120h4v1h-4zM855,1117h1v4h-1zM858,1117h1v4h-1zM845,1124h4v1h-4zM845,1126h4v1h-4zM852,1123h4v1h-4zM852,1127h4v1h-4zM852,1123h1v5h-1zM855,1123h1v5h-1zM848,1130h4v1h-4zM848,1133h4v1h-4zM848,1130h1v4h-1zM851,1130h1v4h-1zM855,1130h4v1h-4zM855,1133h4v1h-4zM855,1130h1v4h-1zM858,1130h1v4h-1zM845,1137h4v1h-4zM845,1140h4v1h-4zM852,1137h4v1h-4zM852,1141h4v1h-4zM852,1137h1v5h-1zM855,1137h1v5h-1zM848,1144h4v1h-4zM848,1147h4v1h-4zM848,1144h1v4h-1zM851,1144h1v4h-1zM855,1144h4v1h-4zM855,1147h4v1h-4zM855,1144h1v4h-1zM858,1144h1v4h-1zM845,1150h4v1h-4zM845,1153h4v1h-4zM852,1150h4v1h-4zM852,1154h4v1h-4zM852,1150h1v5h-1zM855,1150h1v5h-1zM848,1157h4v1h-4zM848,1160h4v1h-4zM848,1157h1v4h-1zM851,1157h1v4h-1zM855,1157h4v1h-4zM855,1160h4v1h-4zM855,1157h1v4h-1zM858,1157h1v4h-1zM845,1164h4v1h-4zM845,1166h4v1h-4zM852,1163h4v1h-4zM852,1167h4v1h-4zM852,1163h1v5h-1zM855,1163h1v5h-1zM848,1170h4v1h-4zM848,1173h4v1h-4zM848,1170h1v4h-1zM851,1170h1v4h-1zM855,1170h4v1h-4zM855,1173h4v1h-4zM855,1170h1v4h-1zM858,1170h1v4h-1zM845,1177h4v1h-4zM845,1180h4v1h-4zM852,1177h4v1h-4zM852,1181h4v1h-4zM852,1177h1v5h-1zM855,1177h1v5h-1zM848,1184h4v1h-4zM848,1187h4v1h-4zM848,1184h1v4h-1zM851,1184h1v4h-1zM855,1184h4v1h-4zM855,1187h4v1h-4zM855,1184h1v4h-1zM858,1184h1v4h-1zM845,1190h4v1h-4zM845,1193h4v1h-4zM852,1190h4v1h-4zM852,1194h4v1h-4zM852,1190h1v5h-1zM855,1190h1v5h-1zM848,1197h4v1h-4zM848,1200h4v1h-4zM848,1197h1v4h-1zM851,1197h1v4h-1zM855,1197h4v1h-4zM855,1200h4v1h-4zM855,1197h1v4h-1zM858,1197h1v4h-1zM845,1204h4v1h-4zM845,1206h4v1h-4zM852,1203h4v1h-4zM852,1207h4v1h-4zM852,1203h1v5h-1zM855,1203h1v5h-1zM848,1210h4v1h-4zM848,1213h4v1h-4zM848,1210h1v4h-1zM851,1210h1v4h-1zM855,1210h4v1h-4zM855,1213h4v1h-4zM855,1210h1v4h-1zM858,1210h1v4h-1zM845,1217h4v1h-4zM845,1220h4v1h-4zM852,1217h4v1h-4zM852,1221h4v1h-4zM852,1217h1v5h-1zM855,1217h1v5h-1zM848,1224h4v1h-4zM848,1227h4v1h-4zM848,1224h1v4h-1zM851,1224h1v4h-1zM855,1224h4v1h-4zM855,1227h4v1h-4zM855,1224h1v4h-1zM858,1224h1v4h-1zM845,1230h4v1h-4zM845,1233h4v1h-4zM852,1230h4v1h-4zM852,1234h4v1h-4zM852,1230h1v5h-1zM855,1230h1v5h-1zM848,1237h4v1h-4zM848,1240h4v1h-4zM848,1237h1v4h-1zM851,1237h1v4h-1zM855,1237h4v1h-4zM855,1240h4v1h-4zM855,1237h1v4h-1zM858,1237h1v4h-1zM845,1244h4v1h-4zM845,1246h4v1h-4zM852,1243h4v1h-4zM852,1247h4v1h-4zM852,1243h1v5h-1zM855,1243h1v5h-1zM848,1250h4v1h-4zM848,1253h4v1h-4zM848,1250h1v4h-1zM851,1250h1v4h-1zM855,1250h4v1h-4zM855,1253h4v1h-4zM855,1250h1v4h-1zM858,1250h1v4h-1zM845,1257h4v1h-4zM845,1260h4v1h-4zM852,1257h4v1h-4zM852,1261h4v1h-4zM852,1257h1v5h-1zM855,1257h1v5h-1zM848,1264h4v1h-4zM848,1267h4v1h-4zM848,1264h1v4h-1zM851,1264h1v4h-1zM855,1264h4v1h-4zM855,1267h4v1h-4zM855,1264h1v4h-1zM858,1264h1v4h-1zM845,1270h4v1h-4zM845,1273h4v1h-4zM852,1270h4v1h-4zM852,1274h4v1h-4zM852,1270h1v5h-1zM855,1270h1v5h-1zM848,1277h4v1h-4zM848,1280h4v1h-4zM848,1277h1v4h-1zM851,1277h1v4h-1zM855,1277h4v1h-4zM855,1280h4v1h-4zM855,1277h1v4h-1zM858,1277h1v4h-1zM845,1284h4v1h-4zM845,1286h4v1h-4zM852,1283h4v1h-4zM852,1287h4v1h-4zM852,1283h1v5h-1zM855,1283h1v5h-1zM848,1290h4v1h-4zM848,1293h4v1h-4zM848,1290h1v4h-1zM851,1290h1v4h-1zM855,1290h4v1h-4zM855,1293h4v1h-4zM855,1290h1v4h-1zM858,1290h1v4h-1zM858,414h1v880h-1zM861,414h1v880h-1zM858,417h4v1h-4zM858,420h4v1h-4zM865,417h4v1h-4zM865,421h4v1h-4zM865,417h1v5h-1zM868,417h1v5h-1zM861,424h4v1h-4zM861,427h4v1h-4zM861,424h1v4h-1zM864,424h1v4h-1zM868,424h4v1h-4zM868,427h4v1h-4zM868,424h1v4h-1zM871,424h1v4h-1zM858,430h4v1h-4zM858,433h4v1h-4zM865,430h4v1h-4zM865,434h4v1h-4zM865,430h1v5h-1zM868,430h1v5h-1zM861,437h4v1h-4zM861,440h4v1h-4zM861,437h1v4h-1zM864,437h1v4h-1zM868,437h4v1h-4zM868,440h4v1h-4zM868,437h1v4h-1zM871,437h1v4h-1zM858,444h4v1h-4zM858,446h4v1h-4zM865,443h4v1h-4zM865,447h4v1h-4zM865,443h1v5h-1zM868,443h1v5h-1zM861,450h4v1h-4zM861,453h4v1h-4zM861,450h1v4h-1zM864,450h1v4h-1zM868,450h4v1h-4zM868,453h4v1h-4zM868,450h1v4h-1zM871,450h1v4h-1zM858,457h4v1h-4zM858,460h4v1h-4zM865,457h4v1h-4zM865,461h4v1h-4zM865,457h1v5h-1zM868,457h1v5h-1zM861,464h4v1h-4zM861,467h4v1h-4zM861,464h1v4h-1zM864,464h1v4h-1zM868,464h4v1h-4zM868,467h4v1h-4zM868,464h1v4h-1zM871,464h1v4h-1zM858,470h4v1h-4zM858,473h4v1h-4zM865,470h4v1h-4zM865,474h4v1h-4zM865,470h1v5h-1zM868,470h1v5h-1zM861,477h4v1h-4zM861,480h4v1h-4zM861,477h1v4h-1zM864,477h1v4h-1zM868,477h4v1h-4zM868,480h4v1h-4zM868,477h1v4h-1zM871,477h1v4h-1zM858,484h4v1h-4zM858,486h4v1h-4zM865,483h4v1h-4zM865,487h4v1h-4zM865,483h1v5h-1zM868,483h1v5h-1zM861,490h4v1h-4zM861,493h4v1h-4zM861,490h1v4h-1zM864,490h1v4h-1zM868,490h4v1h-4zM868,493h4v1h-4zM868,490h1v4h-1zM871,490h1v4h-1zM858,497h4v1h-4zM858,500h4v1h-4zM865,497h4v1h-4zM865,501h4v1h-4zM865,497h1v5h-1zM868,497h1v5h-1zM861,504h4v1h-4zM861,507h4v1h-4zM861,504h1v4h-1zM864,504h1v4h-1zM868,504h4v1h-4zM868,507h4v1h-4zM868,504h1v4h-1zM871,504h1v4h-1zM858,510h4v1h-4zM858,513h4v1h-4zM865,510h4v1h-4zM865,514h4v1h-4zM865,510h1v5h-1zM868,510h1v5h-1zM861,517h4v1h-4zM861,520h4v1h-4zM861,517h1v4h-1zM864,517h1v4h-1zM868,517h4v1h-4zM868,520h4v1h-4zM868,517h1v4h-1zM871,517h1v4h-1zM858,524h4v1h-4zM858,526h4v1h-4zM865,523h4v1h-4zM865,527h4v1h-4zM865,523h1v5h-1zM868,523h1v5h-1zM861,530h4v1h-4zM861,533h4v1h-4zM861,530h1v4h-1zM864,530h1v4h-1zM868,530h4v1h-4zM868,533h4v1h-4zM868,530h1v4h-1zM871,530h1v4h-1zM858,537h4v1h-4zM858,540h4v1h-4zM865,537h4v1h-4zM865,541h4v1h-4zM865,537h1v5h-1zM868,537h1v5h-1zM861,544h4v1h-4zM861,547h4v1h-4zM861,544h1v4h-1zM864,544h1v4h-1zM868,544h4v1h-4zM868,547h4v1h-4zM868,544h1v4h-1zM871,544h1v4h-1zM858,550h4v1h-4zM858,553h4v1h-4zM865,550h4v1h-4zM865,554h4v1h-4zM865,550h1v5h-1zM868,550h1v5h-1zM861,557h4v1h-4zM861,560h4v1h-4zM861,557h1v4h-1zM864,557h1v4h-1zM868,557h4v1h-4zM868,560h4v1h-4zM868,557h1v4h-1zM871,557h1v4h-1zM858,564h4v1h-4zM858,566h4v1h-4zM865,563h4v1h-4zM865,567h4v1h-4zM865,563h1v5h-1zM868,563h1v5h-1zM861,570h4v1h-4zM861,573h4v1h-4zM861,570h1v4h-1zM864,570h1v4h-1zM868,570h4v1h-4zM868,573h4v1h-4zM868,570h1v4h-1zM871,570h1v4h-1zM858,577h4v1h-4zM858,580h4v1h-4zM865,577h4v1h-4zM865,581h4v1h-4zM865,577h1v5h-1zM868,577h1v5h-1zM861,584h4v1h-4zM861,587h4v1h-4zM861,584h1v4h-1zM864,584h1v4h-1zM868,584h4v1h-4zM868,587h4v1h-4zM868,584h1v4h-1zM871,584h1v4h-1zM858,590h4v1h-4zM858,593h4v1h-4zM865,590h4v1h-4zM865,594h4v1h-4zM865,590h1v5h-1zM868,590h1v5h-1zM861,597h4v1h-4zM861,600h4v1h-4zM861,597h1v4h-1zM864,597h1v4h-1zM868,597h4v1h-4zM868,600h4v1h-4zM868,597h1v4h-1zM871,597h1v4h-1zM858,604h4v1h-4zM858,606h4v1h-4zM865,603h4v1h-4zM865,607h4v1h-4zM865,603h1v5h-1zM868,603h1v5h-1zM861,610h4v1h-4zM861,613h4v1h-4zM861,610h1v4h-1zM864,610h1v4h-1zM868,610h4v1h-4zM868,613h4v1h-4zM868,610h1v4h-1zM871,610h1v4h-1zM858,617h4v1h-4zM858,620h4v1h-4zM865,617h4v1h-4zM865,621h4v1h-4zM865,617h1v5h-1zM868,617h1v5h-1zM861,624h4v1h-4zM861,627h4v1h-4zM861,624h1v4h-1zM864,624h1v4h-1zM868,624h4v1h-4zM868,627h4v1h-4zM868,624h1v4h-1zM871,624h1v4h-1zM858,630h4v1h-4zM858,633h4v1h-4zM865,630h4v1h-4zM865,634h4v1h-4zM865,630h1v5h-1zM868,630h1v5h-1zM861,637h4v1h-4zM861,640h4v1h-4zM861,637h1v4h-1zM864,637h1v4h-1zM868,637h4v1h-4zM868,640h4v1h-4zM868,637h1v4h-1zM871,637h1v4h-1zM858,644h4v1h-4zM858,646h4v1h-4zM865,643h4v1h-4zM865,647h4v1h-4zM865,643h1v5h-1zM868,643h1v5h-1zM861,650h4v1h-4zM861,653h4v1h-4zM861,650h1v4h-1zM864,650h1v4h-1zM868,650h4v1h-4zM868,653h4v1h-4zM868,650h1v4h-1zM871,650h1v4h-1zM858,657h4v1h-4zM858,660h4v1h-4zM865,657h4v1h-4zM865,661h4v1h-4zM865,657h1v5h-1zM868,657h1v5h-1zM861,664h4v1h-4zM861,667h4v1h-4zM861,664h1v4h-1zM864,664h1v4h-1zM868,664h4v1h-4zM868,667h4v1h-4zM868,664h1v4h-1zM871,664h1v4h-1zM858,670h4v1h-4zM858,673h4v1h-4zM865,670h4v1h-4zM865,674h4v1h-4zM865,670h1v5h-1zM868,670h1v5h-1zM861,677h4v1h-4zM861,680h4v1h-4zM861,677h1v4h-1zM864,677h1v4h-1zM868,677h4v1h-4zM868,680h4v1h-4zM868,677h1v4h-1zM871,677h1v4h-1zM858,684h4v1h-4zM858,686h4v1h-4zM865,683h4v1h-4zM865,687h4v1h-4zM865,683h1v5h-1zM868,683h1v5h-1zM861,690h4v1h-4zM861,693h4v1h-4zM861,690h1v4h-1zM864,690h1v4h-1zM868,690h4v1h-4zM868,693h4v1h-4zM868,690h1v4h-1zM871,690h1v4h-1zM858,697h4v1h-4zM858,700h4v1h-4zM865,697h4v1h-4zM865,701h4v1h-4zM865,697h1v5h-1zM868,697h1v5h-1zM861,704h4v1h-4zM861,707h4v1h-4zM861,704h1v4h-1zM864,704h1v4h-1zM868,704h4v1h-4zM868,707h4v1h-4zM868,704h1v4h-1zM871,704h1v4h-1zM858,710h4v1h-4zM858,713h4v1h-4zM865,710h4v1h-4zM865,714h4v1h-4zM865,710h1v5h-1zM868,710h1v5h-1zM861,717h4v1h-4zM861,720h4v1h-4zM861,717h1v4h-1zM864,717h1v4h-1zM868,717h4v1h-4zM868,720h4v1h-4zM868,717h1v4h-1zM871,717h1v4h-1zM858,724h4v1h-4zM858,726h4v1h-4zM865,723h4v1h-4zM865,727h4v1h-4zM865,723h1v5h-1zM868,723h1v5h-1zM861,730h4v1h-4zM861,733h4v1h-4zM861,730h1v4h-1zM864,730h1v4h-1zM868,730h4v1h-4zM868,733h4v1h-4zM868,730h1v4h-1zM871,730h1v4h-1zM858,737h4v1h-4zM858,740h4v1h-4zM865,737h4v1h-4zM865,741h4v1h-4zM865,737h1v5h-1zM868,737h1v5h-1zM861,744h4v1h-4zM861,747h4v1h-4zM861,744h1v4h-1zM864,744h1v4h-1zM868,744h4v1h-4zM868,747h4v1h-4zM868,744h1v4h-1zM871,744h1v4h-1zM858,750h4v1h-4zM858,753h4v1h-4zM865,750h4v1h-4zM865,754h4v1h-4zM865,750h1v5h-1zM868,750h1v5h-1zM861,757h4v1h-4zM861,760h4v1h-4zM861,757h1v4h-1zM864,757h1v4h-1zM868,757h4v1h-4zM868,760h4v1h-4zM868,757h1v4h-1zM871,757h1v4h-1zM858,764h4v1h-4zM858,766h4v1h-4zM865,763h4v1h-4zM865,767h4v1h-4zM865,763h1v5h-1zM868,763h1v5h-1zM861,770h4v1h-4zM861,773h4v1h-4zM861,770h1v4h-1zM864,770h1v4h-1zM868,770h4v1h-4zM868,773h4v1h-4zM868,770h1v4h-1zM871,770h1v4h-1zM858,777h4v1h-4zM858,780h4v1h-4zM865,777h4v1h-4zM865,781h4v1h-4zM865,777h1v5h-1zM868,777h1v5h-1zM861,784h4v1h-4zM861,787h4v1h-4zM861,784h1v4h-1zM864,784h1v4h-1zM868,784h4v1h-4zM868,787h4v1h-4zM868,784h1v4h-1zM871,784h1v4h-1zM858,790h4v1h-4zM858,793h4v1h-4zM865,790h4v1h-4zM865,794h4v1h-4zM865,790h1v5h-1zM868,790h1v5h-1zM861,797h4v1h-4zM861,800h4v1h-4zM861,797h1v4h-1zM864,797h1v4h-1zM868,797h4v1h-4zM868,800h4v1h-4zM868,797h1v4h-1zM871,797h1v4h-1zM858,804h4v1h-4zM858,806h4v1h-4zM865,803h4v1h-4zM865,807h4v1h-4zM865,803h1v5h-1zM868,803h1v5h-1zM861,810h4v1h-4zM861,813h4v1h-4zM861,810h1v4h-1zM864,810h1v4h-1zM868,810h4v1h-4zM868,813h4v1h-4zM868,810h1v4h-1zM871,810h1v4h-1zM858,817h4v1h-4zM858,820h4v1h-4zM865,817h4v1h-4zM865,821h4v1h-4zM865,817h1v5h-1zM868,817h1v5h-1zM861,824h4v1h-4zM861,827h4v1h-4zM861,824h1v4h-1zM864,824h1v4h-1zM868,824h4v1h-4zM868,827h4v1h-4zM868,824h1v4h-1zM871,824h1v4h-1zM858,830h4v1h-4zM858,833h4v1h-4zM865,830h4v1h-4zM865,834h4v1h-4zM865,830h1v5h-1zM868,830h1v5h-1zM861,837h4v1h-4zM861,840h4v1h-4zM861,837h1v4h-1zM864,837h1v4h-1zM868,837h4v1h-4zM868,840h4v1h-4zM868,837h1v4h-1zM871,837h1v4h-1zM858,844h4v1h-4zM858,846h4v1h-4zM865,843h4v1h-4zM865,847h4v1h-4zM865,843h1v5h-1zM868,843h1v5h-1zM861,850h4v1h-4zM861,853h4v1h-4zM861,850h1v4h-1zM864,850h1v4h-1zM868,850h4v1h-4zM868,853h4v1h-4zM868,850h1v4h-1zM871,850h1v4h-1zM858,857h4v1h-4zM858,860h4v1h-4zM865,857h4v1h-4zM865,861h4v1h-4zM865,857h1v5h-1zM868,857h1v5h-1zM861,864h4v1h-4zM861,867h4v1h-4zM861,864h1v4h-1zM864,864h1v4h-1zM868,864h4v1h-4zM868,867h4v1h-4zM868,864h1v4h-1zM871,864h1v4h-1zM858,870h4v1h-4zM858,873h4v1h-4zM865,870h4v1h-4zM865,874h4v1h-4zM865,870h1v5h-1zM868,870h1v5h-1zM861,877h4v1h-4zM861,880h4v1h-4zM861,877h1v4h-1zM864,877h1v4h-1zM868,877h4v1h-4zM868,880h4v1h-4zM868,877h1v4h-1zM871,877h1v4h-1zM858,884h4v1h-4zM858,886h4v1h-4zM865,883h4v1h-4zM865,887h4v1h-4zM865,883h1v5h-1zM868,883h1v5h-1zM861,890h4v1h-4zM861,893h4v1h-4zM861,890h1v4h-1zM864,890h1v4h-1zM868,890h4v1h-4zM868,893h4v1h-4zM868,890h1v4h-1zM871,890h1v4h-1zM858,897h4v1h-4zM858,900h4v1h-4zM865,897h4v1h-4zM865,901h4v1h-4zM865,897h1v5h-1zM868,897h1v5h-1zM861,904h4v1h-4zM861,907h4v1h-4zM861,904h1v4h-1zM864,904h1v4h-1zM868,904h4v1h-4zM868,907h4v1h-4zM868,904h1v4h-1zM871,904h1v4h-1zM858,910h4v1h-4zM858,913h4v1h-4zM865,910h4v1h-4zM865,914h4v1h-4zM865,910h1v5h-1zM868,910h1v5h-1zM861,917h4v1h-4zM861,920h4v1h-4zM861,917h1v4h-1zM864,917h1v4h-1zM868,917h4v1h-4zM868,920h4v1h-4zM868,917h1v4h-1zM871,917h1v4h-1zM858,924h4v1h-4zM858,926h4v1h-4zM865,923h4v1h-4zM865,927h4v1h-4zM865,923h1v5h-1zM868,923h1v5h-1zM861,930h4v1h-4zM861,933h4v1h-4zM861,930h1v4h-1zM864,930h1v4h-1zM868,930h4v1h-4zM868,933h4v1h-4zM868,930h1v4h-1zM871,930h1v4h-1zM858,937h4v1h-4zM858,940h4v1h-4zM865,937h4v1h-4zM865,941h4v1h-4zM865,937h1v5h-1zM868,937h1v5h-1zM861,944h4v1h-4zM861,947h4v1h-4zM861,944h1v4h-1zM864,944h1v4h-1zM868,944h4v1h-4zM868,947h4v1h-4zM868,944h1v4h-1zM871,944h1v4h-1zM858,950h4v1h-4zM858,953h4v1h-4zM865,950h4v1h-4zM865,954h4v1h-4zM865,950h1v5h-1zM868,950h1v5h-1zM861,957h4v1h-4zM861,960h4v1h-4zM861,957h1v4h-1zM864,957h1v4h-1zM868,957h4v1h-4zM868,960h4v1h-4zM868,957h1v4h-1zM871,957h1v4h-1zM858,964h4v1h-4zM858,966h4v1h-4zM865,963h4v1h-4zM865,967h4v1h-4zM865,963h1v5h-1zM868,963h1v5h-1zM861,970h4v1h-4zM861,973h4v1h-4zM861,970h1v4h-1zM864,970h1v4h-1zM868,970h4v1h-4zM868,973h4v1h-4zM868,970h1v4h-1zM871,970h1v4h-1zM858,977h4v1h-4zM858,980h4v1h-4zM865,977h4v1h-4zM865,981h4v1h-4zM865,977h1v5h-1zM868,977h1v5h-1zM861,984h4v1h-4zM861,987h4v1h-4zM861,984h1v4h-1zM864,984h1v4h-1zM868,984h4v1h-4zM868,987h4v1h-4zM868,984h1v4h-1zM871,984h1v4h-1zM858,990h4v1h-4zM858,993h4v1h-4zM865,990h4v1h-4zM865,994h4v1h-4zM865,990h1v5h-1zM868,990h1v5h-1zM861,997h4v1h-4zM861,1000h4v1h-4zM861,997h1v4h-1zM864,997h1v4h-1zM868,997h4v1h-4zM868,1000h4v1h-4zM868,997h1v4h-1zM871,997h1v4h-1zM858,1004h4v1h-4zM858,1006h4v1h-4zM865,1003h4v1h-4zM865,1007h4v1h-4zM865,1003h1v5h-1zM868,1003h1v5h-1zM861,1010h4v1h-4zM861,1013h4v1h-4zM861,1010h1v4h-1zM864,1010h1v4h-1zM868,1010h4v1h-4zM868,1013h4v1h-4zM868,1010h1v4h-1zM871,1010h1v4h-1zM858,1017h4v1h-4zM858,1020h4v1h-4zM865,1017h4v1h-4zM865,1021h4v1h-4zM865,1017h1v5h-1zM868,1017h1v5h-1zM861,1024h4v1h-4zM861,1027h4v1h-4zM861,1024h1v4h-1zM864,1024h1v4h-1zM868,1024h4v1h-4zM868,1027h4v1h-4zM868,1024h1v4h-1zM871,1024h1v4h-1zM858,1030h4v1h-4zM858,1033h4v1h-4zM865,1030h4v1h-4zM865,1034h4v1h-4zM865,1030h1v5h-1zM868,1030h1v5h-1zM861,1037h4v1h-4zM861,1040h4v1h-4zM861,1037h1v4h-1zM864,1037h1v4h-1zM868,1037h4v1h-4zM868,1040h4v1h-4zM868,1037h1v4h-1zM871,1037h1v4h-1zM858,1044h4v1h-4zM858,1046h4v1h-4zM865,1043h4v1h-4zM865,1047h4v1h-4zM865,1043h1v5h-1zM868,1043h1v5h-1zM861,1050h4v1h-4zM861,1053h4v1h-4zM861,1050h1v4h-1zM864,1050h1v4h-1zM868,1050h4v1h-4zM868,1053h4v1h-4zM868,1050h1v4h-1zM871,1050h1v4h-1zM858,1057h4v1h-4zM858,1060h4v1h-4zM865,1057h4v1h-4zM865,1061h4v1h-4zM865,1057h1v5h-1zM868,1057h1v5h-1zM861,1064h4v1h-4zM861,1067h4v1h-4zM861,1064h1v4h-1zM864,1064h1v4h-1zM868,1064h4v1h-4zM868,1067h4v1h-4zM868,1064h1v4h-1zM871,1064h1v4h-1zM858,1070h4v1h-4zM858,1073h4v1h-4zM865,1070h4v1h-4zM865,1074h4v1h-4zM865,1070h1v5h-1zM868,1070h1v5h-1zM861,1077h4v1h-4zM861,1080h4v1h-4zM861,1077h1v4h-1zM864,1077h1v4h-1zM868,1077h4v1h-4zM868,1080h4v1h-4zM868,1077h1v4h-1zM871,1077h1v4h-1zM858,1084h4v1h-4zM858,1086h4v1h-4zM865,1083h4v1h-4zM865,1087h4v1h-4zM865,1083h1v5h-1zM868,1083h1v5h-1zM861,1090h4v1h-4zM861,1093h4v1h-4zM861,1090h1v4h-1zM864,1090h1v4h-1zM868,1090h4v1h-4zM868,1093h4v1h-4zM868,1090h1v4h-1zM871,1090h1v4h-1zM858,1097h4v1h-4zM858,1100h4v1h-4zM865,1097h4v1h-4zM865,1101h4v1h-4zM865,1097h1v5h-1zM868,1097h1v5h-1zM861,1104h4v1h-4zM861,1107h4v1h-4zM861,1104h1v4h-1zM864,1104h1v4h-1zM868,1104h4v1h-4zM868,1107h4v1h-4zM868,1104h1v4h-1zM871,1104h1v4h-1zM858,1110h4v1h-4zM858,1113h4v1h-4zM865,1110h4v1h-4zM865,1114h4v1h-4zM865,1110h1v5h-1zM868,1110h1v5h-1zM861,1117h4v1h-4zM861,1120h4v1h-4zM861,1117h1v4h-1zM864,1117h1v4h-1zM868,1117h4v1h-4zM868,1120h4v1h-4zM868,1117h1v4h-1zM871,1117h1v4h-1zM858,1124h4v1h-4zM858,1126h4v1h-4zM865,1123h4v1h-4zM865,1127h4v1h-4zM865,1123h1v5h-1zM868,1123h1v5h-1zM861,1130h4v1h-4zM861,1133h4v1h-4zM861,1130h1v4h-1zM864,1130h1v4h-1zM868,1130h4v1h-4zM868,1133h4v1h-4zM868,1130h1v4h-1zM871,1130h1v4h-1zM858,1137h4v1h-4zM858,1140h4v1h-4zM865,1137h4v1h-4zM865,1141h4v1h-4zM865,1137h1v5h-1zM868,1137h1v5h-1zM861,1144h4v1h-4zM861,1147h4v1h-4zM861,1144h1v4h-1zM864,1144h1v4h-1zM868,1144h4v1h-4zM868,1147h4v1h-4zM868,1144h1v4h-1zM871,1144h1v4h-1zM858,1150h4v1h-4zM858,1153h4v1h-4zM865,1150h4v1h-4zM865,1154h4v1h-4zM865,1150h1v5h-1zM868,1150h1v5h-1zM861,1157h4v1h-4zM861,1160h4v1h-4zM861,1157h1v4h-1zM864,1157h1v4h-1zM868,1157h4v1h-4zM868,1160h4v1h-4zM868,1157h1v4h-1zM871,1157h1v4h-1zM858,1164h4v1h-4zM858,1166h4v1h-4zM865,1163h4v1h-4zM865,1167h4v1h-4zM865,1163h1v5h-1zM868,1163h1v5h-1zM861,1170h4v1h-4zM861,1173h4v1h-4zM861,1170h1v4h-1zM864,1170h1v4h-1zM868,1170h4v1h-4zM868,1173h4v1h-4zM868,1170h1v4h-1zM871,1170h1v4h-1zM858,1177h4v1h-4zM858,1180h4v1h-4zM865,1177h4v1h-4zM865,1181h4v1h-4zM865,1177h1v5h-1zM868,1177h1v5h-1zM861,1184h4v1h-4zM861,1187h4v1h-4zM861,1184h1v4h-1zM864,1184h1v4h-1zM868,1184h4v1h-4zM868,1187h4v1h-4zM868,1184h1v4h-1zM871,1184h1v4h-1zM858,1190h4v1h-4zM858,1193h4v1h-4zM865,1190h4v1h-4zM865,1194h4v1h-4zM865,1190h1v5h-1zM868,1190h1v5h-1zM861,1197h4v1h-4zM861,1200h4v1h-4zM861,1197h1v4h-1zM864,1197h1v4h-1zM868,1197h4v1h-4zM868,1200h4v1h-4zM868,1197h1v4h-1zM871,1197h1v4h-1zM858,1204h4v1h-4zM858,1206h4v1h-4zM865,1203h4v1h-4zM865,1207h4v1h-4zM865,1203h1v5h-1zM868,1203h1v5h-1zM861,1210h4v1h-4zM861,1213h4v1h-4zM861,1210h1v4h-1zM864,1210h1v4h-1zM868,1210h4v1h-4zM868,1213h4v1h-4zM868,1210h1v4h-1zM871,1210h1v4h-1zM858,1217h4v1h-4zM858,1220h4v1h-4zM865,1217h4v1h-4zM865,1221h4v1h-4zM865,1217h1v5h-1zM868,1217h1v5h-1zM861,1224h4v1h-4zM861,1227h4v1h-4zM861,1224h1v4h-1zM864,1224h1v4h-1zM868,1224h4v1h-4zM868,1227h4v1h-4zM868,1224h1v4h-1zM871,1224h1v4h-1zM858,1230h4v1h-4zM858,1233h4v1h-4zM865,1230h4v1h-4zM865,1234h4v1h-4zM865,1230h1v5h-1zM868,1230h1v5h-1zM861,1237h4v1h-4zM861,1240h4v1h-4zM861,1237h1v4h-1zM864,1237h1v4h-1zM868,1237h4v1h-4zM868,1240h4v1h-4zM868,1237h1v4h-1zM871,1237h1v4h-1zM858,1244h4v1h-4zM858,1246h4v1h-4zM865,1243h4v1h-4zM865,1247h4v1h-4zM865,1243h1v5h-1zM868,1243h1v5h-1zM861,1250h4v1h-4zM861,1253h4v1h-4zM861,1250h1v4h-1zM864,1250h1v4h-1zM868,1250h4v1h-4zM868,1253h4v1h-4zM868,1250h1v4h-1zM871,1250h1v4h-1zM858,1257h4v1h-4zM858,1260h4v1h-4zM865,1257h4v1h-4zM865,1261h4v1h-4zM865,1257h1v5h-1zM868,1257h1v5h-1zM861,1264h4v1h-4zM861,1267h4v1h-4zM861,1264h1v4h-1zM864,1264h1v4h-1zM868,1264h4v1h-4zM868,1267h4v1h-4zM868,1264h1v4h-1zM871,1264h1v4h-1zM858,1270h4v1h-4zM858,1273h4v1h-4zM865,1270h4v1h-4zM865,1274h4v1h-4zM865,1270h1v5h-1zM868,1270h1v5h-1zM861,1277h4v1h-4zM861,1280h4v1h-4zM861,1277h1v4h-1zM864,1277h1v4h-1zM868,1277h4v1h-4zM868,1280h4v1h-4zM868,1277h1v4h-1zM871,1277h1v4h-1zM858,1284h4v1h-4zM858,1286h4v1h-4zM865,1283h4v1h-4zM865,1287h4v1h-4zM865,1283h1v5h-1zM868,1283h1v5h-1zM861,1290h4v1h-4zM861,1293h4v1h-4zM861,1290h1v4h-1zM864,1290h1v4h-1zM868,1290h4v1h-4zM868,1293h4v1h-4zM868,1290h1v4h-1zM871,1290h1v4h-1zM871,414h1v880h-1zM875,414h1v880h-1zM871,417h5v1h-5zM871,420h5v1h-5zM875,424h3v1h-3zM875,427h3v1h-3zM875,424h1v4h-1zM871,430h5v1h-5zM871,433h5v1h-5zM875,437h3v1h-3zM875,440h3v1h-3zM875,437h1v4h-1zM871,444h5v1h-5zM871,446h5v1h-5zM875,450h3v1h-3zM875,453h3v1h-3zM875,450h1v4h-1zM871,457h5v1h-5zM871,460h5v1h-5zM875,464h3v1h-3zM875,467h3v1h-3zM875,464h1v4h-1zM871,470h5v1h-5zM871,473h5v1h-5zM875,477h3v1h-3zM875,480h3v1h-3zM875,477h1v4h-1zM871,484h5v1h-5zM871,486h5v1h-5zM875,490h3v1h-3zM875,493h3v1h-3zM875,490h1v4h-1zM871,497h5v1h-5zM871,500h5v1h-5zM875,504h3v1h-3zM875,507h3v1h-3zM875,504h1v4h-1zM871,510h5v1h-5zM871,513h5v1h-5zM875,517h3v1h-3zM875,520h3v1h-3zM875,517h1v4h-1zM871,524h5v1h-5zM871,526h5v1h-5zM875,530h3v1h-3zM875,533h3v1h-3zM875,530h1v4h-1zM871,537h5v1h-5zM871,540h5v1h-5zM875,544h3v1h-3zM875,547h3v1h-3zM875,544h1v4h-1zM871,550h5v1h-5zM871,553h5v1h-5zM875,557h3v1h-3zM875,560h3v1h-3zM875,557h1v4h-1zM871,564h5v1h-5zM871,566h5v1h-5zM875,570h3v1h-3zM875,573h3v1h-3zM875,570h1v4h-1zM871,577h5v1h-5zM871,580h5v1h-5zM875,584h3v1h-3zM875,587h3v1h-3zM875,584h1v4h-1zM871,590h5v1h-5zM871,593h5v1h-5zM875,597h3v1h-3zM875,600h3v1h-3zM875,597h1v4h-1zM871,604h5v1h-5zM871,606h5v1h-5zM875,610h3v1h-3zM875,613h3v1h-3zM875,610h1v4h-1zM871,617h5v1h-5zM871,620h5v1h-5zM875,624h3v1h-3zM875,627h3v1h-3zM875,624h1v4h-1zM871,630h5v1h-5zM871,633h5v1h-5zM875,637h3v1h-3zM875,640h3v1h-3zM875,637h1v4h-1zM871,644h5v1h-5zM871,646h5v1h-5zM875,650h3v1h-3zM875,653h3v1h-3zM875,650h1v4h-1zM871,657h5v1h-5zM871,660h5v1h-5zM875,664h3v1h-3zM875,667h3v1h-3zM875,664h1v4h-1zM871,670h5v1h-5zM871,673h5v1h-5zM875,677h3v1h-3zM875,680h3v1h-3zM875,677h1v4h-1zM871,684h5v1h-5zM871,686h5v1h-5zM875,690h3v1h-3zM875,693h3v1h-3zM875,690h1v4h-1zM871,697h5v1h-5zM871,700h5v1h-5zM875,704h3v1h-3zM875,707h3v1h-3zM875,704h1v4h-1zM871,710h5v1h-5zM871,713h5v1h-5zM875,717h3v1h-3zM875,720h3v1h-3zM875,717h1v4h-1zM871,724h5v1h-5zM871,726h5v1h-5zM875,730h3v1h-3zM875,733h3v1h-3zM875,730h1v4h-1zM871,737h5v1h-5zM871,740h5v1h-5zM875,744h3v1h-3zM875,747h3v1h-3zM875,744h1v4h-1zM871,750h5v1h-5zM871,753h5v1h-5zM875,757h3v1h-3zM875,760h3v1h-3zM875,757h1v4h-1zM871,764h5v1h-5zM871,766h5v1h-5zM875,770h3v1h-3zM875,773h3v1h-3zM875,770h1v4h-1zM871,777h5v1h-5zM871,780h5v1h-5zM875,784h3v1h-3zM875,787h3v1h-3zM875,784h1v4h-1zM871,790h5v1h-5zM871,793h5v1h-5zM875,797h3v1h-3zM875,800h3v1h-3zM875,797h1v4h-1zM871,804h5v1h-5zM871,806h5v1h-5zM875,810h3v1h-3zM875,813h3v1h-3zM875,810h1v4h-1zM871,817h5v1h-5zM871,820h5v1h-5zM875,824h3v1h-3zM875,827h3v1h-3zM875,824h1v4h-1zM871,830h5v1h-5zM871,833h5v1h-5zM875,837h3v1h-3zM875,840h3v1h-3zM875,837h1v4h-1zM871,844h5v1h-5zM871,846h5v1h-5zM875,850h3v1h-3zM875,853h3v1h-3zM875,850h1v4h-1zM871,857h5v1h-5zM871,860h5v1h-5zM875,864h3v1h-3zM875,867h3v1h-3zM875,864h1v4h-1zM871,870h5v1h-5zM871,873h5v1h-5zM875,877h3v1h-3zM875,880h3v1h-3zM875,877h1v4h-1zM871,884h5v1h-5zM871,886h5v1h-5zM875,890h3v1h-3zM875,893h3v1h-3zM875,890h1v4h-1zM871,897h5v1h-5zM871,900h5v1h-5zM875,904h3v1h-3zM875,907h3v1h-3zM875,904h1v4h-1zM871,910h5v1h-5zM871,913h5v1h-5zM875,917h3v1h-3zM875,920h3v1h-3zM875,917h1v4h-1zM871,924h5v1h-5zM871,926h5v1h-5zM875,930h3v1h-3zM875,933h3v1h-3zM875,930h1v4h-1zM871,937h5v1h-5zM871,940h5v1h-5zM875,944h3v1h-3zM875,947h3v1h-3zM875,944h1v4h-1zM871,950h5v1h-5zM871,953h5v1h-5zM875,957h3v1h-3zM875,960h3v1h-3zM875,957h1v4h-1zM871,964h5v1h-5zM871,966h5v1h-5zM875,970h3v1h-3zM875,973h3v1h-3zM875,970h1v4h-1zM871,977h5v1h-5zM871,980h5v1h-5zM875,984h3v1h-3zM875,987h3v1h-3zM875,984h1v4h-1zM871,990h5v1h-5zM871,993h5v1h-5zM875,997h3v1h-3zM875,1000h3v1h-3zM875,997h1v4h-1zM871,1004h5v1h-5zM871,1006h5v1h-5zM875,1010h3v1h-3zM875,1013h3v1h-3zM875,1010h1v4h-1zM871,1017h5v1h-5zM871,1020h5v1h-5zM875,1024h3v1h-3zM875,1027h3v1h-3zM875,1024h1v4h-1zM871,1030h5v1h-5zM871,1033h5v1h-5zM875,1037h3v1h-3zM875,1040h3v1h-3zM875,1037h1v4h-1zM871,1044h5v1h-5zM871,1046h5v1h-5zM875,1050h3v1h-3zM875,1053h3v1h-3zM875,1050h1v4h-1zM871,1057h5v1h-5zM871,1060h5v1h-5zM875,1064h3v1h-3zM875,1067h3v1h-3zM875,1064h1v4h-1zM871,1070h5v1h-5zM871,1073h5v1h-5zM875,1077h3v1h-3zM875,1080h3v1h-3zM875,1077h1v4h-1zM871,1084h5v1h-5zM871,1086h5v1h-5zM875,1090h3v1h-3zM875,1093h3v1h-3zM875,1090h1v4h-1zM871,1097h5v1h-5zM871,1100h5v1h-5zM875,1104h3v1h-3zM875,1107h3v1h-3zM875,1104h1v4h-1zM871,1110h5v1h-5zM871,1113h5v1h-5zM875,1117h3v1h-3zM875,1120h3v1h-3zM875,1117h1v4h-1zM871,1124h5v1h-5zM871,1126h5v1h-5zM875,1130h3v1h-3zM875,1133h3v1h-3zM875,1130h1v4h-1zM871,1137h5v1h-5zM871,1140h5v1h-5zM875,1144h3v1h-3zM875,1147h3v1h-3zM875,1144h1v4h-1zM871,1150h5v1h-5zM871,1153h5v1h-5zM875,1157h3v1h-3zM875,1160h3v1h-3zM875,1157h1v4h-1zM871,1164h5v1h-5zM871,1166h5v1h-5zM875,1170h3v1h-3zM875,1173h3v1h-3zM875,1170h1v4h-1zM871,1177h5v1h-5zM871,1180h5v1h-5zM875,1184h3v1h-3zM875,1187h3v1h-3zM875,1184h1v4h-1zM871,1190h5v1h-5zM871,1193h5v1h-5zM875,1197h3v1h-3zM875,1200h3v1h-3zM875,1197h1v4h-1zM871,1204h5v1h-5zM871,1206h5v1h-5zM875,1210h3v1h-3zM875,1213h3v1h-3zM875,1210h1v4h-1zM871,1217h5v1h-5zM871,1220h5v1h-5zM875,1224h3v1h-3zM875,1227h3v1h-3zM875,1224h1v4h-1zM871,1230h5v1h-5zM871,1233h5v1h-5zM875,1237h3v1h-3zM875,1240h3v1h-3zM875,1237h1v4h-1zM871,1244h5v1h-5zM871,1246h5v1h-5zM875,1250h3v1h-3zM875,1253h3v1h-3zM875,1250h1v4h-1zM871,1257h5v1h-5zM871,1260h5v1h-5zM875,1264h3v1h-3zM875,1267h3v1h-3zM875,1264h1v4h-1zM871,1270h5v1h-5zM871,1273h5v1h-5zM875,1277h3v1h-3zM875,1280h3v1h-3zM875,1277h1v4h-1zM871,1284h5v1h-5zM871,1286h5v1h-5zM875,1290h3v1h-3zM875,1293h3v1h-3zM875,1290h1v4h-1z" fill="#000" stroke="none" shape-rendering="crispEdges"/>
<g fill="none" stroke="#000">
<line x1="249.5" y1="280.5" x2="1299.5" y2="280.5" stroke-width="1.2"/>
<line x1="249.5" y1="273" x2="249.5" y2="738" stroke-width="1.2"/>
<line x1="1299.5" y1="273" x2="1299.5" y2="737.5" stroke-width="1.2"/>
<line x1="669.5" y1="344.5" x2="879.5" y2="344.5" stroke-width="1.2"/>
<line x1="669.5" y1="338" x2="669.5" y2="494.6" stroke-width="1.2"/>
<line x1="879.5" y1="338" x2="879.5" y2="402" stroke-width="1.2"/>
<line x1="884.5" y1="408.5" x2="1448" y2="408.5" stroke-width="1.2"/>
<line x1="885.3" y1="1301.5" x2="1399.8" y2="1301.5" stroke-width="1.2"/>
<line x1="728" y1="1392.5" x2="1448" y2="1392.5" stroke-width="1.2"/>
<line x1="1393.5" y1="408.5" x2="1393.5" y2="1301.5" stroke-width="1.2"/>
<line x1="1441.5" y1="408.5" x2="1441.5" y2="1392.5" stroke-width="1.2"/>
<line x1="1305.4" y1="743.5" x2="1363" y2="743.5" stroke-width="1.2"/>
<line x1="1305.1" y1="1058.5" x2="1363.1" y2="1058.5" stroke-width="1.2"/>
<line x1="1355.5" y1="743.5" x2="1355.5" y2="1058.5" stroke-width="1.2"/>
<line x1="825.2" y1="598.5" x2="1008" y2="598.5" stroke-width="1.2"/>
<line x1="1129.5" y1="614.6" x2="1129.5" y2="795.5" stroke-width="1.2"/>
<line x1="616.5" y1="1672.5" x2="931.5" y2="1672.5" stroke-width="1.2"/>
<line x1="616.5" y1="1666" x2="616.5" y2="1715.5" stroke-width="1.2"/>
<line x1="931.5" y1="1665.6" x2="931.5" y2="1716" stroke-width="1.2"/>
<line x1="937.8" y1="1722.5" x2="1429.2" y2="1722.5" stroke-width="1.2"/>
<line x1="1305.4" y1="1842.5" x2="1362" y2="1842.5" stroke-width="1.2"/>
<line x1="885.8" y1="1887.5" x2="1429" y2="1887.5" stroke-width="1.2"/>
<line x1="1036.5" y1="1594" x2="1036.5" y2="1806" stroke-width="1.2"/>
<line x1="1355.5" y1="1722.5" x2="1355.5" y2="1842.5" stroke-width="1.2"/>
<line x1="1421.5" y1="1722.5" x2="1421.5" y2="1887.5" stroke-width="1.2"/>
</g>
<use href="#ar" transform="translate(249.5,280.5) rotate(0)"/>
<use href="#ar" transform="translate(1299.5,280.5) rotate(180)"/>
<use href="#ar" transform="translate(669.5,344.5) rotate(0)"/>
<use href="#ar" transform="translate(879.5,344.5) rotate(180)"/>
<use href="#ar" transform="translate(1393.5,408.5) rotate(90)"/>
<use href="#ar" transform="translate(1393.5,1301.5) rotate(-90)"/>
<use href="#ar" transform="translate(1441.5,408.5) rotate(90)"/>
<use href="#ar" transform="translate(1441.5,1392.5) rotate(-90)"/>
<use href="#ar" transform="translate(1355.5,743.5) rotate(90)"/>
<use href="#ar" transform="translate(1355.5,1058.5) rotate(-90)"/>
<use href="#ar" transform="translate(825.2,598.5) rotate(0) scale(1,0.6)"/>
<use href="#ar" transform="translate(880.8,598.5) rotate(180) scale(1,0.6)"/>
<use href="#ar" transform="translate(1129.5,743.5) rotate(90)"/>
<use href="#ar" transform="translate(1129.5,795.5) rotate(-90)"/>
<use href="#ar" transform="translate(616.5,1672.5) rotate(0)"/>
<use href="#ar" transform="translate(931.5,1672.5) rotate(180)"/>
<use href="#ar" transform="translate(1036.5,1722.5) rotate(90)"/>
<use href="#ar" transform="translate(1036.5,1805.5) rotate(-90)"/>
<use href="#ar" transform="translate(1355.5,1722.5) rotate(90)"/>
<use href="#ar" transform="translate(1355.5,1842.5) rotate(-90)"/>
<use href="#ar" transform="translate(1421.5,1722.5) rotate(90)"/>
<use href="#ar" transform="translate(1421.5,1887.5) rotate(-90)"/>
<g fill="none" stroke="#000" stroke-width="3.4" stroke-linecap="round" stroke-linejoin="round">
<path d="M636.12,459 A63.2,63.2 0 0 1 754.68,459"/>
<path d="M633.8,441.4 L638.2,463 L648.6,445.8 M758.9,441.4 L753,463 L742.2,445.8"/>
<path d="M792.74,1323 A63.2,63.2 0 0 0 910.86,1323"/>
<path d="M789.2,1341 L795.1,1318.9 L806.5,1335.7 M914.8,1341 L910.9,1318.9 L899,1335.7"/>
</g>
<g fill="none" stroke="#000" stroke-width="2.8">
<path d="M617.8,1806 V1722.4 H931.9 V1801 Q931.9,1806 926.9,1806" />
<path d="M617.8,1801 Q617.8,1806 622.8,1806"/>
<path d="M785.8,1722.4 V1753.8 H797.4 V1722.4" stroke-width="3"/>
<path d="M785.8,1727.5 H797.4" stroke-width="2.6"/>
<path d="M249.6,1844.7 V1806.4 H1299.1 V1844.7"/>
<path d="M249.6,1837.7 H1299.1" stroke-width="3.4"/>
<path d="M249.6,1842.9 H1299.1" stroke-width="3.6"/>
<path d="M678.4,1844.7 V1852 M712.5,1844.7 V1852" stroke-width="2.4"/>
<path d="M674.7,1858 V1852.7 H716 V1858" stroke-width="2.8"/>
<rect x="668.7" y="1858.7" width="52.4" height="28.3" stroke-width="3"/>
<path d="M836.4,1844.7 V1852 M870.5,1844.7 V1852" stroke-width="2.4"/>
<path d="M832.7,1858 V1852.7 H874 V1858" stroke-width="2.8"/>
<rect x="826.7" y="1858.7" width="52.4" height="28.3" stroke-width="3"/>
</g>
<circle cx="774" cy="1748.4" r="9.4" fill="#fff" stroke="#000" stroke-width="5"/>
<path d="M767,1748.4 H781 M774,1741.4 V1755.4" stroke="#000" stroke-width="3.2" fill="none"/>
<g fill="#000">
<text transform="translate(712.8,255.2) scale(0.33941,0.30000) translate(2,72)" font-family="Liberation Sans" font-weight="normal" font-style="italic" font-size="100" stroke="#000" stroke-linejoin="round" stroke-width="5">400</text>
<text transform="translate(773,261.05) scale(0.37879,0.28707) translate(1,56)" font-family="Liberation Sans" font-weight="normal" font-style="italic" font-size="100" stroke="#000" stroke-linejoin="round" stroke-width="5">mm</text>
<text transform="translate(722.8,319.4) scale(0.32920,0.29333) translate(-0,72)" font-family="Liberation Sans" font-weight="normal" font-style="italic" font-size="100" stroke="#000" stroke-linejoin="round" stroke-width="5">80</text>
<text transform="translate(762.5,325.12) scale(0.37879,0.28069) translate(1,56)" font-family="Liberation Sans" font-weight="normal" font-style="italic" font-size="100" stroke="#000" stroke-linejoin="round" stroke-width="5">mm</text>
<text transform="translate(901,574) scale(0.32241,0.29333) translate(3,72)" font-family="Liberation Sans" font-weight="normal" font-style="italic" font-size="100" stroke="#000" stroke-linejoin="round" stroke-width="5">20</text>
<text transform="translate(940.9,579.72) scale(0.37879,0.28069) translate(1,56)" font-family="Liberation Sans" font-weight="normal" font-style="italic" font-size="100" stroke="#000" stroke-linejoin="round" stroke-width="5">mm</text>
<text transform="translate(1105.2,720.8) rotate(-90) scale(0.32759,0.30400) translate(3,72)" font-family="Liberation Sans" font-weight="normal" font-style="italic" font-size="100" stroke="#000" stroke-linejoin="round" stroke-width="5">20</text>
<text transform="translate(1111.13,680.3) rotate(-90) scale(0.37879,0.29090) translate(1,56)" font-family="Liberation Sans" font-weight="normal" font-style="italic" font-size="100" stroke="#000" stroke-linejoin="round" stroke-width="5">mm</text>
<text transform="translate(1331.2,958.7) rotate(-90) scale(0.29940,0.30133) translate(-0,72)" font-family="Liberation Sans" font-weight="normal" font-style="italic" font-size="100" stroke="#000" stroke-linejoin="round" stroke-width="5">120</text>
<text transform="translate(1337.08,905.9) rotate(-90) scale(0.37879,0.28834) translate(1,56)" font-family="Liberation Sans" font-weight="normal" font-style="italic" font-size="100" stroke="#000" stroke-linejoin="round" stroke-width="5">mm</text>
<text transform="translate(1368.1,919.8) rotate(-90) scale(0.34345,0.30933) translate(-0,72)" font-family="Liberation Sans" font-weight="normal" font-style="italic" font-size="100" stroke="#000" stroke-linejoin="round" stroke-width="5">340</text>
<text transform="translate(1374.13,859.6) rotate(-90) scale(0.37879,0.29600) translate(1,56)" font-family="Liberation Sans" font-weight="normal" font-style="italic" font-size="100" stroke="#000" stroke-linejoin="round" stroke-width="5">mm</text>
<text transform="translate(1416.4,913.8) rotate(-90) scale(0.33294,0.29600) translate(-0,72)" font-family="Liberation Sans" font-weight="normal" font-style="italic" font-size="100" stroke="#000" stroke-linejoin="round" stroke-width="5">375</text>
<text transform="translate(1422.17,854.7) rotate(-90) scale(0.37879,0.28324) translate(1,56)" font-family="Liberation Sans" font-weight="normal" font-style="italic" font-size="100" stroke="#000" stroke-linejoin="round" stroke-width="5">mm</text>
<text transform="translate(681,1648.1) scale(0.31952,0.30533) translate(-0,72)" font-family="Liberation Sans" font-weight="normal" font-style="italic" font-size="100" stroke="#000" stroke-linejoin="round" stroke-width="5">120&#42;120</text>
<text transform="translate(803,1654.05) scale(0.37879,0.29217) translate(1,56)" font-family="Liberation Sans" font-weight="normal" font-style="italic" font-size="100" stroke="#000" stroke-linejoin="round" stroke-width="5">mm</text>
<text transform="translate(1011,1699.9) rotate(-90) scale(0.33839,0.30933) translate(-0,72)" font-family="Liberation Sans" font-weight="normal" font-style="italic" font-size="100" stroke="#000" stroke-linejoin="round" stroke-width="5">32</text>
<text transform="translate(1017.03,1659.5) rotate(-90) scale(0.37879,0.29600) translate(1,56)" font-family="Liberation Sans" font-weight="normal" font-style="italic" font-size="100" stroke="#000" stroke-linejoin="round" stroke-width="5">mm</text>
<text transform="translate(1330,1837.8) rotate(-90) scale(0.33707,0.30667) translate(2,72)" font-family="Liberation Sans" font-weight="normal" font-style="italic" font-size="100" stroke="#000" stroke-linejoin="round" stroke-width="5">46</text>
<text transform="translate(1335.98,1796.2) rotate(-90) scale(0.37879,0.29345) translate(1,56)" font-family="Liberation Sans" font-weight="normal" font-style="italic" font-size="100" stroke="#000" stroke-linejoin="round" stroke-width="5">mm</text>
<text transform="translate(1397.2,1856.9) rotate(-90) scale(0.34455,0.31200) translate(-3,72)" font-family="Liberation Sans" font-weight="normal" font-style="italic" font-size="100" stroke="#000" stroke-linejoin="round" stroke-width="5">63</text>
<text transform="translate(1403.28,1816.5) rotate(-90) scale(0.37879,0.29855) translate(1,56)" font-family="Liberation Sans" font-weight="normal" font-style="italic" font-size="100" stroke="#000" stroke-linejoin="round" stroke-width="5">mm</text>
<text transform="translate(1288,2193) scale(0.44071,0.44789) translate(-5,70)" font-family="Liberation Sans" font-weight="normal" font-style="normal" font-size="100" stroke="#000" stroke-linejoin="round" stroke-width="1.2">672843N</text>
</g>
</svg></body></html>
